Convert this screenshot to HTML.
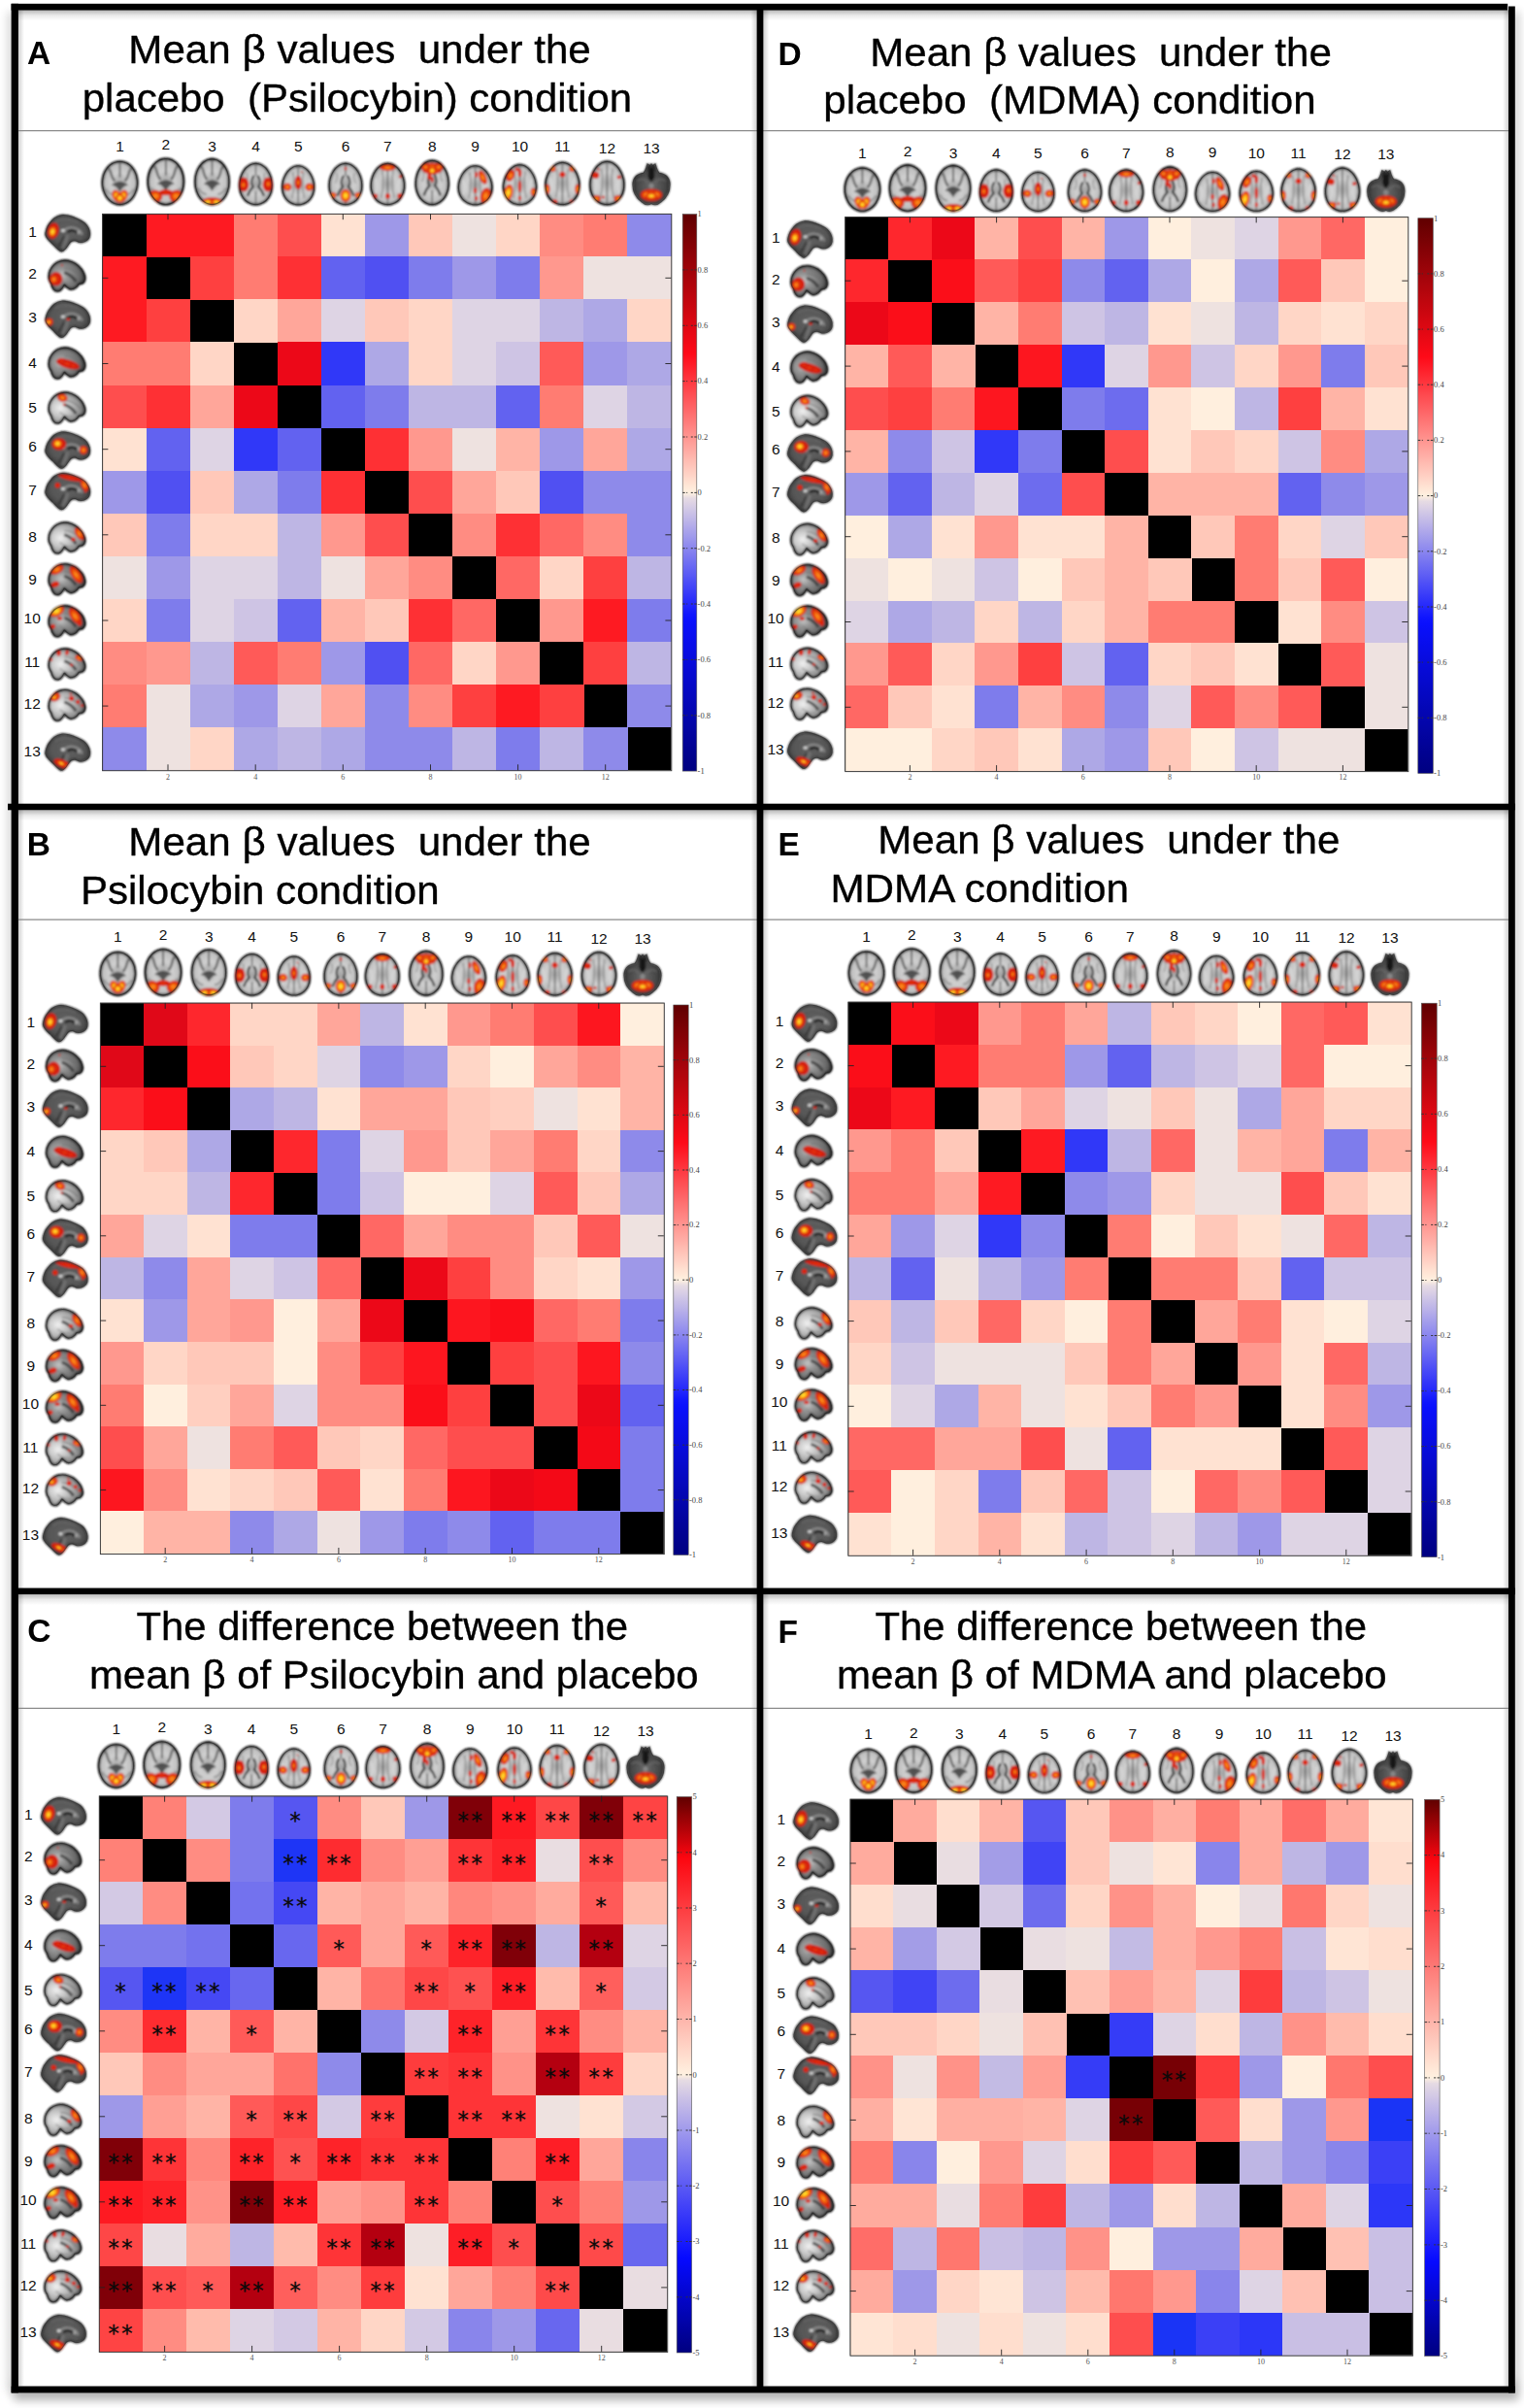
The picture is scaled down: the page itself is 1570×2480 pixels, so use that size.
<!DOCTYPE html>
<html lang="en"><head><meta charset="utf-8"><title>Mean β values</title>
<style>html,body{margin:0;padding:0;background:#fff}svg{display:block}text{white-space:pre}
.p0{d:path("M0,-22.1C1.3,-22.1 2.7,-21.9 4,-21.5C5.3,-21.2 6.6,-20.6 7.8,-19.9C9,-19.2 10.1,-18.3 11.1,-17.3C12.2,-16.3 13.1,-15.1 13.9,-13.8C14.7,-12.5 15.4,-11.1 16,-9.6C16.5,-8.1 17,-6.5 17.2,-4.9C17.5,-3.3 17.6,-1.6 17.6,-0C17.6,1.6 17.4,3.3 17.1,4.9C16.8,6.5 16.3,8.1 15.7,9.6C15.1,11.1 14.4,12.5 13.6,13.8C12.8,15.1 11.8,16.3 10.8,17.3C9.8,18.3 8.7,19.2 7.5,19.9C6.3,20.6 5.1,21.2 3.8,21.5C2.6,21.9 1.3,22.1 0,22.1C-1.3,22.1 -2.6,21.9 -3.8,21.5C-5.1,21.2 -6.3,20.6 -7.5,19.9C-8.7,19.2 -9.8,18.3 -10.8,17.3C-11.8,16.3 -12.8,15.1 -13.6,13.8C-14.4,12.5 -15.1,11.1 -15.7,9.6C-16.3,8.1 -16.8,6.5 -17.1,4.9C-17.4,3.3 -17.6,1.6 -17.6,0C-17.6,-1.6 -17.5,-3.3 -17.2,-4.9C-17,-6.5 -16.5,-8.1 -16,-9.6C-15.4,-11.1 -14.7,-12.5 -13.9,-13.8C-13.1,-15.1 -12.2,-16.3 -11.1,-17.3C-10.1,-18.3 -9,-19.2 -7.8,-19.9C-6.6,-20.6 -5.3,-21.2 -4,-21.5C-2.7,-21.9 -1.3,-22.1 0,-22.1Z");fill:url(#ga);stroke:#080808;stroke-width:2.5}
.p1{d:path("M0,-21 L0,-6");opacity:.8;stroke:#3c3c3c;stroke-width:1.6}
.p2{d:path("M-11,-15 C-8,-10 -9,-5 -5,-2 M11,-15 C8,-10 9,-5 5,-2");fill:none;opacity:.75;stroke:#4a4a4a;stroke-width:2.4}
.p3{d:path("M-9,3 C-5,-3 5,-3 9,3 C5,1 2,6 0,9 C-2,6 -5,1 -9,3 Z");fill:#3a3a3a;opacity:.8}
.p4{d:path("M-14,6 C-12,10 -9,12 -6,12 M14,6 C12,10 9,12 6,12");fill:none;opacity:.6;stroke:#666;stroke-width:1.6}
.p5{d:path("M0,-22.1C1.3,-22.1 2.7,-21.9 4,-21.5C5.3,-21.2 6.6,-20.6 7.8,-19.9C9,-19.2 10.1,-18.3 11.1,-17.3C12.2,-16.3 13.1,-15.1 13.9,-13.8C14.7,-12.5 15.4,-11.1 16,-9.6C16.5,-8.1 17,-6.5 17.2,-4.9C17.5,-3.3 17.6,-1.6 17.6,-0C17.6,1.6 17.4,3.3 17.1,4.9C16.8,6.5 16.3,8.1 15.7,9.6C15.1,11.1 14.4,12.5 13.6,13.8C12.8,15.1 11.8,16.3 10.8,17.3C9.8,18.3 8.7,19.2 7.5,19.9C6.3,20.6 5.1,21.2 3.8,21.5C2.6,21.9 1.3,22.1 0,22.1C-1.3,22.1 -2.6,21.9 -3.8,21.5C-5.1,21.2 -6.3,20.6 -7.5,19.9C-8.7,19.2 -9.8,18.3 -10.8,17.3C-11.8,16.3 -12.8,15.1 -13.6,13.8C-14.4,12.5 -15.1,11.1 -15.7,9.6C-16.3,8.1 -16.8,6.5 -17.1,4.9C-17.4,3.3 -17.6,1.6 -17.6,0C-17.6,-1.6 -17.5,-3.3 -17.2,-4.9C-17,-6.5 -16.5,-8.1 -16,-9.6C-15.4,-11.1 -14.7,-12.5 -13.9,-13.8C-13.1,-15.1 -12.2,-16.3 -11.1,-17.3C-10.1,-18.3 -9,-19.2 -7.8,-19.9C-6.6,-20.6 -5.3,-21.2 -4,-21.5C-2.7,-21.9 -1.3,-22.1 0,-22.1Z");fill:none;opacity:.55;stroke:#1a1a1a;stroke-width:1.1}
.p6{d:path("M0,21.8C-0.3,19.9 0.6,17.4 1.2,15.5C1.8,13.6 2.2,12.4 3.6,10.5C5,8.6 7,5.6 9.3,3.9C11.6,2.2 14.5,0.9 17.2,0.5C19.8,0 22.2,0.5 25.2,1.2C28.2,1.9 32.1,3.5 35,4.8C37.9,6.1 40.5,7.5 42.4,9.1C44.3,10.7 45.4,12.6 46.3,14.4C47.2,16.2 47.7,18 47.8,19.8C47.9,21.6 47.8,23.7 47,25.2C46.2,26.7 44.5,28.2 42.8,29C41.1,29.8 38.8,30.1 37,29.9C35.2,29.7 33.4,28.1 31.8,28C30.2,27.9 28.5,28.4 27.3,29.2C26.1,30 25.5,31.4 24.5,32.8C23.5,34.1 22.4,36.1 21.2,37.3C20,38.5 18.5,39.8 17.2,39.8C15.9,39.8 14.8,38.6 13.2,37.3C11.6,36 9.6,33.6 7.9,31.9C6.2,30.1 4.1,28.5 2.8,26.8C1.5,25.1 0.3,23.7 0,21.8Z");fill:url(#gm);stroke:#141414;stroke-width:1.8}
.p7{d:path("M19,18.5 C22,13 31,12.5 36.5,17 C38.5,18.8 39.3,20.5 39.5,22");fill:none;opacity:.85;stroke:#8e8e8e;stroke-width:2.6}
.p8{d:path("M24,19 C27,16 32,16.5 35,20.5");fill:none;opacity:.9;stroke:#141414;stroke-width:2.6}
.p9{d:path("M24,22 C23,27 21,32 18.5,37");fill:none;opacity:.75;stroke:#767676;stroke-width:3.6}
.p10{d:path("M20,23 C18,27 16,31 14,34");fill:none;opacity:.8;stroke:#222;stroke-width:1.5}
.p11{d:path("M10,8 C16,4 26,4 36,8");fill:none;opacity:.45;stroke:#6c6c6c;stroke-width:2.5}
.p12{d:path("M0,21.8C-0.3,19.9 0.6,17.4 1.2,15.5C1.8,13.6 2.2,12.4 3.6,10.5C5,8.6 7,5.6 9.3,3.9C11.6,2.2 14.5,0.9 17.2,0.5C19.8,0 22.2,0.5 25.2,1.2C28.2,1.9 32.1,3.5 35,4.8C37.9,6.1 40.5,7.5 42.4,9.1C44.3,10.7 45.4,12.6 46.3,14.4C47.2,16.2 47.7,18 47.8,19.8C47.9,21.6 47.8,23.7 47,25.2C46.2,26.7 44.5,28.2 42.8,29C41.1,29.8 38.8,30.1 37,29.9C35.2,29.7 33.4,28.1 31.8,28C30.2,27.9 28.5,28.4 27.3,29.2C26.1,30 25.5,31.4 24.5,32.8C23.5,34.1 22.4,36.1 21.2,37.3C20,38.5 18.5,39.8 17.2,39.8C15.9,39.8 14.8,38.6 13.2,37.3C11.6,36 9.6,33.6 7.9,31.9C6.2,30.1 4.1,28.5 2.8,26.8C1.5,25.1 0.3,23.7 0,21.8Z");fill:none;opacity:.5;stroke:#1a1a1a;stroke-width:1.1}
.p13{d:path("M0,-22.1C1.3,-22.1 2.6,-21.9 3.9,-21.5C5.2,-21.2 6.5,-20.6 7.6,-19.9C8.8,-19.2 10,-18.3 11,-17.3C12,-16.3 12.9,-15.1 13.8,-13.8C14.6,-12.5 15.3,-11.1 15.9,-9.6C16.4,-8.1 16.9,-6.5 17.2,-4.9C17.4,-3.3 17.6,-1.6 17.6,-0C17.6,1.6 17.4,3.3 17.2,4.9C16.9,6.5 16.4,8.1 15.9,9.6C15.3,11.1 14.6,12.5 13.8,13.8C12.9,15.1 12,16.3 11,17.3C10,18.3 8.8,19.2 7.6,19.9C6.5,20.6 5.2,21.2 3.9,21.5C2.6,21.9 1.3,22.1 0,22.1C-1.3,22.1 -2.6,21.9 -3.9,21.5C-5.2,21.2 -6.5,20.6 -7.6,19.9C-8.8,19.2 -10,18.3 -11,17.3C-12,16.3 -12.9,15.1 -13.8,13.8C-14.6,12.5 -15.3,11.1 -15.9,9.6C-16.4,8.1 -16.9,6.5 -17.2,4.9C-17.4,3.3 -17.6,1.6 -17.6,0C-17.6,-1.6 -17.4,-3.3 -17.2,-4.9C-16.9,-6.5 -16.4,-8.1 -15.9,-9.6C-15.3,-11.1 -14.6,-12.5 -13.8,-13.8C-12.9,-15.1 -12,-16.3 -11,-17.3C-10,-18.3 -8.8,-19.2 -7.6,-19.9C-6.5,-20.6 -5.2,-21.2 -3.9,-21.5C-2.6,-21.9 -1.3,-22.1 0,-22.1Z");fill:url(#ga);stroke:#080808;stroke-width:2.5}
.p14{d:path("M0,-22.1C1.3,-22.1 2.6,-21.9 3.9,-21.5C5.2,-21.2 6.5,-20.6 7.6,-19.9C8.8,-19.2 10,-18.3 11,-17.3C12,-16.3 12.9,-15.1 13.8,-13.8C14.6,-12.5 15.3,-11.1 15.9,-9.6C16.4,-8.1 16.9,-6.5 17.2,-4.9C17.4,-3.3 17.6,-1.6 17.6,-0C17.6,1.6 17.4,3.3 17.2,4.9C16.9,6.5 16.4,8.1 15.9,9.6C15.3,11.1 14.6,12.5 13.8,13.8C12.9,15.1 12,16.3 11,17.3C10,18.3 8.8,19.2 7.6,19.9C6.5,20.6 5.2,21.2 3.9,21.5C2.6,21.9 1.3,22.1 0,22.1C-1.3,22.1 -2.6,21.9 -3.9,21.5C-5.2,21.2 -6.5,20.6 -7.6,19.9C-8.8,19.2 -10,18.3 -11,17.3C-12,16.3 -12.9,15.1 -13.8,13.8C-14.6,12.5 -15.3,11.1 -15.9,9.6C-16.4,8.1 -16.9,6.5 -17.2,4.9C-17.4,3.3 -17.6,1.6 -17.6,0C-17.6,-1.6 -17.4,-3.3 -17.2,-4.9C-16.9,-6.5 -16.4,-8.1 -15.9,-9.6C-15.3,-11.1 -14.6,-12.5 -13.8,-13.8C-12.9,-15.1 -12,-16.3 -11,-17.3C-10,-18.3 -8.8,-19.2 -7.6,-19.9C-6.5,-20.6 -5.2,-21.2 -3.9,-21.5C-2.6,-21.9 -1.3,-22.1 0,-22.1Z");fill:none;opacity:.55;stroke:#1a1a1a;stroke-width:1.1}
.p15{d:path("M0,17.7C0.1,15.8 0.4,13.2 1.4,11C2.4,8.8 4.2,6.2 6.1,4.5C8,2.8 10.4,1.6 12.9,0.9C15.4,0.2 18.3,0 21,0.5C23.7,1 26.7,2.2 29.2,3.7C31.7,5.2 34.2,7.7 35.9,9.7C37.5,11.7 38.5,13.8 39.1,15.7C39.8,17.6 40.1,19.4 39.8,21C39.5,22.6 38.4,24.2 37.3,25C36.2,25.8 34.2,25.4 33.2,26C32.2,26.6 32.1,27.7 31.2,28.5C30.3,29.3 29.1,30.5 27.8,31C26.6,31.5 25.1,32 23.7,31.7C22.3,31.4 20.8,30 19.7,29.2C18.6,28.4 17.8,26.8 17,27C16.2,27.2 15.8,29.2 14.9,30.3C14,31.4 12.8,33 11.5,33.5C10.2,34 8,33.8 6.8,33.2C5.6,32.6 4.8,30.9 4.1,29.7C3.4,28.4 3.2,26.9 2.7,25.7C2.2,24.5 1.2,23.6 0.8,22.3C0.4,21 -0.1,19.6 0,17.7Z");fill:url(#gl);stroke:#080808;stroke-width:2.6}
.p16{d:path("M17,13.5 C22,15 27,19 30,23.5");fill:none;opacity:.75;stroke:#2e2e2e;stroke-width:3.2}
.p17{d:path("M17,9 C23,9 30,12 35,18");fill:none;opacity:.55;stroke:#6e6e6e;stroke-width:1.8}
.p18{d:path("M12,22 C16,25 22,27 27,27");fill:none;opacity:.5;stroke:#777;stroke-width:1.6}
.p19{d:path("M0,17.7C0.1,15.8 0.4,13.2 1.4,11C2.4,8.8 4.2,6.2 6.1,4.5C8,2.8 10.4,1.6 12.9,0.9C15.4,0.2 18.3,0 21,0.5C23.7,1 26.7,2.2 29.2,3.7C31.7,5.2 34.2,7.7 35.9,9.7C37.5,11.7 38.5,13.8 39.1,15.7C39.8,17.6 40.1,19.4 39.8,21C39.5,22.6 38.4,24.2 37.3,25C36.2,25.8 34.2,25.4 33.2,26C32.2,26.6 32.1,27.7 31.2,28.5C30.3,29.3 29.1,30.5 27.8,31C26.6,31.5 25.1,32 23.7,31.7C22.3,31.4 20.8,30 19.7,29.2C18.6,28.4 17.8,26.8 17,27C16.2,27.2 15.8,29.2 14.9,30.3C14,31.4 12.8,33 11.5,33.5C10.2,34 8,33.8 6.8,33.2C5.6,32.6 4.8,30.9 4.1,29.7C3.4,28.4 3.2,26.9 2.7,25.7C2.2,24.5 1.2,23.6 0.8,22.3C0.4,21 -0.1,19.6 0,17.7Z");fill:none;opacity:.5;stroke:#1a1a1a;stroke-width:1.1}
.p20{d:path("M0,-22.1C1.2,-22.1 2.5,-21.9 3.7,-21.5C4.9,-21.2 6.1,-20.6 7.2,-19.9C8.4,-19.2 9.5,-18.3 10.5,-17.3C11.5,-16.3 12.4,-15.1 13.2,-13.8C14.1,-12.5 14.8,-11.1 15.4,-9.6C16.1,-8.1 16.6,-6.5 16.9,-4.9C17.3,-3.3 17.5,-1.6 17.6,-0C17.7,1.6 17.6,3.3 17.4,4.9C17.2,6.5 16.8,8.1 16.3,9.6C15.8,11.1 15.1,12.5 14.3,13.8C13.5,15.1 12.5,16.3 11.5,17.3C10.5,18.3 9.3,19.2 8,19.9C6.8,20.6 5.5,21.2 4.1,21.5C2.8,21.9 1.4,22.1 0,22.1C-1.4,22.1 -2.8,21.9 -4.1,21.5C-5.5,21.2 -6.8,20.6 -8,19.9C-9.3,19.2 -10.5,18.3 -11.5,17.3C-12.5,16.3 -13.5,15.1 -14.3,13.8C-15.1,12.5 -15.8,11.1 -16.3,9.6C-16.8,8.1 -17.2,6.5 -17.4,4.9C-17.6,3.3 -17.7,1.6 -17.6,0C-17.5,-1.6 -17.3,-3.3 -16.9,-4.9C-16.6,-6.5 -16.1,-8.1 -15.4,-9.6C-14.8,-11.1 -14.1,-12.5 -13.2,-13.8C-12.4,-15.1 -11.5,-16.3 -10.5,-17.3C-9.5,-18.3 -8.4,-19.2 -7.2,-19.9C-6.1,-20.6 -4.9,-21.2 -3.7,-21.5C-2.5,-21.9 -1.2,-22.1 0,-22.1Z");fill:url(#ga);stroke:#080808;stroke-width:2.5}
.p21{d:path("M0,-22 L0,-9 M0,8 L0,22");opacity:.8;stroke:#444;stroke-width:1.4}
.p22{d:path("M-2,-9 C-5,-5 -5,0 -3,3 C-6,6 -8,10 -9,13 M2,-9 C5,-5 5,0 3,3 C6,6 8,10 9,13");fill:none;opacity:.85;stroke:#262626;stroke-width:2.4}
.p23{d:path("M-10,-12 C-8,-8 -9,-4 -11,-1 M10,-12 C8,-8 9,-4 11,-1");fill:none;opacity:.5;stroke:#777;stroke-width:1.6}
.p24{d:path("M0,-22.1C1.2,-22.1 2.5,-21.9 3.7,-21.5C4.9,-21.2 6.1,-20.6 7.2,-19.9C8.4,-19.2 9.5,-18.3 10.5,-17.3C11.5,-16.3 12.4,-15.1 13.2,-13.8C14.1,-12.5 14.8,-11.1 15.4,-9.6C16.1,-8.1 16.6,-6.5 16.9,-4.9C17.3,-3.3 17.5,-1.6 17.6,-0C17.7,1.6 17.6,3.3 17.4,4.9C17.2,6.5 16.8,8.1 16.3,9.6C15.8,11.1 15.1,12.5 14.3,13.8C13.5,15.1 12.5,16.3 11.5,17.3C10.5,18.3 9.3,19.2 8,19.9C6.8,20.6 5.5,21.2 4.1,21.5C2.8,21.9 1.4,22.1 0,22.1C-1.4,22.1 -2.8,21.9 -4.1,21.5C-5.5,21.2 -6.8,20.6 -8,19.9C-9.3,19.2 -10.5,18.3 -11.5,17.3C-12.5,16.3 -13.5,15.1 -14.3,13.8C-15.1,12.5 -15.8,11.1 -16.3,9.6C-16.8,8.1 -17.2,6.5 -17.4,4.9C-17.6,3.3 -17.7,1.6 -17.6,0C-17.5,-1.6 -17.3,-3.3 -16.9,-4.9C-16.6,-6.5 -16.1,-8.1 -15.4,-9.6C-14.8,-11.1 -14.1,-12.5 -13.2,-13.8C-12.4,-15.1 -11.5,-16.3 -10.5,-17.3C-9.5,-18.3 -8.4,-19.2 -7.2,-19.9C-6.1,-20.6 -4.9,-21.2 -3.7,-21.5C-2.5,-21.9 -1.2,-22.1 0,-22.1Z");fill:none;opacity:.55;stroke:#1a1a1a;stroke-width:1.1}
.p25{d:path("M0,-22.1C1.2,-22.1 2.4,-21.9 3.5,-21.5C4.7,-21.2 5.9,-20.6 6.9,-19.9C8,-19.2 9.1,-18.3 10.1,-17.3C11.1,-16.3 12.1,-15.1 12.9,-13.8C13.7,-12.5 14.5,-11.1 15.2,-9.6C15.8,-8.1 16.4,-6.5 16.8,-4.9C17.2,-3.3 17.5,-1.6 17.6,-0C17.7,1.6 17.7,3.3 17.5,4.9C17.4,6.5 17,8.1 16.5,9.6C16.1,11.1 15.4,12.5 14.6,13.8C13.8,15.1 12.9,16.3 11.8,17.3C10.8,18.3 9.6,19.2 8.3,19.9C7.1,20.6 5.7,21.2 4.3,21.5C2.9,21.9 1.4,22.1 0,22.1C-1.4,22.1 -2.9,21.9 -4.3,21.5C-5.7,21.2 -7.1,20.6 -8.3,19.9C-9.6,19.2 -10.8,18.3 -11.8,17.3C-12.9,16.3 -13.8,15.1 -14.6,13.8C-15.4,12.5 -16.1,11.1 -16.5,9.6C-17,8.1 -17.4,6.5 -17.5,4.9C-17.7,3.3 -17.7,1.6 -17.6,0C-17.5,-1.6 -17.2,-3.3 -16.8,-4.9C-16.4,-6.5 -15.8,-8.1 -15.2,-9.6C-14.5,-11.1 -13.7,-12.5 -12.9,-13.8C-12.1,-15.1 -11.1,-16.3 -10.1,-17.3C-9.1,-18.3 -8,-19.2 -6.9,-19.9C-5.9,-20.6 -4.7,-21.2 -3.5,-21.5C-2.4,-21.9 -1.2,-22.1 0,-22.1Z");fill:url(#ga);stroke:#080808;stroke-width:2.5}
.p26{d:path("M0,-22 L0,22");opacity:.75;stroke:#505050;stroke-width:1.5}
.p27{d:path("M-6,-15 C-4,-5 -5,6 -7,15 M6,-15 C4,-5 5,6 7,15");fill:none;opacity:.5;stroke:#7a7a7a;stroke-width:2.2}
.p28{d:path("M-13,-6 C-11,0 -11,6 -13,11 M13,-6 C11,0 11,6 13,11");fill:none;opacity:.5;stroke:#e4e4e4;stroke-width:2.5}
.p29{d:path("M0,-22.1C1.2,-22.1 2.4,-21.9 3.5,-21.5C4.7,-21.2 5.9,-20.6 6.9,-19.9C8,-19.2 9.1,-18.3 10.1,-17.3C11.1,-16.3 12.1,-15.1 12.9,-13.8C13.7,-12.5 14.5,-11.1 15.2,-9.6C15.8,-8.1 16.4,-6.5 16.8,-4.9C17.2,-3.3 17.5,-1.6 17.6,-0C17.7,1.6 17.7,3.3 17.5,4.9C17.4,6.5 17,8.1 16.5,9.6C16.1,11.1 15.4,12.5 14.6,13.8C13.8,15.1 12.9,16.3 11.8,17.3C10.8,18.3 9.6,19.2 8.3,19.9C7.1,20.6 5.7,21.2 4.3,21.5C2.9,21.9 1.4,22.1 0,22.1C-1.4,22.1 -2.9,21.9 -4.3,21.5C-5.7,21.2 -7.1,20.6 -8.3,19.9C-9.6,19.2 -10.8,18.3 -11.8,17.3C-12.9,16.3 -13.8,15.1 -14.6,13.8C-15.4,12.5 -16.1,11.1 -16.5,9.6C-17,8.1 -17.4,6.5 -17.5,4.9C-17.7,3.3 -17.7,1.6 -17.6,0C-17.5,-1.6 -17.2,-3.3 -16.8,-4.9C-16.4,-6.5 -15.8,-8.1 -15.2,-9.6C-14.5,-11.1 -13.7,-12.5 -12.9,-13.8C-12.1,-15.1 -11.1,-16.3 -10.1,-17.3C-9.1,-18.3 -8,-19.2 -6.9,-19.9C-5.9,-20.6 -4.7,-21.2 -3.5,-21.5C-2.4,-21.9 -1.2,-22.1 0,-22.1Z");fill:none;opacity:.55;stroke:#1a1a1a;stroke-width:1.1}
.p30{d:path("M0,17.7C0.1,15.8 0.4,13.2 1.4,11C2.4,8.8 4.2,6.2 6.1,4.5C8,2.8 10.4,1.6 12.9,0.9C15.4,0.2 18.3,0 21,0.5C23.7,1 26.7,2.2 29.2,3.7C31.7,5.2 34.2,7.7 35.9,9.7C37.5,11.7 38.5,13.8 39.1,15.7C39.8,17.6 40.1,19.4 39.8,21C39.5,22.6 38.4,24.2 37.3,25C36.2,25.8 34.2,25.4 33.2,26C32.2,26.6 32.1,27.7 31.2,28.5C30.3,29.3 29.1,30.5 27.8,31C26.6,31.5 25.1,32 23.7,31.7C22.3,31.4 20.8,30 19.7,29.2C18.6,28.4 17.8,26.8 17,27C16.2,27.2 15.8,29.2 14.9,30.3C14,31.4 12.8,33 11.5,33.5C10.2,34 8,33.8 6.8,33.2C5.6,32.6 4.8,30.9 4.1,29.7C3.4,28.4 3.2,26.9 2.7,25.7C2.2,24.5 1.2,23.6 0.8,22.3C0.4,21 -0.1,19.6 0,17.7Z");fill:url(#gl2);stroke:#080808;stroke-width:2.6}
.p31{d:path("M0,-22.1C1.2,-22.1 2.4,-21.9 3.6,-21.5C4.8,-21.2 6,-20.6 7.1,-19.9C8.2,-19.2 9.3,-18.3 10.3,-17.3C11.3,-16.3 12.2,-15.1 13.1,-13.8C13.9,-12.5 14.7,-11.1 15.3,-9.6C15.9,-8.1 16.5,-6.5 16.9,-4.9C17.2,-3.3 17.5,-1.6 17.6,-0C17.7,1.6 17.7,3.3 17.5,4.9C17.3,6.5 16.9,8.1 16.4,9.6C15.9,11.1 15.2,12.5 14.4,13.8C13.7,15.1 12.7,16.3 11.7,17.3C10.6,18.3 9.4,19.2 8.2,19.9C6.9,20.6 5.6,21.2 4.2,21.5C2.9,21.9 1.4,22.1 0,22.1C-1.4,22.1 -2.9,21.9 -4.2,21.5C-5.6,21.2 -6.9,20.6 -8.2,19.9C-9.4,19.2 -10.6,18.3 -11.7,17.3C-12.7,16.3 -13.7,15.1 -14.4,13.8C-15.2,12.5 -15.9,11.1 -16.4,9.6C-16.9,8.1 -17.3,6.5 -17.5,4.9C-17.7,3.3 -17.7,1.6 -17.6,0C-17.5,-1.6 -17.2,-3.3 -16.9,-4.9C-16.5,-6.5 -15.9,-8.1 -15.3,-9.6C-14.7,-11.1 -13.9,-12.5 -13.1,-13.8C-12.2,-15.1 -11.3,-16.3 -10.3,-17.3C-9.3,-18.3 -8.2,-19.2 -7.1,-19.9C-6,-20.6 -4.8,-21.2 -3.6,-21.5C-2.4,-21.9 -1.2,-22.1 0,-22.1Z");fill:url(#ga);stroke:#080808;stroke-width:2.5}
.p32{d:path("M0,-22.1C1.2,-22.1 2.4,-21.9 3.6,-21.5C4.8,-21.2 6,-20.6 7.1,-19.9C8.2,-19.2 9.3,-18.3 10.3,-17.3C11.3,-16.3 12.2,-15.1 13.1,-13.8C13.9,-12.5 14.7,-11.1 15.3,-9.6C15.9,-8.1 16.5,-6.5 16.9,-4.9C17.2,-3.3 17.5,-1.6 17.6,-0C17.7,1.6 17.7,3.3 17.5,4.9C17.3,6.5 16.9,8.1 16.4,9.6C15.9,11.1 15.2,12.5 14.4,13.8C13.7,15.1 12.7,16.3 11.7,17.3C10.6,18.3 9.4,19.2 8.2,19.9C6.9,20.6 5.6,21.2 4.2,21.5C2.9,21.9 1.4,22.1 0,22.1C-1.4,22.1 -2.9,21.9 -4.2,21.5C-5.6,21.2 -6.9,20.6 -8.2,19.9C-9.4,19.2 -10.6,18.3 -11.7,17.3C-12.7,16.3 -13.7,15.1 -14.4,13.8C-15.2,12.5 -15.9,11.1 -16.4,9.6C-16.9,8.1 -17.3,6.5 -17.5,4.9C-17.7,3.3 -17.7,1.6 -17.6,0C-17.5,-1.6 -17.2,-3.3 -16.9,-4.9C-16.5,-6.5 -15.9,-8.1 -15.3,-9.6C-14.7,-11.1 -13.9,-12.5 -13.1,-13.8C-12.2,-15.1 -11.3,-16.3 -10.3,-17.3C-9.3,-18.3 -8.2,-19.2 -7.1,-19.9C-6,-20.6 -4.8,-21.2 -3.6,-21.5C-2.4,-21.9 -1.2,-22.1 0,-22.1Z");fill:none;opacity:.55;stroke:#1a1a1a;stroke-width:1.1}
.p33{d:path("M0,-22.1C1.3,-22.1 2.5,-21.9 3.8,-21.5C5,-21.2 6.2,-20.6 7.4,-19.9C8.5,-19.2 9.6,-18.3 10.6,-17.3C11.6,-16.3 12.6,-15.1 13.4,-13.8C14.2,-12.5 15,-11.1 15.6,-9.6C16.2,-8.1 16.7,-6.5 17,-4.9C17.3,-3.3 17.5,-1.6 17.6,-0C17.7,1.6 17.6,3.3 17.3,4.9C17.1,6.5 16.7,8.1 16.1,9.6C15.6,11.1 14.9,12.5 14.1,13.8C13.3,15.1 12.3,16.3 11.3,17.3C10.3,18.3 9.1,19.2 7.9,19.9C6.7,20.6 5.4,21.2 4.1,21.5C2.8,21.9 1.4,22.1 0,22.1C-1.4,22.1 -2.8,21.9 -4.1,21.5C-5.4,21.2 -6.7,20.6 -7.9,19.9C-9.1,19.2 -10.3,18.3 -11.3,17.3C-12.3,16.3 -13.3,15.1 -14.1,13.8C-14.9,12.5 -15.6,11.1 -16.1,9.6C-16.7,8.1 -17.1,6.5 -17.3,4.9C-17.6,3.3 -17.7,1.6 -17.6,0C-17.5,-1.6 -17.3,-3.3 -17,-4.9C-16.7,-6.5 -16.2,-8.1 -15.6,-9.6C-15,-11.1 -14.2,-12.5 -13.4,-13.8C-12.6,-15.1 -11.6,-16.3 -10.6,-17.3C-9.6,-18.3 -8.5,-19.2 -7.4,-19.9C-6.2,-20.6 -5,-21.2 -3.8,-21.5C-2.5,-21.9 -1.3,-22.1 0,-22.1Z");fill:url(#ga);stroke:#080808;stroke-width:2.5}
.p34{d:path("M0,-22.1C1.3,-22.1 2.5,-21.9 3.8,-21.5C5,-21.2 6.2,-20.6 7.4,-19.9C8.5,-19.2 9.6,-18.3 10.6,-17.3C11.6,-16.3 12.6,-15.1 13.4,-13.8C14.2,-12.5 15,-11.1 15.6,-9.6C16.2,-8.1 16.7,-6.5 17,-4.9C17.3,-3.3 17.5,-1.6 17.6,-0C17.7,1.6 17.6,3.3 17.3,4.9C17.1,6.5 16.7,8.1 16.1,9.6C15.6,11.1 14.9,12.5 14.1,13.8C13.3,15.1 12.3,16.3 11.3,17.3C10.3,18.3 9.1,19.2 7.9,19.9C6.7,20.6 5.4,21.2 4.1,21.5C2.8,21.9 1.4,22.1 0,22.1C-1.4,22.1 -2.8,21.9 -4.1,21.5C-5.4,21.2 -6.7,20.6 -7.9,19.9C-9.1,19.2 -10.3,18.3 -11.3,17.3C-12.3,16.3 -13.3,15.1 -14.1,13.8C-14.9,12.5 -15.6,11.1 -16.1,9.6C-16.7,8.1 -17.1,6.5 -17.3,4.9C-17.6,3.3 -17.7,1.6 -17.6,0C-17.5,-1.6 -17.3,-3.3 -17,-4.9C-16.7,-6.5 -16.2,-8.1 -15.6,-9.6C-15,-11.1 -14.2,-12.5 -13.4,-13.8C-12.6,-15.1 -11.6,-16.3 -10.6,-17.3C-9.6,-18.3 -8.5,-19.2 -7.4,-19.9C-6.2,-20.6 -5,-21.2 -3.8,-21.5C-2.5,-21.9 -1.3,-22.1 0,-22.1Z");fill:none;opacity:.55;stroke:#1a1a1a;stroke-width:1.1}
.p35{d:path("M0,-22.1C1.2,-22.1 2.3,-21.9 3.5,-21.5C4.6,-21.2 5.7,-20.6 6.8,-19.9C7.9,-19.2 9,-18.3 9.9,-17.3C10.9,-16.3 11.9,-15.1 12.7,-13.8C13.6,-12.5 14.4,-11.1 15,-9.6C15.7,-8.1 16.3,-6.5 16.7,-4.9C17.1,-3.3 17.4,-1.6 17.6,-0C17.8,1.6 17.8,3.3 17.6,4.9C17.5,6.5 17.2,8.1 16.7,9.6C16.2,11.1 15.6,12.5 14.8,13.8C14,15.1 13.1,16.3 12,17.3C10.9,18.3 9.7,19.2 8.5,19.9C7.2,20.6 5.8,21.2 4.4,21.5C3,21.9 1.5,22.1 0,22.1C-1.5,22.1 -3,21.9 -4.4,21.5C-5.8,21.2 -7.2,20.6 -8.5,19.9C-9.7,19.2 -10.9,18.3 -12,17.3C-13.1,16.3 -14,15.1 -14.8,13.8C-15.6,12.5 -16.2,11.1 -16.7,9.6C-17.2,8.1 -17.5,6.5 -17.6,4.9C-17.8,3.3 -17.8,1.6 -17.6,0C-17.4,-1.6 -17.1,-3.3 -16.7,-4.9C-16.3,-6.5 -15.7,-8.1 -15,-9.6C-14.4,-11.1 -13.6,-12.5 -12.7,-13.8C-11.9,-15.1 -10.9,-16.3 -9.9,-17.3C-9,-18.3 -7.9,-19.2 -6.8,-19.9C-5.7,-20.6 -4.6,-21.2 -3.5,-21.5C-2.3,-21.9 -1.2,-22.1 0,-22.1Z");fill:url(#ga);stroke:#080808;stroke-width:2.5}
.p36{d:path("M0,-22.1C1.2,-22.1 2.3,-21.9 3.5,-21.5C4.6,-21.2 5.7,-20.6 6.8,-19.9C7.9,-19.2 9,-18.3 9.9,-17.3C10.9,-16.3 11.9,-15.1 12.7,-13.8C13.6,-12.5 14.4,-11.1 15,-9.6C15.7,-8.1 16.3,-6.5 16.7,-4.9C17.1,-3.3 17.4,-1.6 17.6,-0C17.8,1.6 17.8,3.3 17.6,4.9C17.5,6.5 17.2,8.1 16.7,9.6C16.2,11.1 15.6,12.5 14.8,13.8C14,15.1 13.1,16.3 12,17.3C10.9,18.3 9.7,19.2 8.5,19.9C7.2,20.6 5.8,21.2 4.4,21.5C3,21.9 1.5,22.1 0,22.1C-1.5,22.1 -3,21.9 -4.4,21.5C-5.8,21.2 -7.2,20.6 -8.5,19.9C-9.7,19.2 -10.9,18.3 -12,17.3C-13.1,16.3 -14,15.1 -14.8,13.8C-15.6,12.5 -16.2,11.1 -16.7,9.6C-17.2,8.1 -17.5,6.5 -17.6,4.9C-17.8,3.3 -17.8,1.6 -17.6,0C-17.4,-1.6 -17.1,-3.3 -16.7,-4.9C-16.3,-6.5 -15.7,-8.1 -15,-9.6C-14.4,-11.1 -13.6,-12.5 -12.7,-13.8C-11.9,-15.1 -10.9,-16.3 -9.9,-17.3C-9,-18.3 -7.9,-19.2 -6.8,-19.9C-5.7,-20.6 -4.6,-21.2 -3.5,-21.5C-2.3,-21.9 -1.2,-22.1 0,-22.1Z");fill:none;opacity:.55;stroke:#1a1a1a;stroke-width:1.1}
.p37{d:path("M-4,-23 C-5,-19 -6,-15 -8,-13 C-14,-12 -19,-8 -19,0 C-19,9 -15,15 -10,19 C-6,23 -3,23 0,21 C3,23 6,23 10,19 C15,15 19,9 19,0 C19,-8 14,-12 8,-13 C6,-15 5,-19 4,-23 L1.5,-21 L0,-23 L-1.5,-21 Z");fill:url(#gd);stroke:#1c1c1c;stroke-width:1.2}
.p38{d:path("M-3.5,-19 C-2,-12 -6,-8 0,-3 C6,-8 2,-12 3.5,-19 Z");fill:#0c0c0c;opacity:.85}
.p39{d:path("M-15,-4 C-10,-8 -6,-6 -4,-2 M15,-4 C10,-8 6,-6 4,-2");fill:none;opacity:.45;stroke:#777;stroke-width:2.2}
.p40{d:path("M-4,-23 C-5,-19 -6,-15 -8,-13 C-14,-12 -19,-8 -19,0 C-19,9 -15,15 -10,19 C-6,23 -3,23 0,21 C3,23 6,23 10,19 C15,15 19,9 19,0 C19,-8 14,-12 8,-13 C6,-15 5,-19 4,-23 L1.5,-21 L0,-23 L-1.5,-21 Z");fill:none;opacity:.55;stroke:#1a1a1a;stroke-width:1.1}</style></head><body>
<svg width="1570" height="2480" viewBox="0 0 1570 2480">
<defs>
<linearGradient id="cbar" x1="0" y1="0" x2="0" y2="1"><stop offset="0.00" stop-color="#600000"/><stop offset="0.01" stop-color="#660001"/><stop offset="0.02" stop-color="#6d0102"/><stop offset="0.03" stop-color="#730103"/><stop offset="0.04" stop-color="#790204"/><stop offset="0.05" stop-color="#800205"/><stop offset="0.06" stop-color="#860206"/><stop offset="0.07" stop-color="#8c0307"/><stop offset="0.08" stop-color="#930308"/><stop offset="0.09" stop-color="#990409"/><stop offset="0.10" stop-color="#9f040a"/><stop offset="0.11" stop-color="#a6040b"/><stop offset="0.12" stop-color="#ac050c"/><stop offset="0.13" stop-color="#b2050c"/><stop offset="0.14" stop-color="#b8060d"/><stop offset="0.15" stop-color="#bf060e"/><stop offset="0.16" stop-color="#c5060f"/><stop offset="0.17" stop-color="#cb0710"/><stop offset="0.18" stop-color="#d20711"/><stop offset="0.19" stop-color="#d80812"/><stop offset="0.20" stop-color="#de0813"/><stop offset="0.21" stop-color="#e50814"/><stop offset="0.22" stop-color="#eb0915"/><stop offset="0.23" stop-color="#f10916"/><stop offset="0.24" stop-color="#f80a17"/><stop offset="0.25" stop-color="#fe0a18"/><stop offset="0.26" stop-color="#fe1320"/><stop offset="0.27" stop-color="#fe1c28"/><stop offset="0.28" stop-color="#fe2630"/><stop offset="0.29" stop-color="#fe2f38"/><stop offset="0.30" stop-color="#fe3840"/><stop offset="0.31" stop-color="#fe4148"/><stop offset="0.32" stop-color="#fe4b50"/><stop offset="0.33" stop-color="#fe5458"/><stop offset="0.34" stop-color="#fe5d60"/><stop offset="0.35" stop-color="#fe6668"/><stop offset="0.36" stop-color="#fe7070"/><stop offset="0.37" stop-color="#fe7978"/><stop offset="0.38" stop-color="#ff8280"/><stop offset="0.39" stop-color="#ff8b88"/><stop offset="0.40" stop-color="#ff9590"/><stop offset="0.41" stop-color="#ff9e98"/><stop offset="0.42" stop-color="#ffa7a0"/><stop offset="0.43" stop-color="#ffb0a8"/><stop offset="0.44" stop-color="#ffbab0"/><stop offset="0.45" stop-color="#ffc3b8"/><stop offset="0.46" stop-color="#ffccc0"/><stop offset="0.47" stop-color="#ffd5c8"/><stop offset="0.48" stop-color="#ffdfd0"/><stop offset="0.49" stop-color="#ffe8d8"/><stop offset="0.50" stop-color="#fff1e0"/><stop offset="0.51" stop-color="#e6dbe3"/><stop offset="0.52" stop-color="#dcd1e5"/><stop offset="0.53" stop-color="#d1c8e6"/><stop offset="0.54" stop-color="#c7bee7"/><stop offset="0.55" stop-color="#bdb5e8"/><stop offset="0.56" stop-color="#b3abea"/><stop offset="0.57" stop-color="#a8a2eb"/><stop offset="0.58" stop-color="#9e99ec"/><stop offset="0.59" stop-color="#948fee"/><stop offset="0.60" stop-color="#8a86ef"/><stop offset="0.61" stop-color="#807cf0"/><stop offset="0.62" stop-color="#7573f1"/><stop offset="0.63" stop-color="#6b6af3"/><stop offset="0.64" stop-color="#6160f4"/><stop offset="0.65" stop-color="#5757f5"/><stop offset="0.66" stop-color="#4c4df7"/><stop offset="0.67" stop-color="#4244f8"/><stop offset="0.68" stop-color="#383af9"/><stop offset="0.69" stop-color="#2e31fa"/><stop offset="0.70" stop-color="#2428fc"/><stop offset="0.71" stop-color="#191efd"/><stop offset="0.72" stop-color="#0f15fe"/><stop offset="0.73" stop-color="#0a10fd"/><stop offset="0.74" stop-color="#090ff8"/><stop offset="0.75" stop-color="#090ff3"/><stop offset="0.76" stop-color="#090eef"/><stop offset="0.77" stop-color="#080dea"/><stop offset="0.78" stop-color="#080de6"/><stop offset="0.79" stop-color="#080ce1"/><stop offset="0.80" stop-color="#070cdc"/><stop offset="0.81" stop-color="#070bd8"/><stop offset="0.82" stop-color="#070ad3"/><stop offset="0.83" stop-color="#060acf"/><stop offset="0.84" stop-color="#0609ca"/><stop offset="0.85" stop-color="#0509c5"/><stop offset="0.86" stop-color="#0508c1"/><stop offset="0.87" stop-color="#0508bc"/><stop offset="0.88" stop-color="#0407b7"/><stop offset="0.89" stop-color="#0406b3"/><stop offset="0.90" stop-color="#0406ae"/><stop offset="0.91" stop-color="#0305aa"/><stop offset="0.92" stop-color="#0305a5"/><stop offset="0.93" stop-color="#0304a0"/><stop offset="0.94" stop-color="#02039c"/><stop offset="0.95" stop-color="#020397"/><stop offset="0.96" stop-color="#010292"/><stop offset="0.97" stop-color="#01028e"/><stop offset="0.98" stop-color="#010189"/><stop offset="0.99" stop-color="#000185"/><stop offset="1.00" stop-color="#000080"/></linearGradient>
<linearGradient id="cbar5" x1="0" y1="0" x2="0" y2="1"><stop offset="0.00" stop-color="#600000"/><stop offset="0.01" stop-color="#6e0101"/><stop offset="0.02" stop-color="#7c0103"/><stop offset="0.03" stop-color="#8b0204"/><stop offset="0.04" stop-color="#990206"/><stop offset="0.05" stop-color="#a70307"/><stop offset="0.06" stop-color="#b50309"/><stop offset="0.07" stop-color="#c3040a"/><stop offset="0.08" stop-color="#d1040c"/><stop offset="0.09" stop-color="#e0050d"/><stop offset="0.10" stop-color="#ee050f"/><stop offset="0.11" stop-color="#fc0610"/><stop offset="0.12" stop-color="#fc0c15"/><stop offset="0.13" stop-color="#fc121b"/><stop offset="0.14" stop-color="#fc1820"/><stop offset="0.15" stop-color="#fc1e25"/><stop offset="0.16" stop-color="#fc242b"/><stop offset="0.17" stop-color="#fc2a30"/><stop offset="0.18" stop-color="#fd3035"/><stop offset="0.19" stop-color="#fd363b"/><stop offset="0.20" stop-color="#fd3c40"/><stop offset="0.21" stop-color="#fd4245"/><stop offset="0.22" stop-color="#fd484b"/><stop offset="0.23" stop-color="#fd4e50"/><stop offset="0.24" stop-color="#fd5455"/><stop offset="0.25" stop-color="#fd5a5b"/><stop offset="0.26" stop-color="#fd6060"/><stop offset="0.27" stop-color="#fd6665"/><stop offset="0.28" stop-color="#fd6c6b"/><stop offset="0.29" stop-color="#fd7270"/><stop offset="0.30" stop-color="#fd7875"/><stop offset="0.31" stop-color="#fe7f7b"/><stop offset="0.32" stop-color="#fe8580"/><stop offset="0.33" stop-color="#fe8b85"/><stop offset="0.34" stop-color="#fe918b"/><stop offset="0.35" stop-color="#fe9790"/><stop offset="0.36" stop-color="#fe9d95"/><stop offset="0.37" stop-color="#fea39b"/><stop offset="0.38" stop-color="#fea9a0"/><stop offset="0.39" stop-color="#feafa5"/><stop offset="0.40" stop-color="#feb5ab"/><stop offset="0.41" stop-color="#febbb0"/><stop offset="0.42" stop-color="#fec1b5"/><stop offset="0.43" stop-color="#fec7bb"/><stop offset="0.44" stop-color="#ffcdc0"/><stop offset="0.45" stop-color="#ffd3c5"/><stop offset="0.46" stop-color="#ffd9cb"/><stop offset="0.47" stop-color="#ffdfd0"/><stop offset="0.48" stop-color="#ffe5d5"/><stop offset="0.49" stop-color="#ffebdb"/><stop offset="0.50" stop-color="#fff1e0"/><stop offset="0.51" stop-color="#e6dbe3"/><stop offset="0.52" stop-color="#ddd3e4"/><stop offset="0.53" stop-color="#d5cbe5"/><stop offset="0.54" stop-color="#cdc3e6"/><stop offset="0.55" stop-color="#c5bce7"/><stop offset="0.56" stop-color="#beb5e8"/><stop offset="0.57" stop-color="#b6aee9"/><stop offset="0.58" stop-color="#afa7ea"/><stop offset="0.59" stop-color="#a7a0eb"/><stop offset="0.60" stop-color="#a09aec"/><stop offset="0.61" stop-color="#9993ed"/><stop offset="0.62" stop-color="#928cee"/><stop offset="0.63" stop-color="#8b86ef"/><stop offset="0.64" stop-color="#847fef"/><stop offset="0.65" stop-color="#7d79f0"/><stop offset="0.66" stop-color="#7672f1"/><stop offset="0.67" stop-color="#6f6cf2"/><stop offset="0.68" stop-color="#6866f3"/><stop offset="0.69" stop-color="#625ff4"/><stop offset="0.70" stop-color="#5b59f4"/><stop offset="0.71" stop-color="#5453f5"/><stop offset="0.72" stop-color="#4e4df6"/><stop offset="0.73" stop-color="#4746f7"/><stop offset="0.74" stop-color="#4040f8"/><stop offset="0.75" stop-color="#3a3af9"/><stop offset="0.76" stop-color="#3334f9"/><stop offset="0.77" stop-color="#2d2efa"/><stop offset="0.78" stop-color="#2628fb"/><stop offset="0.79" stop-color="#2022fc"/><stop offset="0.80" stop-color="#191cfd"/><stop offset="0.81" stop-color="#1316fd"/><stop offset="0.82" stop-color="#0c10fe"/><stop offset="0.83" stop-color="#060aff"/><stop offset="0.84" stop-color="#0609f8"/><stop offset="0.85" stop-color="#0509f0"/><stop offset="0.86" stop-color="#0508e9"/><stop offset="0.87" stop-color="#0508e1"/><stop offset="0.88" stop-color="#0407da"/><stop offset="0.89" stop-color="#0406d2"/><stop offset="0.90" stop-color="#0406cb"/><stop offset="0.91" stop-color="#0305c3"/><stop offset="0.92" stop-color="#0305bc"/><stop offset="0.93" stop-color="#0204b4"/><stop offset="0.94" stop-color="#0204ad"/><stop offset="0.95" stop-color="#0203a5"/><stop offset="0.96" stop-color="#01029e"/><stop offset="0.97" stop-color="#010296"/><stop offset="0.98" stop-color="#01018f"/><stop offset="0.99" stop-color="#000187"/><stop offset="1.00" stop-color="#000080"/></linearGradient>
<radialGradient id="gy"><stop offset="0" stop-color="#fff23a"/><stop offset=".3" stop-color="#ffc820"/><stop offset=".6" stop-color="#f87410"/><stop offset=".88" stop-color="#da2a10"/><stop offset="1" stop-color="#c81c10" stop-opacity=".7"/></radialGradient>
<radialGradient id="go"><stop offset="0" stop-color="#ffa01a"/><stop offset=".4" stop-color="#f26410"/><stop offset=".8" stop-color="#da2810"/><stop offset="1" stop-color="#c81c10" stop-opacity=".7"/></radialGradient>
<radialGradient id="gr"><stop offset="0" stop-color="#e63412"/><stop offset=".8" stop-color="#d41c10"/><stop offset="1" stop-color="#c41810" stop-opacity=".7"/></radialGradient>
<radialGradient id="ga" cx=".5" cy=".5" r=".56"><stop offset="0" stop-color="#a2a2a2"/><stop offset=".45" stop-color="#d0d0d0"/><stop offset=".8" stop-color="#bebebe"/><stop offset=".93" stop-color="#7c7c7c"/><stop offset="1" stop-color="#3c3c3c"/></radialGradient>
<radialGradient id="gd" cx=".5" cy=".55" r=".6"><stop offset="0" stop-color="#686868"/><stop offset=".6" stop-color="#484848"/><stop offset="1" stop-color="#242424"/></radialGradient>
<radialGradient id="gm" cx=".5" cy=".42" r=".62"><stop offset="0" stop-color="#5e5e5e"/><stop offset=".55" stop-color="#585858"/><stop offset=".85" stop-color="#444"/><stop offset="1" stop-color="#2a2a2a"/></radialGradient>
<radialGradient id="gl" cx=".34" cy=".48" r=".68"><stop offset="0" stop-color="#c4c4c4"/><stop offset=".3" stop-color="#969696"/><stop offset=".75" stop-color="#6a6a6a"/><stop offset="1" stop-color="#3a3a3a"/></radialGradient>
<radialGradient id="gl2" cx=".32" cy=".5" r=".7"><stop offset="0" stop-color="#f0f0f0"/><stop offset=".4" stop-color="#c4c4c4"/><stop offset=".8" stop-color="#8c8c8c"/><stop offset="1" stop-color="#505050"/></radialGradient>
<filter id="bl" x="-10%" y="-10%" width="120%" height="120%"><feGaussianBlur stdDeviation=".95"/></filter>
<filter id="sh" x="-5%" y="-5%" width="110%" height="110%"><feGaussianBlur stdDeviation="5"/></filter>
<linearGradient id="ish" x1="0" y1="0" x2="0" y2="1"><stop offset="0" stop-color="#000" stop-opacity=".28"/><stop offset=".5" stop-color="#000" stop-opacity=".08"/><stop offset="1" stop-color="#000" stop-opacity="0"/></linearGradient>
<linearGradient id="isv" x1="0" y1="0" x2="1" y2="0"><stop offset="0" stop-color="#000" stop-opacity=".18"/><stop offset="1" stop-color="#000" stop-opacity="0"/></linearGradient>
<linearGradient id="isw" x1="1" y1="0" x2="0" y2="0"><stop offset="0" stop-color="#000" stop-opacity=".18"/><stop offset="1" stop-color="#000" stop-opacity="0"/></linearGradient>
<clipPath id="ka1"><path d="M0,-22.1C1.3,-22.1 2.7,-21.9 4,-21.5C5.3,-21.2 6.6,-20.6 7.8,-19.9C9,-19.2 10.1,-18.3 11.1,-17.3C12.2,-16.3 13.1,-15.1 13.9,-13.8C14.7,-12.5 15.4,-11.1 16,-9.6C16.5,-8.1 17,-6.5 17.2,-4.9C17.5,-3.3 17.6,-1.6 17.6,-0C17.6,1.6 17.4,3.3 17.1,4.9C16.8,6.5 16.3,8.1 15.7,9.6C15.1,11.1 14.4,12.5 13.6,13.8C12.8,15.1 11.8,16.3 10.8,17.3C9.8,18.3 8.7,19.2 7.5,19.9C6.3,20.6 5.1,21.2 3.8,21.5C2.6,21.9 1.3,22.1 0,22.1C-1.3,22.1 -2.6,21.9 -3.8,21.5C-5.1,21.2 -6.3,20.6 -7.5,19.9C-8.7,19.2 -9.8,18.3 -10.8,17.3C-11.8,16.3 -12.8,15.1 -13.6,13.8C-14.4,12.5 -15.1,11.1 -15.7,9.6C-16.3,8.1 -16.8,6.5 -17.1,4.9C-17.4,3.3 -17.6,1.6 -17.6,0C-17.6,-1.6 -17.5,-3.3 -17.2,-4.9C-17,-6.5 -16.5,-8.1 -16,-9.6C-15.4,-11.1 -14.7,-12.5 -13.9,-13.8C-13.1,-15.1 -12.2,-16.3 -11.1,-17.3C-10.1,-18.3 -9,-19.2 -7.8,-19.9C-6.6,-20.6 -5.3,-21.2 -4,-21.5C-2.7,-21.9 -1.3,-22.1 0,-22.1Z"/></clipPath><clipPath id="km"><path d="M0,21.8C-0.3,19.9 0.6,17.4 1.2,15.5C1.8,13.6 2.2,12.4 3.6,10.5C5,8.6 7,5.6 9.3,3.9C11.6,2.2 14.5,0.9 17.2,0.5C19.8,0 22.2,0.5 25.2,1.2C28.2,1.9 32.1,3.5 35,4.8C37.9,6.1 40.5,7.5 42.4,9.1C44.3,10.7 45.4,12.6 46.3,14.4C47.2,16.2 47.7,18 47.8,19.8C47.9,21.6 47.8,23.7 47,25.2C46.2,26.7 44.5,28.2 42.8,29C41.1,29.8 38.8,30.1 37,29.9C35.2,29.7 33.4,28.1 31.8,28C30.2,27.9 28.5,28.4 27.3,29.2C26.1,30 25.5,31.4 24.5,32.8C23.5,34.1 22.4,36.1 21.2,37.3C20,38.5 18.5,39.8 17.2,39.8C15.9,39.8 14.8,38.6 13.2,37.3C11.6,36 9.6,33.6 7.9,31.9C6.2,30.1 4.1,28.5 2.8,26.8C1.5,25.1 0.3,23.7 0,21.8Z"/></clipPath><clipPath id="ka2"><path d="M0,-22.1C1.3,-22.1 2.6,-21.9 3.9,-21.5C5.2,-21.2 6.5,-20.6 7.6,-19.9C8.8,-19.2 10,-18.3 11,-17.3C12,-16.3 12.9,-15.1 13.8,-13.8C14.6,-12.5 15.3,-11.1 15.9,-9.6C16.4,-8.1 16.9,-6.5 17.2,-4.9C17.4,-3.3 17.6,-1.6 17.6,-0C17.6,1.6 17.4,3.3 17.2,4.9C16.9,6.5 16.4,8.1 15.9,9.6C15.3,11.1 14.6,12.5 13.8,13.8C12.9,15.1 12,16.3 11,17.3C10,18.3 8.8,19.2 7.6,19.9C6.5,20.6 5.2,21.2 3.9,21.5C2.6,21.9 1.3,22.1 0,22.1C-1.3,22.1 -2.6,21.9 -3.9,21.5C-5.2,21.2 -6.5,20.6 -7.6,19.9C-8.8,19.2 -10,18.3 -11,17.3C-12,16.3 -12.9,15.1 -13.8,13.8C-14.6,12.5 -15.3,11.1 -15.9,9.6C-16.4,8.1 -16.9,6.5 -17.2,4.9C-17.4,3.3 -17.6,1.6 -17.6,0C-17.6,-1.6 -17.4,-3.3 -17.2,-4.9C-16.9,-6.5 -16.4,-8.1 -15.9,-9.6C-15.3,-11.1 -14.6,-12.5 -13.8,-13.8C-12.9,-15.1 -12,-16.3 -11,-17.3C-10,-18.3 -8.8,-19.2 -7.6,-19.9C-6.5,-20.6 -5.2,-21.2 -3.9,-21.5C-2.6,-21.9 -1.3,-22.1 0,-22.1Z"/></clipPath><clipPath id="kl"><path d="M0,17.7C0.1,15.8 0.4,13.2 1.4,11C2.4,8.8 4.2,6.2 6.1,4.5C8,2.8 10.4,1.6 12.9,0.9C15.4,0.2 18.3,0 21,0.5C23.7,1 26.7,2.2 29.2,3.7C31.7,5.2 34.2,7.7 35.9,9.7C37.5,11.7 38.5,13.8 39.1,15.7C39.8,17.6 40.1,19.4 39.8,21C39.5,22.6 38.4,24.2 37.3,25C36.2,25.8 34.2,25.4 33.2,26C32.2,26.6 32.1,27.7 31.2,28.5C30.3,29.3 29.1,30.5 27.8,31C26.6,31.5 25.1,32 23.7,31.7C22.3,31.4 20.8,30 19.7,29.2C18.6,28.4 17.8,26.8 17,27C16.2,27.2 15.8,29.2 14.9,30.3C14,31.4 12.8,33 11.5,33.5C10.2,34 8,33.8 6.8,33.2C5.6,32.6 4.8,30.9 4.1,29.7C3.4,28.4 3.2,26.9 2.7,25.7C2.2,24.5 1.2,23.6 0.8,22.3C0.4,21 -0.1,19.6 0,17.7Z"/></clipPath><clipPath id="ka3"><path d="M0,-22.1C1.3,-22.1 2.6,-21.9 3.9,-21.5C5.2,-21.2 6.5,-20.6 7.6,-19.9C8.8,-19.2 10,-18.3 11,-17.3C12,-16.3 12.9,-15.1 13.8,-13.8C14.6,-12.5 15.3,-11.1 15.9,-9.6C16.4,-8.1 16.9,-6.5 17.2,-4.9C17.4,-3.3 17.6,-1.6 17.6,-0C17.6,1.6 17.4,3.3 17.2,4.9C16.9,6.5 16.4,8.1 15.9,9.6C15.3,11.1 14.6,12.5 13.8,13.8C12.9,15.1 12,16.3 11,17.3C10,18.3 8.8,19.2 7.6,19.9C6.5,20.6 5.2,21.2 3.9,21.5C2.6,21.9 1.3,22.1 0,22.1C-1.3,22.1 -2.6,21.9 -3.9,21.5C-5.2,21.2 -6.5,20.6 -7.6,19.9C-8.8,19.2 -10,18.3 -11,17.3C-12,16.3 -12.9,15.1 -13.8,13.8C-14.6,12.5 -15.3,11.1 -15.9,9.6C-16.4,8.1 -16.9,6.5 -17.2,4.9C-17.4,3.3 -17.6,1.6 -17.6,0C-17.6,-1.6 -17.4,-3.3 -17.2,-4.9C-16.9,-6.5 -16.4,-8.1 -15.9,-9.6C-15.3,-11.1 -14.6,-12.5 -13.8,-13.8C-12.9,-15.1 -12,-16.3 -11,-17.3C-10,-18.3 -8.8,-19.2 -7.6,-19.9C-6.5,-20.6 -5.2,-21.2 -3.9,-21.5C-2.6,-21.9 -1.3,-22.1 0,-22.1Z"/></clipPath><clipPath id="ka4"><path d="M0,-22.1C1.2,-22.1 2.5,-21.9 3.7,-21.5C4.9,-21.2 6.1,-20.6 7.2,-19.9C8.4,-19.2 9.5,-18.3 10.5,-17.3C11.5,-16.3 12.4,-15.1 13.2,-13.8C14.1,-12.5 14.8,-11.1 15.4,-9.6C16.1,-8.1 16.6,-6.5 16.9,-4.9C17.3,-3.3 17.5,-1.6 17.6,-0C17.7,1.6 17.6,3.3 17.4,4.9C17.2,6.5 16.8,8.1 16.3,9.6C15.8,11.1 15.1,12.5 14.3,13.8C13.5,15.1 12.5,16.3 11.5,17.3C10.5,18.3 9.3,19.2 8,19.9C6.8,20.6 5.5,21.2 4.1,21.5C2.8,21.9 1.4,22.1 0,22.1C-1.4,22.1 -2.8,21.9 -4.1,21.5C-5.5,21.2 -6.8,20.6 -8,19.9C-9.3,19.2 -10.5,18.3 -11.5,17.3C-12.5,16.3 -13.5,15.1 -14.3,13.8C-15.1,12.5 -15.8,11.1 -16.3,9.6C-16.8,8.1 -17.2,6.5 -17.4,4.9C-17.6,3.3 -17.7,1.6 -17.6,0C-17.5,-1.6 -17.3,-3.3 -16.9,-4.9C-16.6,-6.5 -16.1,-8.1 -15.4,-9.6C-14.8,-11.1 -14.1,-12.5 -13.2,-13.8C-12.4,-15.1 -11.5,-16.3 -10.5,-17.3C-9.5,-18.3 -8.4,-19.2 -7.2,-19.9C-6.1,-20.6 -4.9,-21.2 -3.7,-21.5C-2.5,-21.9 -1.2,-22.1 0,-22.1Z"/></clipPath><clipPath id="ka5"><path d="M0,-22.1C1.2,-22.1 2.4,-21.9 3.5,-21.5C4.7,-21.2 5.9,-20.6 6.9,-19.9C8,-19.2 9.1,-18.3 10.1,-17.3C11.1,-16.3 12.1,-15.1 12.9,-13.8C13.7,-12.5 14.5,-11.1 15.2,-9.6C15.8,-8.1 16.4,-6.5 16.8,-4.9C17.2,-3.3 17.5,-1.6 17.6,-0C17.7,1.6 17.7,3.3 17.5,4.9C17.4,6.5 17,8.1 16.5,9.6C16.1,11.1 15.4,12.5 14.6,13.8C13.8,15.1 12.9,16.3 11.8,17.3C10.8,18.3 9.6,19.2 8.3,19.9C7.1,20.6 5.7,21.2 4.3,21.5C2.9,21.9 1.4,22.1 0,22.1C-1.4,22.1 -2.9,21.9 -4.3,21.5C-5.7,21.2 -7.1,20.6 -8.3,19.9C-9.6,19.2 -10.8,18.3 -11.8,17.3C-12.9,16.3 -13.8,15.1 -14.6,13.8C-15.4,12.5 -16.1,11.1 -16.5,9.6C-17,8.1 -17.4,6.5 -17.5,4.9C-17.7,3.3 -17.7,1.6 -17.6,0C-17.5,-1.6 -17.2,-3.3 -16.8,-4.9C-16.4,-6.5 -15.8,-8.1 -15.2,-9.6C-14.5,-11.1 -13.7,-12.5 -12.9,-13.8C-12.1,-15.1 -11.1,-16.3 -10.1,-17.3C-9.1,-18.3 -8,-19.2 -6.9,-19.9C-5.9,-20.6 -4.7,-21.2 -3.5,-21.5C-2.4,-21.9 -1.2,-22.1 0,-22.1Z"/></clipPath><clipPath id="ka6"><path d="M0,-22.1C1.2,-22.1 2.4,-21.9 3.6,-21.5C4.8,-21.2 6,-20.6 7.1,-19.9C8.2,-19.2 9.3,-18.3 10.3,-17.3C11.3,-16.3 12.2,-15.1 13.1,-13.8C13.9,-12.5 14.7,-11.1 15.3,-9.6C15.9,-8.1 16.5,-6.5 16.9,-4.9C17.2,-3.3 17.5,-1.6 17.6,-0C17.7,1.6 17.7,3.3 17.5,4.9C17.3,6.5 16.9,8.1 16.4,9.6C15.9,11.1 15.2,12.5 14.4,13.8C13.7,15.1 12.7,16.3 11.7,17.3C10.6,18.3 9.4,19.2 8.2,19.9C6.9,20.6 5.6,21.2 4.2,21.5C2.9,21.9 1.4,22.1 0,22.1C-1.4,22.1 -2.9,21.9 -4.2,21.5C-5.6,21.2 -6.9,20.6 -8.2,19.9C-9.4,19.2 -10.6,18.3 -11.7,17.3C-12.7,16.3 -13.7,15.1 -14.4,13.8C-15.2,12.5 -15.9,11.1 -16.4,9.6C-16.9,8.1 -17.3,6.5 -17.5,4.9C-17.7,3.3 -17.7,1.6 -17.6,0C-17.5,-1.6 -17.2,-3.3 -16.9,-4.9C-16.5,-6.5 -15.9,-8.1 -15.3,-9.6C-14.7,-11.1 -13.9,-12.5 -13.1,-13.8C-12.2,-15.1 -11.3,-16.3 -10.3,-17.3C-9.3,-18.3 -8.2,-19.2 -7.1,-19.9C-6,-20.6 -4.8,-21.2 -3.6,-21.5C-2.4,-21.9 -1.2,-22.1 0,-22.1Z"/></clipPath><clipPath id="ka7"><path d="M0,-22.1C1.2,-22.1 2.4,-21.9 3.6,-21.5C4.8,-21.2 6,-20.6 7.1,-19.9C8.2,-19.2 9.3,-18.3 10.3,-17.3C11.3,-16.3 12.2,-15.1 13.1,-13.8C13.9,-12.5 14.7,-11.1 15.3,-9.6C15.9,-8.1 16.5,-6.5 16.9,-4.9C17.2,-3.3 17.5,-1.6 17.6,-0C17.7,1.6 17.7,3.3 17.5,4.9C17.3,6.5 16.9,8.1 16.4,9.6C15.9,11.1 15.2,12.5 14.4,13.8C13.7,15.1 12.7,16.3 11.7,17.3C10.6,18.3 9.4,19.2 8.2,19.9C6.9,20.6 5.6,21.2 4.2,21.5C2.9,21.9 1.4,22.1 0,22.1C-1.4,22.1 -2.9,21.9 -4.2,21.5C-5.6,21.2 -6.9,20.6 -8.2,19.9C-9.4,19.2 -10.6,18.3 -11.7,17.3C-12.7,16.3 -13.7,15.1 -14.4,13.8C-15.2,12.5 -15.9,11.1 -16.4,9.6C-16.9,8.1 -17.3,6.5 -17.5,4.9C-17.7,3.3 -17.7,1.6 -17.6,0C-17.5,-1.6 -17.2,-3.3 -16.9,-4.9C-16.5,-6.5 -15.9,-8.1 -15.3,-9.6C-14.7,-11.1 -13.9,-12.5 -13.1,-13.8C-12.2,-15.1 -11.3,-16.3 -10.3,-17.3C-9.3,-18.3 -8.2,-19.2 -7.1,-19.9C-6,-20.6 -4.8,-21.2 -3.6,-21.5C-2.4,-21.9 -1.2,-22.1 0,-22.1Z"/></clipPath><clipPath id="ka8"><path d="M0,-22.1C1.3,-22.1 2.5,-21.9 3.8,-21.5C5,-21.2 6.2,-20.6 7.4,-19.9C8.5,-19.2 9.6,-18.3 10.6,-17.3C11.6,-16.3 12.6,-15.1 13.4,-13.8C14.2,-12.5 15,-11.1 15.6,-9.6C16.2,-8.1 16.7,-6.5 17,-4.9C17.3,-3.3 17.5,-1.6 17.6,-0C17.7,1.6 17.6,3.3 17.3,4.9C17.1,6.5 16.7,8.1 16.1,9.6C15.6,11.1 14.9,12.5 14.1,13.8C13.3,15.1 12.3,16.3 11.3,17.3C10.3,18.3 9.1,19.2 7.9,19.9C6.7,20.6 5.4,21.2 4.1,21.5C2.8,21.9 1.4,22.1 0,22.1C-1.4,22.1 -2.8,21.9 -4.1,21.5C-5.4,21.2 -6.7,20.6 -7.9,19.9C-9.1,19.2 -10.3,18.3 -11.3,17.3C-12.3,16.3 -13.3,15.1 -14.1,13.8C-14.9,12.5 -15.6,11.1 -16.1,9.6C-16.7,8.1 -17.1,6.5 -17.3,4.9C-17.6,3.3 -17.7,1.6 -17.6,0C-17.5,-1.6 -17.3,-3.3 -17,-4.9C-16.7,-6.5 -16.2,-8.1 -15.6,-9.6C-15,-11.1 -14.2,-12.5 -13.4,-13.8C-12.6,-15.1 -11.6,-16.3 -10.6,-17.3C-9.6,-18.3 -8.5,-19.2 -7.4,-19.9C-6.2,-20.6 -5,-21.2 -3.8,-21.5C-2.5,-21.9 -1.3,-22.1 0,-22.1Z"/></clipPath><clipPath id="ka9"><path d="M0,-22.1C1.2,-22.1 2.3,-21.9 3.5,-21.5C4.6,-21.2 5.7,-20.6 6.8,-19.9C7.9,-19.2 9,-18.3 9.9,-17.3C10.9,-16.3 11.9,-15.1 12.7,-13.8C13.6,-12.5 14.4,-11.1 15,-9.6C15.7,-8.1 16.3,-6.5 16.7,-4.9C17.1,-3.3 17.4,-1.6 17.6,-0C17.8,1.6 17.8,3.3 17.6,4.9C17.5,6.5 17.2,8.1 16.7,9.6C16.2,11.1 15.6,12.5 14.8,13.8C14,15.1 13.1,16.3 12,17.3C10.9,18.3 9.7,19.2 8.5,19.9C7.2,20.6 5.8,21.2 4.4,21.5C3,21.9 1.5,22.1 0,22.1C-1.5,22.1 -3,21.9 -4.4,21.5C-5.8,21.2 -7.2,20.6 -8.5,19.9C-9.7,19.2 -10.9,18.3 -12,17.3C-13.1,16.3 -14,15.1 -14.8,13.8C-15.6,12.5 -16.2,11.1 -16.7,9.6C-17.2,8.1 -17.5,6.5 -17.6,4.9C-17.8,3.3 -17.8,1.6 -17.6,0C-17.4,-1.6 -17.1,-3.3 -16.7,-4.9C-16.3,-6.5 -15.7,-8.1 -15,-9.6C-14.4,-11.1 -13.6,-12.5 -12.7,-13.8C-11.9,-15.1 -10.9,-16.3 -9.9,-17.3C-9,-18.3 -7.9,-19.2 -6.8,-19.9C-5.7,-20.6 -4.6,-21.2 -3.5,-21.5C-2.3,-21.9 -1.2,-22.1 0,-22.1Z"/></clipPath><clipPath id="ka10"><path d="M0,-22.1C1.2,-22.1 2.3,-21.9 3.5,-21.5C4.6,-21.2 5.7,-20.6 6.8,-19.9C7.9,-19.2 9,-18.3 9.9,-17.3C10.9,-16.3 11.9,-15.1 12.7,-13.8C13.6,-12.5 14.4,-11.1 15,-9.6C15.7,-8.1 16.3,-6.5 16.7,-4.9C17.1,-3.3 17.4,-1.6 17.6,-0C17.8,1.6 17.8,3.3 17.6,4.9C17.5,6.5 17.2,8.1 16.7,9.6C16.2,11.1 15.6,12.5 14.8,13.8C14,15.1 13.1,16.3 12,17.3C10.9,18.3 9.7,19.2 8.5,19.9C7.2,20.6 5.8,21.2 4.4,21.5C3,21.9 1.5,22.1 0,22.1C-1.5,22.1 -3,21.9 -4.4,21.5C-5.8,21.2 -7.2,20.6 -8.5,19.9C-9.7,19.2 -10.9,18.3 -12,17.3C-13.1,16.3 -14,15.1 -14.8,13.8C-15.6,12.5 -16.2,11.1 -16.7,9.6C-17.2,8.1 -17.5,6.5 -17.6,4.9C-17.8,3.3 -17.8,1.6 -17.6,0C-17.4,-1.6 -17.1,-3.3 -16.7,-4.9C-16.3,-6.5 -15.7,-8.1 -15,-9.6C-14.4,-11.1 -13.6,-12.5 -12.7,-13.8C-11.9,-15.1 -10.9,-16.3 -9.9,-17.3C-9,-18.3 -7.9,-19.2 -6.8,-19.9C-5.7,-20.6 -4.6,-21.2 -3.5,-21.5C-2.3,-21.9 -1.2,-22.1 0,-22.1Z"/></clipPath><clipPath id="ka11"><path d="M0,-22.1C1.2,-22.1 2.4,-21.9 3.5,-21.5C4.7,-21.2 5.9,-20.6 6.9,-19.9C8,-19.2 9.1,-18.3 10.1,-17.3C11.1,-16.3 12.1,-15.1 12.9,-13.8C13.7,-12.5 14.5,-11.1 15.2,-9.6C15.8,-8.1 16.4,-6.5 16.8,-4.9C17.2,-3.3 17.5,-1.6 17.6,-0C17.7,1.6 17.7,3.3 17.5,4.9C17.4,6.5 17,8.1 16.5,9.6C16.1,11.1 15.4,12.5 14.6,13.8C13.8,15.1 12.9,16.3 11.8,17.3C10.8,18.3 9.6,19.2 8.3,19.9C7.1,20.6 5.7,21.2 4.3,21.5C2.9,21.9 1.4,22.1 0,22.1C-1.4,22.1 -2.9,21.9 -4.3,21.5C-5.7,21.2 -7.1,20.6 -8.3,19.9C-9.6,19.2 -10.8,18.3 -11.8,17.3C-12.9,16.3 -13.8,15.1 -14.6,13.8C-15.4,12.5 -16.1,11.1 -16.5,9.6C-17,8.1 -17.4,6.5 -17.5,4.9C-17.7,3.3 -17.7,1.6 -17.6,0C-17.5,-1.6 -17.2,-3.3 -16.8,-4.9C-16.4,-6.5 -15.8,-8.1 -15.2,-9.6C-14.5,-11.1 -13.7,-12.5 -12.9,-13.8C-12.1,-15.1 -11.1,-16.3 -10.1,-17.3C-9.1,-18.3 -8,-19.2 -6.9,-19.9C-5.9,-20.6 -4.7,-21.2 -3.5,-21.5C-2.4,-21.9 -1.2,-22.1 0,-22.1Z"/></clipPath><clipPath id="ka12"><path d="M0,-22.1C1.2,-22.1 2.4,-21.9 3.5,-21.5C4.7,-21.2 5.9,-20.6 6.9,-19.9C8,-19.2 9.1,-18.3 10.1,-17.3C11.1,-16.3 12.1,-15.1 12.9,-13.8C13.7,-12.5 14.5,-11.1 15.2,-9.6C15.8,-8.1 16.4,-6.5 16.8,-4.9C17.2,-3.3 17.5,-1.6 17.6,-0C17.7,1.6 17.7,3.3 17.5,4.9C17.4,6.5 17,8.1 16.5,9.6C16.1,11.1 15.4,12.5 14.6,13.8C13.8,15.1 12.9,16.3 11.8,17.3C10.8,18.3 9.6,19.2 8.3,19.9C7.1,20.6 5.7,21.2 4.3,21.5C2.9,21.9 1.4,22.1 0,22.1C-1.4,22.1 -2.9,21.9 -4.3,21.5C-5.7,21.2 -7.1,20.6 -8.3,19.9C-9.6,19.2 -10.8,18.3 -11.8,17.3C-12.9,16.3 -13.8,15.1 -14.6,13.8C-15.4,12.5 -16.1,11.1 -16.5,9.6C-17,8.1 -17.4,6.5 -17.5,4.9C-17.7,3.3 -17.7,1.6 -17.6,0C-17.5,-1.6 -17.2,-3.3 -16.8,-4.9C-16.4,-6.5 -15.8,-8.1 -15.2,-9.6C-14.5,-11.1 -13.7,-12.5 -12.9,-13.8C-12.1,-15.1 -11.1,-16.3 -10.1,-17.3C-9.1,-18.3 -8,-19.2 -6.9,-19.9C-5.9,-20.6 -4.7,-21.2 -3.5,-21.5C-2.4,-21.9 -1.2,-22.1 0,-22.1Z"/></clipPath><clipPath id="ka13"><path d="M-4,-23 C-5,-19 -6,-15 -8,-13 C-14,-12 -19,-8 -19,0 C-19,9 -15,15 -10,19 C-6,23 -3,23 0,21 C3,23 6,23 10,19 C15,15 19,9 19,0 C19,-8 14,-12 8,-13 C6,-15 5,-19 4,-23 L1.5,-21 L0,-23 L-1.5,-21 Z"/></clipPath></defs>
<rect width="1570" height="2480" fill="#fff"/>
<g filter="url(#sh)" opacity=".3"><rect x="14" y="2452" width="1550" height="20" fill="#000"/><rect x="8" y="12" width="8" height="2452" fill="#000" opacity=".6"/><rect x="1557" y="12" width="8" height="2456" fill="#000" opacity=".7"/></g>
<rect x="19" y="10.5" width="1535" height="2447" fill="#fff"/>
<rect x="19" y="10.5" width="1535" height="11" fill="url(#ish)"/>
<rect x="19" y="834.3" width="1535" height="11" fill="url(#ish)"/>
<rect x="19" y="1642.0" width="1535" height="11" fill="url(#ish)"/>
<rect x="18.9" y="10.5" width="6" height="2447" fill="url(#isv)"/>
<rect x="786.4" y="10.5" width="6" height="2447" fill="url(#isv)"/>
<rect x="773.6" y="10.5" width="6" height="2447" fill="url(#isw)"/>
<rect x="1548.0" y="10.5" width="6" height="2447" fill="url(#isw)"/>
<path d="M19,134.6H1554M19,947.1H1554M19,1759.3H1554" stroke="#8a8a8a" stroke-width="1.2" fill="none"/>
<g id="panelA">
<rect x="105.4" y="220.2" width="585.9" height="573.0" fill="#000"/>
<g shape-rendering="crispEdges">
<rect x="150.50" y="220.22" width="90.44" height="44.38" fill="#fe1a22"/>
<rect x="240.64" y="220.22" width="45.37" height="44.38" fill="#ff7c72"/>
<rect x="285.71" y="220.22" width="45.37" height="44.38" fill="#fe4e4e"/>
<rect x="330.78" y="220.22" width="45.37" height="44.38" fill="#ffe2d2"/>
<rect x="375.85" y="220.22" width="45.37" height="44.38" fill="#9e98e8"/>
<rect x="420.93" y="220.22" width="45.37" height="44.38" fill="#ffc8b9"/>
<rect x="466.00" y="220.22" width="45.37" height="44.38" fill="#eee2e0"/>
<rect x="511.07" y="220.22" width="45.37" height="44.38" fill="#ffd6c6"/>
<rect x="556.14" y="220.22" width="45.37" height="44.38" fill="#ff8c82"/>
<rect x="601.21" y="220.22" width="45.37" height="44.38" fill="#ff7c72"/>
<rect x="646.28" y="220.22" width="45.37" height="44.38" fill="#8e8aea"/>
<rect x="105.43" y="264.30" width="45.37" height="44.38" fill="#fe1a22"/>
<rect x="195.57" y="264.30" width="45.37" height="44.38" fill="#fe4040"/>
<rect x="240.64" y="264.30" width="45.37" height="44.38" fill="#ff7c72"/>
<rect x="285.71" y="264.30" width="45.37" height="44.38" fill="#fe3034"/>
<rect x="330.78" y="264.30" width="45.37" height="44.38" fill="#6262f0"/>
<rect x="375.85" y="264.30" width="45.37" height="44.38" fill="#5050f2"/>
<rect x="420.93" y="264.30" width="45.37" height="44.38" fill="#7e7cec"/>
<rect x="466.00" y="264.30" width="45.37" height="44.38" fill="#9e98e8"/>
<rect x="511.07" y="264.30" width="45.37" height="44.38" fill="#7e7cec"/>
<rect x="556.14" y="264.30" width="45.37" height="44.38" fill="#ff988e"/>
<rect x="601.21" y="264.30" width="90.44" height="44.38" fill="#eee2e0"/>
<rect x="105.43" y="308.38" width="45.37" height="44.38" fill="#fe1a22"/>
<rect x="150.50" y="308.38" width="45.37" height="44.38" fill="#fe4040"/>
<rect x="240.64" y="308.38" width="45.37" height="44.38" fill="#ffd6c6"/>
<rect x="285.71" y="308.38" width="45.37" height="44.38" fill="#ffa69a"/>
<rect x="330.78" y="308.38" width="45.37" height="44.38" fill="#ded4e4"/>
<rect x="375.85" y="308.38" width="45.37" height="44.38" fill="#ffc8b9"/>
<rect x="420.93" y="308.38" width="45.37" height="44.38" fill="#ffd6c6"/>
<rect x="466.00" y="308.38" width="90.44" height="44.38" fill="#ded4e4"/>
<rect x="556.14" y="308.38" width="45.37" height="44.38" fill="#beb6e4"/>
<rect x="601.21" y="308.38" width="45.37" height="44.38" fill="#aea8e6"/>
<rect x="646.28" y="308.38" width="45.37" height="44.38" fill="#ffd6c6"/>
<rect x="105.43" y="352.46" width="90.44" height="44.38" fill="#ff7c72"/>
<rect x="195.57" y="352.46" width="45.37" height="44.38" fill="#ffd6c6"/>
<rect x="285.71" y="352.46" width="45.37" height="44.38" fill="#ec0818"/>
<rect x="330.78" y="352.46" width="45.37" height="44.38" fill="#3038f8"/>
<rect x="375.85" y="352.46" width="45.37" height="44.38" fill="#aea8e6"/>
<rect x="420.93" y="352.46" width="45.37" height="44.38" fill="#ffd6c6"/>
<rect x="466.00" y="352.46" width="45.37" height="44.38" fill="#ded4e4"/>
<rect x="511.07" y="352.46" width="45.37" height="44.38" fill="#cec4e4"/>
<rect x="556.14" y="352.46" width="45.37" height="44.38" fill="#ff5a58"/>
<rect x="601.21" y="352.46" width="45.37" height="44.38" fill="#9e98e8"/>
<rect x="646.28" y="352.46" width="45.37" height="44.38" fill="#aea8e6"/>
<rect x="105.43" y="396.54" width="45.37" height="44.38" fill="#fe4e4e"/>
<rect x="150.50" y="396.54" width="45.37" height="44.38" fill="#fe3034"/>
<rect x="195.57" y="396.54" width="45.37" height="44.38" fill="#ffa69a"/>
<rect x="240.64" y="396.54" width="45.37" height="44.38" fill="#ec0818"/>
<rect x="330.78" y="396.54" width="45.37" height="44.38" fill="#6262f0"/>
<rect x="375.85" y="396.54" width="45.37" height="44.38" fill="#7e7cec"/>
<rect x="420.93" y="396.54" width="90.44" height="44.38" fill="#beb6e4"/>
<rect x="511.07" y="396.54" width="45.37" height="44.38" fill="#6262f0"/>
<rect x="556.14" y="396.54" width="45.37" height="44.38" fill="#ff7c72"/>
<rect x="601.21" y="396.54" width="45.37" height="44.38" fill="#ded4e4"/>
<rect x="646.28" y="396.54" width="45.37" height="44.38" fill="#beb6e4"/>
<rect x="105.43" y="440.62" width="45.37" height="44.38" fill="#ffe2d2"/>
<rect x="150.50" y="440.62" width="45.37" height="44.38" fill="#6262f0"/>
<rect x="195.57" y="440.62" width="45.37" height="44.38" fill="#ded4e4"/>
<rect x="240.64" y="440.62" width="45.37" height="44.38" fill="#3038f8"/>
<rect x="285.71" y="440.62" width="45.37" height="44.38" fill="#6262f0"/>
<rect x="375.85" y="440.62" width="45.37" height="44.38" fill="#fe3034"/>
<rect x="420.93" y="440.62" width="45.37" height="44.38" fill="#ff988e"/>
<rect x="466.00" y="440.62" width="45.37" height="44.38" fill="#eee2e0"/>
<rect x="511.07" y="440.62" width="45.37" height="44.38" fill="#ffb4a6"/>
<rect x="556.14" y="440.62" width="45.37" height="44.38" fill="#9e98e8"/>
<rect x="601.21" y="440.62" width="45.37" height="44.38" fill="#ffa69a"/>
<rect x="646.28" y="440.62" width="45.37" height="44.38" fill="#aea8e6"/>
<rect x="105.43" y="484.70" width="45.37" height="44.38" fill="#9e98e8"/>
<rect x="150.50" y="484.70" width="45.37" height="44.38" fill="#5050f2"/>
<rect x="195.57" y="484.70" width="45.37" height="44.38" fill="#ffc8b9"/>
<rect x="240.64" y="484.70" width="45.37" height="44.38" fill="#aea8e6"/>
<rect x="285.71" y="484.70" width="45.37" height="44.38" fill="#7e7cec"/>
<rect x="330.78" y="484.70" width="45.37" height="44.38" fill="#fe3034"/>
<rect x="420.93" y="484.70" width="45.37" height="44.38" fill="#fe4e4e"/>
<rect x="466.00" y="484.70" width="45.37" height="44.38" fill="#ffa69a"/>
<rect x="511.07" y="484.70" width="45.37" height="44.38" fill="#ffc8b9"/>
<rect x="556.14" y="484.70" width="45.37" height="44.38" fill="#5050f2"/>
<rect x="601.21" y="484.70" width="90.44" height="44.38" fill="#8e8aea"/>
<rect x="105.43" y="528.79" width="45.37" height="44.38" fill="#ffc8b9"/>
<rect x="150.50" y="528.79" width="45.37" height="44.38" fill="#7e7cec"/>
<rect x="195.57" y="528.79" width="90.44" height="44.38" fill="#ffd6c6"/>
<rect x="285.71" y="528.79" width="45.37" height="44.38" fill="#beb6e4"/>
<rect x="330.78" y="528.79" width="45.37" height="44.38" fill="#ff988e"/>
<rect x="375.85" y="528.79" width="45.37" height="44.38" fill="#fe4e4e"/>
<rect x="466.00" y="528.79" width="45.37" height="44.38" fill="#ff8c82"/>
<rect x="511.07" y="528.79" width="45.37" height="44.38" fill="#fe3034"/>
<rect x="556.14" y="528.79" width="45.37" height="44.38" fill="#ff6864"/>
<rect x="601.21" y="528.79" width="45.37" height="44.38" fill="#ff8c82"/>
<rect x="646.28" y="528.79" width="45.37" height="44.38" fill="#8e8aea"/>
<rect x="105.43" y="572.87" width="45.37" height="44.38" fill="#eee2e0"/>
<rect x="150.50" y="572.87" width="45.37" height="44.38" fill="#9e98e8"/>
<rect x="195.57" y="572.87" width="90.44" height="44.38" fill="#ded4e4"/>
<rect x="285.71" y="572.87" width="45.37" height="44.38" fill="#beb6e4"/>
<rect x="330.78" y="572.87" width="45.37" height="44.38" fill="#eee2e0"/>
<rect x="375.85" y="572.87" width="45.37" height="44.38" fill="#ffa69a"/>
<rect x="420.93" y="572.87" width="45.37" height="44.38" fill="#ff8c82"/>
<rect x="511.07" y="572.87" width="45.37" height="44.38" fill="#ff6864"/>
<rect x="556.14" y="572.87" width="45.37" height="44.38" fill="#ffd6c6"/>
<rect x="601.21" y="572.87" width="45.37" height="44.38" fill="#fe4040"/>
<rect x="646.28" y="572.87" width="45.37" height="44.38" fill="#beb6e4"/>
<rect x="105.43" y="616.95" width="45.37" height="44.38" fill="#ffd6c6"/>
<rect x="150.50" y="616.95" width="45.37" height="44.38" fill="#7e7cec"/>
<rect x="195.57" y="616.95" width="45.37" height="44.38" fill="#ded4e4"/>
<rect x="240.64" y="616.95" width="45.37" height="44.38" fill="#cec4e4"/>
<rect x="285.71" y="616.95" width="45.37" height="44.38" fill="#6262f0"/>
<rect x="330.78" y="616.95" width="45.37" height="44.38" fill="#ffb4a6"/>
<rect x="375.85" y="616.95" width="45.37" height="44.38" fill="#ffc8b9"/>
<rect x="420.93" y="616.95" width="45.37" height="44.38" fill="#fe3034"/>
<rect x="466.00" y="616.95" width="45.37" height="44.38" fill="#ff6864"/>
<rect x="556.14" y="616.95" width="45.37" height="44.38" fill="#ff988e"/>
<rect x="601.21" y="616.95" width="45.37" height="44.38" fill="#fe1a22"/>
<rect x="646.28" y="616.95" width="45.37" height="44.38" fill="#7e7cec"/>
<rect x="105.43" y="661.03" width="45.37" height="44.38" fill="#ff8c82"/>
<rect x="150.50" y="661.03" width="45.37" height="44.38" fill="#ff988e"/>
<rect x="195.57" y="661.03" width="45.37" height="44.38" fill="#beb6e4"/>
<rect x="240.64" y="661.03" width="45.37" height="44.38" fill="#ff5a58"/>
<rect x="285.71" y="661.03" width="45.37" height="44.38" fill="#ff7c72"/>
<rect x="330.78" y="661.03" width="45.37" height="44.38" fill="#9e98e8"/>
<rect x="375.85" y="661.03" width="45.37" height="44.38" fill="#5050f2"/>
<rect x="420.93" y="661.03" width="45.37" height="44.38" fill="#ff6864"/>
<rect x="466.00" y="661.03" width="45.37" height="44.38" fill="#ffd6c6"/>
<rect x="511.07" y="661.03" width="45.37" height="44.38" fill="#ff988e"/>
<rect x="601.21" y="661.03" width="45.37" height="44.38" fill="#fe4040"/>
<rect x="646.28" y="661.03" width="45.37" height="44.38" fill="#beb6e4"/>
<rect x="105.43" y="705.11" width="45.37" height="44.38" fill="#ff7c72"/>
<rect x="150.50" y="705.11" width="45.37" height="44.38" fill="#eee2e0"/>
<rect x="195.57" y="705.11" width="45.37" height="44.38" fill="#aea8e6"/>
<rect x="240.64" y="705.11" width="45.37" height="44.38" fill="#9e98e8"/>
<rect x="285.71" y="705.11" width="45.37" height="44.38" fill="#ded4e4"/>
<rect x="330.78" y="705.11" width="45.37" height="44.38" fill="#ffa69a"/>
<rect x="375.85" y="705.11" width="45.37" height="44.38" fill="#8e8aea"/>
<rect x="420.93" y="705.11" width="45.37" height="44.38" fill="#ff8c82"/>
<rect x="466.00" y="705.11" width="45.37" height="44.38" fill="#fe4040"/>
<rect x="511.07" y="705.11" width="45.37" height="44.38" fill="#fe1a22"/>
<rect x="556.14" y="705.11" width="45.37" height="44.38" fill="#fe4040"/>
<rect x="646.28" y="705.11" width="45.37" height="44.38" fill="#8e8aea"/>
<rect x="105.43" y="749.19" width="45.37" height="44.38" fill="#8e8aea"/>
<rect x="150.50" y="749.19" width="45.37" height="44.38" fill="#eee2e0"/>
<rect x="195.57" y="749.19" width="45.37" height="44.38" fill="#ffd6c6"/>
<rect x="240.64" y="749.19" width="45.37" height="44.38" fill="#aea8e6"/>
<rect x="285.71" y="749.19" width="45.37" height="44.38" fill="#beb6e4"/>
<rect x="330.78" y="749.19" width="45.37" height="44.38" fill="#aea8e6"/>
<rect x="375.85" y="749.19" width="90.44" height="44.38" fill="#8e8aea"/>
<rect x="466.00" y="749.19" width="45.37" height="44.38" fill="#beb6e4"/>
<rect x="511.07" y="749.19" width="45.37" height="44.38" fill="#7e7cec"/>
<rect x="556.14" y="749.19" width="45.37" height="44.38" fill="#beb6e4"/>
<rect x="601.21" y="749.19" width="45.37" height="44.38" fill="#8e8aea"/>
</g>
<rect x="105.6" y="220.4" width="586.2" height="573.3" fill="none" stroke="#3a3a3a" stroke-width="1"/>
<path d="M173.0,220.2v6M173.0,793.3v-6M105.4,286.3h6M691.4,286.3h-6M263.2,220.2v6M263.2,793.3v-6M105.4,374.5h6M691.4,374.5h-6M353.3,220.2v6M353.3,793.3v-6M105.4,462.7h6M691.4,462.7h-6M443.5,220.2v6M443.5,793.3v-6M105.4,550.8h6M691.4,550.8h-6M533.6,220.2v6M533.6,793.3v-6M105.4,639.0h6M691.4,639.0h-6M623.7,220.2v6M623.7,793.3v-6M105.4,727.1h6M691.4,727.1h-6" stroke="#222" stroke-width=".9" fill="none"/>
<g font-family="'Liberation Serif',serif" font-size="8" fill="#555" text-anchor="middle">
<text x="173.0" y="802.6">2</text>
<text x="263.2" y="802.6">4</text>
<text x="353.3" y="802.6">6</text>
<text x="443.5" y="802.6">8</text>
<text x="533.6" y="802.6">10</text>
<text x="623.7" y="802.6">12</text>
</g>
<rect x="703.2" y="220.6" width="14.6" height="573.5" fill="url(#cbar)" stroke="#555" stroke-width=".6"/>
<g font-family="'Liberation Serif',serif" font-size="8.5" fill="#444">
<text x="718.6" y="223.4">1</text>
<text x="718.6" y="280.8">0.8</text>
<text x="718.6" y="338.1">0.6</text>
<text x="718.6" y="395.4">0.4</text>
<text x="718.6" y="452.8">0.2</text>
<text x="718.6" y="510.2">0</text>
<text x="718.6" y="567.5">-0.2</text>
<text x="718.6" y="624.8">-0.4</text>
<text x="718.6" y="682.2">-0.6</text>
<text x="718.6" y="739.5">-0.8</text>
<text x="718.6" y="796.9">-1</text>
</g>
<path d="M703.2,277.9h5M717.8,277.9h-6M703.2,335.3h5M717.8,335.3h-6M703.2,392.6h5M717.8,392.6h-6M703.2,450.0h5M717.8,450.0h-6M703.2,507.4h5M717.8,507.4h-6M703.2,564.7h5M717.8,564.7h-6M703.2,622.0h5M717.8,622.0h-6M703.2,679.4h5M717.8,679.4h-6M703.2,736.8h5M717.8,736.8h-6" stroke="#333" stroke-width="1" stroke-dasharray="2.5 1.5" fill="none"/>
<g font-family="'Liberation Sans',sans-serif" font-size="15.5" fill="#111" text-anchor="middle">
<text x="123.5" y="156.0">1</text>
<text x="33.5" y="243.9">1</text>
<text x="170.8" y="154.1">2</text>
<text x="33.5" y="287.3">2</text>
<text x="218.5" y="156.0">3</text>
<text x="33.5" y="332.0">3</text>
<text x="263.5" y="156.0">4</text>
<text x="33.5" y="378.6">4</text>
<text x="307.2" y="156.0">5</text>
<text x="33.5" y="425.2">5</text>
<text x="356.0" y="156.0">6</text>
<text x="33.5" y="465.0">6</text>
<text x="399.4" y="156.0">7</text>
<text x="33.5" y="509.5">7</text>
<text x="445.2" y="155.5">8</text>
<text x="33.5" y="557.7">8</text>
<text x="489.6" y="155.7">9</text>
<text x="33.5" y="601.8">9</text>
<text x="535.5" y="156.0">10</text>
<text x="33.2" y="641.6">10</text>
<text x="579.4" y="156.0">11</text>
<text x="33.2" y="687.0">11</text>
<text x="625.4" y="157.6">12</text>
<text x="33.2" y="730.1">12</text>
<text x="671.0" y="157.6">13</text>
<text x="33.2" y="778.6">13</text>
</g>
<g transform="translate(123.5 188.5) scale(1.016 1.000)" filter="url(#bl)"><path class="p0"/><path class="p1"/><path class="p2"/><path class="p3"/><path class="p4"/><g clip-path="url(#ka1)"><ellipse cx="-3" cy="13.5" rx="4.6" ry="6.8" fill="url(#gy)" transform="rotate(-28 -3 13.5)"/><ellipse cx="3" cy="13.5" rx="4.6" ry="6.8" fill="url(#gy)" transform="rotate(28 3 13.5)"/><ellipse cx="0" cy="15.5" rx="4.5" ry="4.5" fill="url(#gy)"/></g></g><g transform="translate(123.5 188.5) scale(1.016 1.000)"><path class="p5"/></g>
<g transform="translate(47.0 221.2) scale(0.950 0.945)" filter="url(#bl)"><path class="p6"/><path class="p7"/><path class="p8"/><ellipse cx="18.8" cy="17.3" rx="2.2" ry="1.8" fill="#d8d8d8" opacity=".9"/><ellipse cx="35.6" cy="19.4" rx="1.6" ry="2.2" fill="#c4c4c4" opacity=".7"/><path class="p9"/><path class="p10"/><path class="p11"/><g clip-path="url(#km)"><ellipse cx="8.3" cy="17.5" rx="6.2" ry="9.2" fill="url(#gr)" transform="rotate(12 8.3 17.5)"/><ellipse cx="7.5" cy="18.5" rx="4.6" ry="6.5" fill="url(#gy)" transform="rotate(12 7.5 18.5)"/></g></g><g transform="translate(47.0 221.2) scale(0.950 0.945)"><path class="p12"/></g>
<g transform="translate(170.8 187.0) scale(1.039 1.064)" filter="url(#bl)"><path class="p13"/><path class="p1"/><path class="p2"/><path class="p3"/><path class="p4"/><g clip-path="url(#ka2)"><ellipse cx="0" cy="10.5" rx="7" ry="3" fill="url(#gr)"/><ellipse cx="-10" cy="14" rx="6.8" ry="5.8" fill="url(#go)" transform="rotate(20 -10 14)"/><ellipse cx="10" cy="14" rx="6.8" ry="5.8" fill="url(#go)" transform="rotate(-20 10 14)"/></g></g><g transform="translate(170.8 187.0) scale(1.039 1.064)"><path class="p14"/></g>
<g transform="translate(50.4 268.1) scale(0.930 0.935)" filter="url(#bl)"><path class="p15"/><path class="p16"/><path class="p17"/><path class="p18"/><g clip-path="url(#kl)"><ellipse cx="8" cy="20.5" rx="7.2" ry="7.8" fill="url(#gr)"/><ellipse cx="5.5" cy="21" rx="4.8" ry="5.5" fill="url(#go)"/><ellipse cx="14.5" cy="5.5" rx="1.1" ry="1.1" fill="url(#gr)"/></g></g><g transform="translate(50.4 268.1) scale(0.930 0.935)"><path class="p19"/></g>
<g transform="translate(218.5 187.2) scale(0.987 1.053)" filter="url(#bl)"><path class="p13"/><path class="p1"/><path class="p2"/><path class="p3"/><path class="p4"/><g clip-path="url(#ka3)"><ellipse cx="0" cy="19.3" rx="11" ry="4" fill="url(#gr)"/><ellipse cx="-4.5" cy="19.8" rx="5.5" ry="3" fill="url(#gy)"/><ellipse cx="4.5" cy="19.8" rx="5.5" ry="3" fill="url(#gy)"/></g></g><g transform="translate(218.5 187.2) scale(0.987 1.053)"><path class="p14"/></g>
<g transform="translate(47.0 309.8) scale(0.950 0.945)" filter="url(#bl)"><path class="p6"/><path class="p7"/><path class="p8"/><ellipse cx="18.8" cy="17.3" rx="2.2" ry="1.8" fill="#d8d8d8" opacity=".9"/><ellipse cx="35.6" cy="19.4" rx="1.6" ry="2.2" fill="#c4c4c4" opacity=".7"/><path class="p9"/><path class="p10"/><path class="p11"/><g clip-path="url(#km)"><ellipse cx="4" cy="23" rx="4.2" ry="4.2" fill="url(#go)"/><ellipse cx="3.5" cy="23.3" rx="2.4" ry="2.4" fill="url(#gy)"/><ellipse cx="24.5" cy="20" rx="2.2" ry="1.3" fill="url(#gr)"/></g></g><g transform="translate(47.0 309.8) scale(0.950 0.945)"><path class="p12"/></g>
<g transform="translate(263.5 189.5) scale(0.947 0.957)" filter="url(#bl)"><path class="p20"/><path class="p21"/><path class="p22"/><path class="p23"/><g clip-path="url(#ka4)"><ellipse cx="-13" cy="0.5" rx="5.6" ry="7.8" fill="url(#gr)"/><ellipse cx="13" cy="0.5" rx="5.6" ry="7.8" fill="url(#gr)"/><ellipse cx="-13.5" cy="1" rx="3" ry="4" fill="url(#go)"/><ellipse cx="13.5" cy="0" rx="3" ry="4" fill="url(#go)"/></g></g><g transform="translate(263.5 189.5) scale(0.947 0.957)"><path class="p24"/></g>
<g transform="translate(50.4 358.1) scale(0.930 0.935)" filter="url(#bl)"><path class="p15"/><path class="p16"/><path class="p17"/><path class="p18"/><g clip-path="url(#kl)"><ellipse cx="21" cy="18" rx="13.5" ry="4.8" fill="url(#gr)" transform="rotate(16 21 18)"/><ellipse cx="14" cy="14.5" rx="4.5" ry="3.2" fill="url(#gr)"/><ellipse cx="27" cy="20" rx="5" ry="3.5" fill="url(#gr)"/></g></g><g transform="translate(50.4 358.1) scale(0.930 0.935)"><path class="p19"/></g>
<g transform="translate(307.2 190.8) scale(0.921 0.904)" filter="url(#bl)"><path class="p25"/><path class="p26"/><path class="p27"/><path class="p28"/><g clip-path="url(#ka5)"><ellipse cx="-12" cy="2" rx="4.8" ry="4.4" fill="url(#go)" transform="rotate(20 -12 2)"/><ellipse cx="0" cy="-3" rx="4" ry="8" fill="url(#gr)"/><ellipse cx="0" cy="-3" rx="2.2" ry="4.5" fill="url(#go)"/><ellipse cx="12.5" cy="2" rx="4.8" ry="4.4" fill="url(#go)" transform="rotate(-20 12.5 2)"/><ellipse cx="4" cy="-15" rx="1" ry="1" fill="url(#gr)"/></g></g><g transform="translate(307.2 190.8) scale(0.921 0.904)"><path class="p29"/></g>
<g transform="translate(50.4 404.1) scale(0.930 0.935)" filter="url(#bl)"><path class="p30"/><path class="p16"/><path class="p17"/><path class="p18"/><g clip-path="url(#kl)"><ellipse cx="15" cy="6" rx="5.8" ry="4.4" fill="url(#go)" transform="rotate(12 15 6)"/><ellipse cx="17" cy="13.5" rx="1.8" ry="1.2" fill="url(#gr)"/></g></g><g transform="translate(50.4 404.1) scale(0.930 0.935)"><path class="p19"/></g>
<g transform="translate(356.0 189.5) scale(0.947 0.957)" filter="url(#bl)"><path class="p31"/><path class="p21"/><path class="p22"/><path class="p23"/><g clip-path="url(#ka6)"><ellipse cx="0" cy="12.5" rx="5.8" ry="7" fill="url(#gy)"/><ellipse cx="-13.5" cy="12" rx="3.4" ry="3.2" fill="url(#go)"/><ellipse cx="13.5" cy="12" rx="3.4" ry="3.2" fill="url(#go)"/><ellipse cx="0" cy="-16.5" rx="1.5" ry="2" fill="url(#gr)"/></g></g><g transform="translate(356.0 189.5) scale(0.947 0.957)"><path class="p32"/></g>
<g transform="translate(47.0 444.6) scale(0.950 0.945)" filter="url(#bl)"><path class="p6"/><path class="p7"/><path class="p8"/><ellipse cx="18.8" cy="17.3" rx="2.2" ry="1.8" fill="#d8d8d8" opacity=".9"/><ellipse cx="35.6" cy="19.4" rx="1.6" ry="2.2" fill="#c4c4c4" opacity=".7"/><path class="p9"/><path class="p10"/><path class="p11"/><g clip-path="url(#km)"><ellipse cx="14.5" cy="13.5" rx="8" ry="6.8" fill="url(#gr)"/><ellipse cx="13" cy="13" rx="5.5" ry="4.8" fill="url(#gy)"/><ellipse cx="41" cy="20" rx="4.5" ry="4.8" fill="url(#go)"/></g></g><g transform="translate(47.0 444.6) scale(0.950 0.945)"><path class="p12"/></g>
<g transform="translate(399.4 189.5) scale(0.966 0.957)" filter="url(#bl)"><path class="p31"/><path class="p26"/><path class="p27"/><path class="p28"/><g clip-path="url(#ka7)"><ellipse cx="0" cy="-17.5" rx="8.5" ry="3.4" fill="url(#go)"/><ellipse cx="-13.5" cy="13" rx="2.8" ry="2.6" fill="url(#gr)"/><ellipse cx="0" cy="13" rx="2.5" ry="3" fill="url(#gr)"/><ellipse cx="13.5" cy="13" rx="3.2" ry="3" fill="url(#gr)"/><ellipse cx="13.5" cy="-8" rx="1.4" ry="2" fill="url(#gr)"/></g></g><g transform="translate(399.4 189.5) scale(0.966 0.957)"><path class="p32"/></g>
<g transform="translate(47.0 487.1) scale(0.950 0.945)" filter="url(#bl)"><path class="p6"/><path class="p7"/><path class="p8"/><ellipse cx="18.8" cy="17.3" rx="2.2" ry="1.8" fill="#d8d8d8" opacity=".9"/><ellipse cx="35.6" cy="19.4" rx="1.6" ry="2.2" fill="#c4c4c4" opacity=".7"/><path class="p9"/><path class="p10"/><path class="p11"/><g clip-path="url(#km)"><ellipse cx="27" cy="5.5" rx="14" ry="2.8" fill="url(#gr)" transform="rotate(12 27 5.5)"/><ellipse cx="42" cy="13.5" rx="3.6" ry="7" fill="url(#go)" transform="rotate(-28 42 13.5)"/><ellipse cx="13" cy="13.5" rx="3" ry="3" fill="url(#gr)"/><ellipse cx="43" cy="20" rx="1.5" ry="1.5" fill="url(#gr)"/></g></g><g transform="translate(47.0 487.1) scale(0.950 0.945)"><path class="p12"/></g>
<g transform="translate(445.2 188.0) scale(0.953 1.021)" filter="url(#bl)"><path class="p33"/><path class="p21"/><path class="p22"/><path class="p23"/><g clip-path="url(#ka8)"><ellipse cx="0" cy="-14" rx="11.5" ry="6" fill="url(#go)"/><ellipse cx="-7" cy="-15.5" rx="4.5" ry="3.5" fill="url(#go)"/><ellipse cx="7" cy="-15.5" rx="4.5" ry="3.5" fill="url(#go)"/><ellipse cx="0" cy="-12" rx="4" ry="4" fill="url(#gy)"/><ellipse cx="-3" cy="-6" rx="2.2" ry="3.5" fill="url(#gr)"/><ellipse cx="0" cy="-3" rx="1.6" ry="3" fill="url(#gr)"/></g></g><g transform="translate(445.2 188.0) scale(0.953 1.021)"><path class="p34"/></g>
<g transform="translate(50.4 538.1) scale(0.930 0.935)" filter="url(#bl)"><path class="p30"/><path class="p16"/><path class="p17"/><path class="p18"/><g clip-path="url(#kl)"><ellipse cx="33.5" cy="12.5" rx="3.8" ry="8" fill="url(#go)" transform="rotate(-32 33.5 12.5)"/><ellipse cx="27" cy="18.5" rx="2.6" ry="2" fill="url(#gr)"/></g></g><g transform="translate(50.4 538.1) scale(0.930 0.935)"><path class="p19"/></g>
<g transform="translate(489.6 190.8) scale(0.968 0.904)" filter="url(#bl)"><path class="p35"/><path class="p26"/><path class="p27"/><path class="p28"/><g clip-path="url(#ka9)"><ellipse cx="8" cy="-9" rx="3.8" ry="8.5" fill="url(#go)" transform="rotate(-22 8 -9)"/><ellipse cx="11" cy="12" rx="5.6" ry="9.5" fill="url(#go)" transform="rotate(12 11 12)"/><ellipse cx="1" cy="-12" rx="1.6" ry="3.5" fill="url(#gr)"/><ellipse cx="0" cy="6" rx="1.7" ry="3.5" fill="url(#gr)"/><ellipse cx="1" cy="15" rx="1.6" ry="3" fill="url(#gr)"/></g></g><g transform="translate(489.6 190.8) scale(0.968 0.904)"><path class="p36"/></g>
<g transform="translate(50.4 580.7) scale(0.930 0.935)" filter="url(#bl)"><path class="p15"/><path class="p16"/><path class="p17"/><path class="p18"/><g clip-path="url(#kl)"><ellipse cx="9" cy="6.5" rx="8" ry="4.6" fill="url(#go)" transform="rotate(-28 9 6.5)"/><ellipse cx="30" cy="12" rx="5" ry="11" fill="url(#go)" transform="rotate(-34 30 12)"/><ellipse cx="7" cy="22.5" rx="4.6" ry="3.2" fill="url(#gr)" transform="rotate(-20 7 22.5)"/></g></g><g transform="translate(50.4 580.7) scale(0.930 0.935)"><path class="p19"/></g>
<g transform="translate(535.5 190.2) scale(0.947 0.926)" filter="url(#bl)"><path class="p35"/><path class="p26"/><path class="p27"/><path class="p28"/><g clip-path="url(#ka10)"><ellipse cx="-12.5" cy="9" rx="5" ry="9.5" fill="url(#gy)" transform="rotate(12 -12.5 9)"/><ellipse cx="-10" cy="-10" rx="4.2" ry="7" fill="url(#go)" transform="rotate(25 -10 -10)"/><ellipse cx="0" cy="-13" rx="2" ry="4.5" fill="url(#gr)"/><ellipse cx="0" cy="2" rx="1.8" ry="7" fill="url(#gr)"/><ellipse cx="0" cy="15" rx="1.6" ry="3" fill="url(#gr)"/><ellipse cx="14.5" cy="8" rx="2.8" ry="4.5" fill="url(#go)"/><ellipse cx="-3" cy="-17" rx="2.5" ry="2" fill="url(#gr)"/></g></g><g transform="translate(535.5 190.2) scale(0.947 0.926)"><path class="p36"/></g>
<g transform="translate(50.4 623.8) scale(0.930 0.935)" filter="url(#bl)"><path class="p15"/><path class="p16"/><path class="p17"/><path class="p18"/><g clip-path="url(#kl)"><ellipse cx="8.5" cy="6" rx="9" ry="5.8" fill="url(#gy)" transform="rotate(-28 8.5 6)"/><ellipse cx="29" cy="11.5" rx="5.2" ry="10.5" fill="url(#go)" transform="rotate(-34 29 11.5)"/><ellipse cx="4.5" cy="23" rx="2.6" ry="2.6" fill="url(#gr)"/><ellipse cx="12" cy="14" rx="3" ry="2" fill="url(#gr)"/><ellipse cx="34" cy="19" rx="2.5" ry="3.5" fill="url(#gr)"/></g></g><g transform="translate(50.4 623.8) scale(0.930 0.935)"><path class="p19"/></g>
<g transform="translate(579.4 189.0) scale(0.979 0.979)" filter="url(#bl)"><path class="p25"/><path class="p26"/><path class="p27"/><path class="p28"/><g clip-path="url(#ka11)"><ellipse cx="-10" cy="-15.5" rx="3" ry="3.2" fill="url(#go)"/><ellipse cx="10" cy="-15.5" rx="3" ry="3.2" fill="url(#go)"/><ellipse cx="0" cy="-9.5" rx="3.2" ry="3" fill="url(#gr)"/><ellipse cx="-16" cy="6" rx="3" ry="5.5" fill="url(#go)"/><ellipse cx="16" cy="6" rx="3" ry="5.5" fill="url(#go)"/><ellipse cx="-8" cy="19" rx="2.8" ry="2.4" fill="url(#gr)"/><ellipse cx="10" cy="19" rx="2.8" ry="2.4" fill="url(#gr)"/></g></g><g transform="translate(579.4 189.0) scale(0.979 0.979)"><path class="p29"/></g>
<g transform="translate(50.4 668.1) scale(0.930 0.935)" filter="url(#bl)"><path class="p30"/><path class="p16"/><path class="p17"/><path class="p18"/><g clip-path="url(#kl)"><ellipse cx="11" cy="5" rx="2.4" ry="3.2" fill="url(#gr)" transform="rotate(10 11 5)"/><ellipse cx="20" cy="4.5" rx="2" ry="2.8" fill="url(#gr)" transform="rotate(15 20 4.5)"/><ellipse cx="2.5" cy="12" rx="1.5" ry="2" fill="url(#gr)"/><ellipse cx="33" cy="10.5" rx="4.6" ry="2.6" fill="url(#go)" transform="rotate(32 33 10.5)"/><ellipse cx="25" cy="18" rx="1.8" ry="1.4" fill="url(#gr)"/></g></g><g transform="translate(50.4 668.1) scale(0.930 0.935)"><path class="p19"/></g>
<g transform="translate(625.4 188.5) scale(0.982 1.000)" filter="url(#bl)"><path class="p25"/><path class="p26"/><path class="p27"/><path class="p28"/><g clip-path="url(#ka12)"><ellipse cx="-12" cy="-8" rx="3.8" ry="3.4" fill="url(#gr)"/><ellipse cx="12.5" cy="-6" rx="2" ry="2" fill="url(#gr)"/><ellipse cx="-11" cy="16" rx="4.6" ry="3.4" fill="url(#go)"/><ellipse cx="11.5" cy="16" rx="4.4" ry="3.4" fill="url(#go)"/><ellipse cx="-4" cy="14.5" rx="1.5" ry="1.5" fill="url(#gr)"/><ellipse cx="-9" cy="-14" rx="1" ry="1.4" fill="url(#gr)"/></g></g><g transform="translate(625.4 188.5) scale(0.982 1.000)"><path class="p29"/></g>
<g transform="translate(50.4 710.4) scale(0.930 0.935)" filter="url(#bl)"><path class="p30"/><path class="p16"/><path class="p17"/><path class="p18"/><g clip-path="url(#kl)"><ellipse cx="7" cy="8" rx="6" ry="4.6" fill="url(#go)" transform="rotate(-28 7 8)"/><ellipse cx="6" cy="8.5" rx="3.2" ry="2.2" fill="url(#gy)" transform="rotate(-28 6 8.5)"/><ellipse cx="25" cy="9.5" rx="2.8" ry="2.8" fill="url(#gr)"/><ellipse cx="32" cy="13.5" rx="2.3" ry="2.3" fill="url(#gr)"/><ellipse cx="36.5" cy="17.5" rx="1.6" ry="1.6" fill="url(#gr)"/><ellipse cx="24" cy="5" rx="1.4" ry="1.2" fill="url(#gr)"/></g></g><g transform="translate(50.4 710.4) scale(0.930 0.935)"><path class="p19"/></g>
<g transform="translate(671.0 190.2) scale(1.000 0.926)" filter="url(#bl)"><path class="p37"/><path class="p38"/><path class="p39"/><ellipse cx="0" cy="1.5" rx="2.6" ry="3" fill="#8c8c8c" opacity=".85"/><g clip-path="url(#ka13)"><ellipse cx="0" cy="11.5" rx="11.5" ry="7" fill="url(#go)"/><ellipse cx="-5.5" cy="11" rx="5.5" ry="5" fill="url(#go)" transform="rotate(-20 -5.5 11)"/><ellipse cx="5.5" cy="11" rx="5.5" ry="5" fill="url(#go)" transform="rotate(20 5.5 11)"/><ellipse cx="0" cy="12.5" rx="6" ry="3.6" fill="url(#gy)"/></g></g><g transform="translate(671.0 190.2) scale(1.000 0.926)"><path class="p40"/></g>
<g transform="translate(47.0 755.7) scale(0.950 0.945)" filter="url(#bl)"><path class="p6"/><path class="p7"/><path class="p8"/><ellipse cx="18.8" cy="17.3" rx="2.2" ry="1.8" fill="#d8d8d8" opacity=".9"/><ellipse cx="35.6" cy="19.4" rx="1.6" ry="2.2" fill="#c4c4c4" opacity=".7"/><path class="p9"/><path class="p10"/><path class="p11"/><g clip-path="url(#km)"><ellipse cx="18" cy="32.5" rx="10" ry="4.4" fill="url(#gr)" transform="rotate(24 18 32.5)"/><ellipse cx="17.5" cy="32.5" rx="8" ry="3.2" fill="url(#go)" transform="rotate(24 17.5 32.5)"/><ellipse cx="17" cy="32.3" rx="5" ry="2" fill="url(#gy)" transform="rotate(24 17 32.3)"/></g></g><g transform="translate(47.0 755.7) scale(0.950 0.945)"><path class="p12"/></g>
</g>
<g id="panelB">
<rect x="103.2" y="1032.9" width="580.6" height="567.2" fill="#000"/>
<g shape-rendering="crispEdges">
<rect x="147.90" y="1032.87" width="44.96" height="43.93" fill="#e00818"/>
<rect x="192.56" y="1032.87" width="44.96" height="43.93" fill="#fe272d"/>
<rect x="237.22" y="1032.87" width="89.62" height="43.93" fill="#ffd6c6"/>
<rect x="326.55" y="1032.87" width="44.96" height="43.93" fill="#ffa69a"/>
<rect x="371.21" y="1032.87" width="44.96" height="43.93" fill="#beb6e4"/>
<rect x="415.87" y="1032.87" width="44.96" height="43.93" fill="#ffe2d2"/>
<rect x="460.53" y="1032.87" width="44.96" height="43.93" fill="#ff988e"/>
<rect x="505.19" y="1032.87" width="44.96" height="43.93" fill="#ff7c72"/>
<rect x="549.86" y="1032.87" width="44.96" height="43.93" fill="#fe4e4e"/>
<rect x="594.52" y="1032.87" width="44.96" height="43.93" fill="#fd161f"/>
<rect x="639.18" y="1032.87" width="44.96" height="43.93" fill="#ffefde"/>
<rect x="103.24" y="1076.50" width="44.96" height="43.93" fill="#e00818"/>
<rect x="192.56" y="1076.50" width="44.96" height="43.93" fill="#fb0e19"/>
<rect x="237.22" y="1076.50" width="44.96" height="43.93" fill="#ffc8b9"/>
<rect x="281.89" y="1076.50" width="44.96" height="43.93" fill="#ffd6c6"/>
<rect x="326.55" y="1076.50" width="44.96" height="43.93" fill="#ded4e4"/>
<rect x="371.21" y="1076.50" width="44.96" height="43.93" fill="#8e8aea"/>
<rect x="415.87" y="1076.50" width="44.96" height="43.93" fill="#9e98e8"/>
<rect x="460.53" y="1076.50" width="44.96" height="43.93" fill="#ffd6c6"/>
<rect x="505.19" y="1076.50" width="44.96" height="43.93" fill="#ffefde"/>
<rect x="549.86" y="1076.50" width="44.96" height="43.93" fill="#ffa69a"/>
<rect x="594.52" y="1076.50" width="44.96" height="43.93" fill="#ff8c82"/>
<rect x="639.18" y="1076.50" width="44.96" height="43.93" fill="#ffb4a6"/>
<rect x="103.24" y="1120.13" width="44.96" height="43.93" fill="#fe272d"/>
<rect x="147.90" y="1120.13" width="44.96" height="43.93" fill="#fb0e19"/>
<rect x="237.22" y="1120.13" width="44.96" height="43.93" fill="#aea8e6"/>
<rect x="281.89" y="1120.13" width="44.96" height="43.93" fill="#beb6e4"/>
<rect x="326.55" y="1120.13" width="44.96" height="43.93" fill="#ffe2d2"/>
<rect x="371.21" y="1120.13" width="89.62" height="43.93" fill="#ffa69a"/>
<rect x="460.53" y="1120.13" width="44.96" height="43.93" fill="#ffc8b9"/>
<rect x="505.19" y="1120.13" width="44.96" height="43.93" fill="#ffcfc0"/>
<rect x="549.86" y="1120.13" width="44.96" height="43.93" fill="#eee2e0"/>
<rect x="594.52" y="1120.13" width="44.96" height="43.93" fill="#ffe2d2"/>
<rect x="639.18" y="1120.13" width="44.96" height="43.93" fill="#ffb4a6"/>
<rect x="103.24" y="1163.76" width="44.96" height="43.93" fill="#ffd6c6"/>
<rect x="147.90" y="1163.76" width="44.96" height="43.93" fill="#ffc8b9"/>
<rect x="192.56" y="1163.76" width="44.96" height="43.93" fill="#aea8e6"/>
<rect x="281.89" y="1163.76" width="44.96" height="43.93" fill="#fe272d"/>
<rect x="326.55" y="1163.76" width="44.96" height="43.93" fill="#7e7cec"/>
<rect x="371.21" y="1163.76" width="44.96" height="43.93" fill="#ded4e4"/>
<rect x="415.87" y="1163.76" width="44.96" height="43.93" fill="#ff988e"/>
<rect x="460.53" y="1163.76" width="44.96" height="43.93" fill="#ffc8b9"/>
<rect x="505.19" y="1163.76" width="44.96" height="43.93" fill="#ffa69a"/>
<rect x="549.86" y="1163.76" width="44.96" height="43.93" fill="#ff7c72"/>
<rect x="594.52" y="1163.76" width="44.96" height="43.93" fill="#ffd6c6"/>
<rect x="639.18" y="1163.76" width="44.96" height="43.93" fill="#8e8aea"/>
<rect x="103.24" y="1207.39" width="89.62" height="43.93" fill="#ffd6c6"/>
<rect x="192.56" y="1207.39" width="44.96" height="43.93" fill="#beb6e4"/>
<rect x="237.22" y="1207.39" width="44.96" height="43.93" fill="#fe272d"/>
<rect x="326.55" y="1207.39" width="44.96" height="43.93" fill="#7e7cec"/>
<rect x="371.21" y="1207.39" width="44.96" height="43.93" fill="#cec4e4"/>
<rect x="415.87" y="1207.39" width="89.62" height="43.93" fill="#ffefde"/>
<rect x="505.19" y="1207.39" width="44.96" height="43.93" fill="#ded4e4"/>
<rect x="549.86" y="1207.39" width="44.96" height="43.93" fill="#ff5a58"/>
<rect x="594.52" y="1207.39" width="44.96" height="43.93" fill="#ffc8b9"/>
<rect x="639.18" y="1207.39" width="44.96" height="43.93" fill="#aea8e6"/>
<rect x="103.24" y="1251.02" width="44.96" height="43.93" fill="#ffa69a"/>
<rect x="147.90" y="1251.02" width="44.96" height="43.93" fill="#ded4e4"/>
<rect x="192.56" y="1251.02" width="44.96" height="43.93" fill="#ffe2d2"/>
<rect x="237.22" y="1251.02" width="89.62" height="43.93" fill="#7e7cec"/>
<rect x="371.21" y="1251.02" width="44.96" height="43.93" fill="#ff6864"/>
<rect x="415.87" y="1251.02" width="44.96" height="43.93" fill="#ffa69a"/>
<rect x="460.53" y="1251.02" width="89.62" height="43.93" fill="#ff8c82"/>
<rect x="549.86" y="1251.02" width="44.96" height="43.93" fill="#ffc8b9"/>
<rect x="594.52" y="1251.02" width="44.96" height="43.93" fill="#ff5a58"/>
<rect x="639.18" y="1251.02" width="44.96" height="43.93" fill="#eee2e0"/>
<rect x="103.24" y="1294.65" width="44.96" height="43.93" fill="#beb6e4"/>
<rect x="147.90" y="1294.65" width="44.96" height="43.93" fill="#8e8aea"/>
<rect x="192.56" y="1294.65" width="44.96" height="43.93" fill="#ffa69a"/>
<rect x="237.22" y="1294.65" width="44.96" height="43.93" fill="#ded4e4"/>
<rect x="281.89" y="1294.65" width="44.96" height="43.93" fill="#cec4e4"/>
<rect x="326.55" y="1294.65" width="44.96" height="43.93" fill="#ff6864"/>
<rect x="415.87" y="1294.65" width="44.96" height="43.93" fill="#ec0818"/>
<rect x="460.53" y="1294.65" width="44.96" height="43.93" fill="#fe4040"/>
<rect x="505.19" y="1294.65" width="44.96" height="43.93" fill="#ff8c82"/>
<rect x="549.86" y="1294.65" width="44.96" height="43.93" fill="#ffd6c6"/>
<rect x="594.52" y="1294.65" width="44.96" height="43.93" fill="#ffe2d2"/>
<rect x="639.18" y="1294.65" width="44.96" height="43.93" fill="#9e98e8"/>
<rect x="103.24" y="1338.27" width="44.96" height="43.93" fill="#ffe2d2"/>
<rect x="147.90" y="1338.27" width="44.96" height="43.93" fill="#9e98e8"/>
<rect x="192.56" y="1338.27" width="44.96" height="43.93" fill="#ffa69a"/>
<rect x="237.22" y="1338.27" width="44.96" height="43.93" fill="#ff988e"/>
<rect x="281.89" y="1338.27" width="44.96" height="43.93" fill="#ffefde"/>
<rect x="326.55" y="1338.27" width="44.96" height="43.93" fill="#ffa69a"/>
<rect x="371.21" y="1338.27" width="44.96" height="43.93" fill="#ec0818"/>
<rect x="460.53" y="1338.27" width="44.96" height="43.93" fill="#fd161f"/>
<rect x="505.19" y="1338.27" width="44.96" height="43.93" fill="#fb0e19"/>
<rect x="549.86" y="1338.27" width="44.96" height="43.93" fill="#ff6864"/>
<rect x="594.52" y="1338.27" width="44.96" height="43.93" fill="#ff7c72"/>
<rect x="639.18" y="1338.27" width="44.96" height="43.93" fill="#7e7cec"/>
<rect x="103.24" y="1381.90" width="44.96" height="43.93" fill="#ff988e"/>
<rect x="147.90" y="1381.90" width="44.96" height="43.93" fill="#ffd6c6"/>
<rect x="192.56" y="1381.90" width="89.62" height="43.93" fill="#ffc8b9"/>
<rect x="281.89" y="1381.90" width="44.96" height="43.93" fill="#ffefde"/>
<rect x="326.55" y="1381.90" width="44.96" height="43.93" fill="#ff8c82"/>
<rect x="371.21" y="1381.90" width="44.96" height="43.93" fill="#fe4040"/>
<rect x="415.87" y="1381.90" width="44.96" height="43.93" fill="#fd161f"/>
<rect x="505.19" y="1381.90" width="44.96" height="43.93" fill="#fe4040"/>
<rect x="549.86" y="1381.90" width="44.96" height="43.93" fill="#fe4e4e"/>
<rect x="594.52" y="1381.90" width="44.96" height="43.93" fill="#fd161f"/>
<rect x="639.18" y="1381.90" width="44.96" height="43.93" fill="#8e8aea"/>
<rect x="103.24" y="1425.53" width="44.96" height="43.93" fill="#ff7c72"/>
<rect x="147.90" y="1425.53" width="44.96" height="43.93" fill="#ffefde"/>
<rect x="192.56" y="1425.53" width="44.96" height="43.93" fill="#ffcfc0"/>
<rect x="237.22" y="1425.53" width="44.96" height="43.93" fill="#ffa69a"/>
<rect x="281.89" y="1425.53" width="44.96" height="43.93" fill="#ded4e4"/>
<rect x="326.55" y="1425.53" width="89.62" height="43.93" fill="#ff8c82"/>
<rect x="415.87" y="1425.53" width="44.96" height="43.93" fill="#fb0e19"/>
<rect x="460.53" y="1425.53" width="44.96" height="43.93" fill="#fe4040"/>
<rect x="549.86" y="1425.53" width="44.96" height="43.93" fill="#fe4e4e"/>
<rect x="594.52" y="1425.53" width="44.96" height="43.93" fill="#ec0818"/>
<rect x="639.18" y="1425.53" width="44.96" height="43.93" fill="#6262f0"/>
<rect x="103.24" y="1469.16" width="44.96" height="43.93" fill="#fe4e4e"/>
<rect x="147.90" y="1469.16" width="44.96" height="43.93" fill="#ffa69a"/>
<rect x="192.56" y="1469.16" width="44.96" height="43.93" fill="#eee2e0"/>
<rect x="237.22" y="1469.16" width="44.96" height="43.93" fill="#ff7c72"/>
<rect x="281.89" y="1469.16" width="44.96" height="43.93" fill="#ff5a58"/>
<rect x="326.55" y="1469.16" width="44.96" height="43.93" fill="#ffc8b9"/>
<rect x="371.21" y="1469.16" width="44.96" height="43.93" fill="#ffd6c6"/>
<rect x="415.87" y="1469.16" width="44.96" height="43.93" fill="#ff6864"/>
<rect x="460.53" y="1469.16" width="89.62" height="43.93" fill="#fe4e4e"/>
<rect x="594.52" y="1469.16" width="44.96" height="43.93" fill="#f40917"/>
<rect x="639.18" y="1469.16" width="44.96" height="43.93" fill="#7e7cec"/>
<rect x="103.24" y="1512.79" width="44.96" height="43.93" fill="#fd161f"/>
<rect x="147.90" y="1512.79" width="44.96" height="43.93" fill="#ff8c82"/>
<rect x="192.56" y="1512.79" width="44.96" height="43.93" fill="#ffe2d2"/>
<rect x="237.22" y="1512.79" width="44.96" height="43.93" fill="#ffd6c6"/>
<rect x="281.89" y="1512.79" width="44.96" height="43.93" fill="#ffc8b9"/>
<rect x="326.55" y="1512.79" width="44.96" height="43.93" fill="#ff5a58"/>
<rect x="371.21" y="1512.79" width="44.96" height="43.93" fill="#ffe2d2"/>
<rect x="415.87" y="1512.79" width="44.96" height="43.93" fill="#ff7c72"/>
<rect x="460.53" y="1512.79" width="44.96" height="43.93" fill="#fd161f"/>
<rect x="505.19" y="1512.79" width="44.96" height="43.93" fill="#ec0818"/>
<rect x="549.86" y="1512.79" width="44.96" height="43.93" fill="#f40917"/>
<rect x="639.18" y="1512.79" width="44.96" height="43.93" fill="#7e7cec"/>
<rect x="103.24" y="1556.42" width="44.96" height="43.93" fill="#ffefde"/>
<rect x="147.90" y="1556.42" width="89.62" height="43.93" fill="#ffb4a6"/>
<rect x="237.22" y="1556.42" width="44.96" height="43.93" fill="#8e8aea"/>
<rect x="281.89" y="1556.42" width="44.96" height="43.93" fill="#aea8e6"/>
<rect x="326.55" y="1556.42" width="44.96" height="43.93" fill="#eee2e0"/>
<rect x="371.21" y="1556.42" width="44.96" height="43.93" fill="#9e98e8"/>
<rect x="415.87" y="1556.42" width="44.96" height="43.93" fill="#7e7cec"/>
<rect x="460.53" y="1556.42" width="44.96" height="43.93" fill="#8e8aea"/>
<rect x="505.19" y="1556.42" width="44.96" height="43.93" fill="#6262f0"/>
<rect x="549.86" y="1556.42" width="89.62" height="43.93" fill="#7e7cec"/>
</g>
<rect x="103.4" y="1033.1" width="580.9" height="567.5" fill="none" stroke="#3a3a3a" stroke-width="1"/>
<path d="M170.2,1032.9v6M170.2,1600.0v-6M103.2,1098.3h6M683.8,1098.3h-6M259.6,1032.9v6M259.6,1600.0v-6M103.2,1185.6h6M683.8,1185.6h-6M348.9,1032.9v6M348.9,1600.0v-6M103.2,1272.8h6M683.8,1272.8h-6M438.2,1032.9v6M438.2,1600.0v-6M103.2,1360.1h6M683.8,1360.1h-6M527.5,1032.9v6M527.5,1600.0v-6M103.2,1447.3h6M683.8,1447.3h-6M616.8,1032.9v6M616.8,1600.0v-6M103.2,1534.6h6M683.8,1534.6h-6" stroke="#222" stroke-width=".9" fill="none"/>
<g font-family="'Liberation Serif',serif" font-size="8" fill="#555" text-anchor="middle">
<text x="170.2" y="1609.3">2</text>
<text x="259.6" y="1609.3">4</text>
<text x="348.9" y="1609.3">6</text>
<text x="438.2" y="1609.3">8</text>
<text x="527.5" y="1609.3">10</text>
<text x="616.8" y="1609.3">12</text>
</g>
<rect x="693.8" y="1035.0" width="15.4" height="566.5" fill="url(#cbar)" stroke="#555" stroke-width=".6"/>
<g font-family="'Liberation Serif',serif" font-size="8.5" fill="#444">
<text x="710.0" y="1037.8">1</text>
<text x="710.0" y="1094.5">0.8</text>
<text x="710.0" y="1151.1">0.6</text>
<text x="710.0" y="1207.8">0.4</text>
<text x="710.0" y="1264.4">0.2</text>
<text x="710.0" y="1321.0">0</text>
<text x="710.0" y="1377.7">-0.2</text>
<text x="710.0" y="1434.3">-0.4</text>
<text x="710.0" y="1491.0">-0.6</text>
<text x="710.0" y="1547.6">-0.8</text>
<text x="710.0" y="1604.3">-1</text>
</g>
<path d="M693.8,1091.7h5M709.2,1091.7h-6M693.8,1148.3h5M709.2,1148.3h-6M693.8,1205.0h5M709.2,1205.0h-6M693.8,1261.6h5M709.2,1261.6h-6M693.8,1318.2h5M709.2,1318.2h-6M693.8,1374.9h5M709.2,1374.9h-6M693.8,1431.5h5M709.2,1431.5h-6M693.8,1488.2h5M709.2,1488.2h-6M693.8,1544.8h5M709.2,1544.8h-6" stroke="#333" stroke-width="1" stroke-dasharray="2.5 1.5" fill="none"/>
<g font-family="'Liberation Sans',sans-serif" font-size="15.5" fill="#111" text-anchor="middle">
<text x="121.4" y="970.3">1</text>
<text x="31.7" y="1057.8">1</text>
<text x="168.1" y="968.4">2</text>
<text x="31.7" y="1100.7">2</text>
<text x="215.2" y="970.3">3</text>
<text x="31.7" y="1144.9">3</text>
<text x="259.6" y="970.3">4</text>
<text x="31.7" y="1190.9">4</text>
<text x="302.8" y="970.3">5</text>
<text x="31.7" y="1237.0">5</text>
<text x="351.0" y="970.3">6</text>
<text x="31.7" y="1276.3">6</text>
<text x="393.8" y="970.3">7</text>
<text x="31.7" y="1320.3">7</text>
<text x="439.0" y="969.8">8</text>
<text x="31.7" y="1368.0">8</text>
<text x="482.9" y="970.0">9</text>
<text x="31.7" y="1411.6">9</text>
<text x="528.2" y="970.3">10</text>
<text x="31.4" y="1450.9">10</text>
<text x="571.6" y="970.3">11</text>
<text x="31.4" y="1495.8">11</text>
<text x="617.0" y="971.9">12</text>
<text x="31.4" y="1538.4">12</text>
<text x="662.0" y="971.9">13</text>
<text x="31.4" y="1586.3">13</text>
</g>
<g transform="translate(121.4 1002.8) scale(1.016 1.000)" filter="url(#bl)"><path class="p0"/><path class="p1"/><path class="p2"/><path class="p3"/><path class="p4"/><g clip-path="url(#ka1)"><ellipse cx="-3" cy="13.5" rx="4.6" ry="6.8" fill="url(#gy)" transform="rotate(-28 -3 13.5)"/><ellipse cx="3" cy="13.5" rx="4.6" ry="6.8" fill="url(#gy)" transform="rotate(28 3 13.5)"/><ellipse cx="0" cy="15.5" rx="4.5" ry="4.5" fill="url(#gy)"/></g></g><g transform="translate(121.4 1002.8) scale(1.016 1.000)"><path class="p5"/></g>
<g transform="translate(44.5 1035.1) scale(0.950 0.945)" filter="url(#bl)"><path class="p6"/><path class="p7"/><path class="p8"/><ellipse cx="18.8" cy="17.3" rx="2.2" ry="1.8" fill="#d8d8d8" opacity=".9"/><ellipse cx="35.6" cy="19.4" rx="1.6" ry="2.2" fill="#c4c4c4" opacity=".7"/><path class="p9"/><path class="p10"/><path class="p11"/><g clip-path="url(#km)"><ellipse cx="8.3" cy="17.5" rx="6.2" ry="9.2" fill="url(#gr)" transform="rotate(12 8.3 17.5)"/><ellipse cx="7.5" cy="18.5" rx="4.6" ry="6.5" fill="url(#gy)" transform="rotate(12 7.5 18.5)"/></g></g><g transform="translate(44.5 1035.1) scale(0.950 0.945)"><path class="p12"/></g>
<g transform="translate(168.1 1001.3) scale(1.039 1.064)" filter="url(#bl)"><path class="p13"/><path class="p1"/><path class="p2"/><path class="p3"/><path class="p4"/><g clip-path="url(#ka2)"><ellipse cx="0" cy="10.5" rx="7" ry="3" fill="url(#gr)"/><ellipse cx="-10" cy="14" rx="6.8" ry="5.8" fill="url(#go)" transform="rotate(20 -10 14)"/><ellipse cx="10" cy="14" rx="6.8" ry="5.8" fill="url(#go)" transform="rotate(-20 10 14)"/></g></g><g transform="translate(168.1 1001.3) scale(1.039 1.064)"><path class="p14"/></g>
<g transform="translate(47.9 1081.5) scale(0.930 0.935)" filter="url(#bl)"><path class="p15"/><path class="p16"/><path class="p17"/><path class="p18"/><g clip-path="url(#kl)"><ellipse cx="8" cy="20.5" rx="7.2" ry="7.8" fill="url(#gr)"/><ellipse cx="5.5" cy="21" rx="4.8" ry="5.5" fill="url(#go)"/><ellipse cx="14.5" cy="5.5" rx="1.1" ry="1.1" fill="url(#gr)"/></g></g><g transform="translate(47.9 1081.5) scale(0.930 0.935)"><path class="p19"/></g>
<g transform="translate(215.2 1001.5) scale(0.987 1.053)" filter="url(#bl)"><path class="p13"/><path class="p1"/><path class="p2"/><path class="p3"/><path class="p4"/><g clip-path="url(#ka3)"><ellipse cx="0" cy="19.3" rx="11" ry="4" fill="url(#gr)"/><ellipse cx="-4.5" cy="19.8" rx="5.5" ry="3" fill="url(#gy)"/><ellipse cx="4.5" cy="19.8" rx="5.5" ry="3" fill="url(#gy)"/></g></g><g transform="translate(215.2 1001.5) scale(0.987 1.053)"><path class="p14"/></g>
<g transform="translate(44.5 1122.7) scale(0.950 0.945)" filter="url(#bl)"><path class="p6"/><path class="p7"/><path class="p8"/><ellipse cx="18.8" cy="17.3" rx="2.2" ry="1.8" fill="#d8d8d8" opacity=".9"/><ellipse cx="35.6" cy="19.4" rx="1.6" ry="2.2" fill="#c4c4c4" opacity=".7"/><path class="p9"/><path class="p10"/><path class="p11"/><g clip-path="url(#km)"><ellipse cx="4" cy="23" rx="4.2" ry="4.2" fill="url(#go)"/><ellipse cx="3.5" cy="23.3" rx="2.4" ry="2.4" fill="url(#gy)"/><ellipse cx="24.5" cy="20" rx="2.2" ry="1.3" fill="url(#gr)"/></g></g><g transform="translate(44.5 1122.7) scale(0.950 0.945)"><path class="p12"/></g>
<g transform="translate(259.6 1003.8) scale(0.947 0.957)" filter="url(#bl)"><path class="p20"/><path class="p21"/><path class="p22"/><path class="p23"/><g clip-path="url(#ka4)"><ellipse cx="-13" cy="0.5" rx="5.6" ry="7.8" fill="url(#gr)"/><ellipse cx="13" cy="0.5" rx="5.6" ry="7.8" fill="url(#gr)"/><ellipse cx="-13.5" cy="1" rx="3" ry="4" fill="url(#go)"/><ellipse cx="13.5" cy="0" rx="3" ry="4" fill="url(#go)"/></g></g><g transform="translate(259.6 1003.8) scale(0.947 0.957)"><path class="p24"/></g>
<g transform="translate(47.9 1170.4) scale(0.930 0.935)" filter="url(#bl)"><path class="p15"/><path class="p16"/><path class="p17"/><path class="p18"/><g clip-path="url(#kl)"><ellipse cx="21" cy="18" rx="13.5" ry="4.8" fill="url(#gr)" transform="rotate(16 21 18)"/><ellipse cx="14" cy="14.5" rx="4.5" ry="3.2" fill="url(#gr)"/><ellipse cx="27" cy="20" rx="5" ry="3.5" fill="url(#gr)"/></g></g><g transform="translate(47.9 1170.4) scale(0.930 0.935)"><path class="p19"/></g>
<g transform="translate(302.8 1005.0) scale(0.921 0.904)" filter="url(#bl)"><path class="p25"/><path class="p26"/><path class="p27"/><path class="p28"/><g clip-path="url(#ka5)"><ellipse cx="-12" cy="2" rx="4.8" ry="4.4" fill="url(#go)" transform="rotate(20 -12 2)"/><ellipse cx="0" cy="-3" rx="4" ry="8" fill="url(#gr)"/><ellipse cx="0" cy="-3" rx="2.2" ry="4.5" fill="url(#go)"/><ellipse cx="12.5" cy="2" rx="4.8" ry="4.4" fill="url(#go)" transform="rotate(-20 12.5 2)"/><ellipse cx="4" cy="-15" rx="1" ry="1" fill="url(#gr)"/></g></g><g transform="translate(302.8 1005.0) scale(0.921 0.904)"><path class="p29"/></g>
<g transform="translate(47.9 1215.9) scale(0.930 0.935)" filter="url(#bl)"><path class="p30"/><path class="p16"/><path class="p17"/><path class="p18"/><g clip-path="url(#kl)"><ellipse cx="15" cy="6" rx="5.8" ry="4.4" fill="url(#go)" transform="rotate(12 15 6)"/><ellipse cx="17" cy="13.5" rx="1.8" ry="1.2" fill="url(#gr)"/></g></g><g transform="translate(47.9 1215.9) scale(0.930 0.935)"><path class="p19"/></g>
<g transform="translate(351.0 1003.8) scale(0.947 0.957)" filter="url(#bl)"><path class="p31"/><path class="p21"/><path class="p22"/><path class="p23"/><g clip-path="url(#ka6)"><ellipse cx="0" cy="12.5" rx="5.8" ry="7" fill="url(#gy)"/><ellipse cx="-13.5" cy="12" rx="3.4" ry="3.2" fill="url(#go)"/><ellipse cx="13.5" cy="12" rx="3.4" ry="3.2" fill="url(#go)"/><ellipse cx="0" cy="-16.5" rx="1.5" ry="2" fill="url(#gr)"/></g></g><g transform="translate(351.0 1003.8) scale(0.947 0.957)"><path class="p32"/></g>
<g transform="translate(44.5 1255.9) scale(0.950 0.945)" filter="url(#bl)"><path class="p6"/><path class="p7"/><path class="p8"/><ellipse cx="18.8" cy="17.3" rx="2.2" ry="1.8" fill="#d8d8d8" opacity=".9"/><ellipse cx="35.6" cy="19.4" rx="1.6" ry="2.2" fill="#c4c4c4" opacity=".7"/><path class="p9"/><path class="p10"/><path class="p11"/><g clip-path="url(#km)"><ellipse cx="14.5" cy="13.5" rx="8" ry="6.8" fill="url(#gr)"/><ellipse cx="13" cy="13" rx="5.5" ry="4.8" fill="url(#gy)"/><ellipse cx="41" cy="20" rx="4.5" ry="4.8" fill="url(#go)"/></g></g><g transform="translate(44.5 1255.9) scale(0.950 0.945)"><path class="p12"/></g>
<g transform="translate(393.8 1003.8) scale(0.966 0.957)" filter="url(#bl)"><path class="p31"/><path class="p26"/><path class="p27"/><path class="p28"/><g clip-path="url(#ka7)"><ellipse cx="0" cy="-17.5" rx="8.5" ry="3.4" fill="url(#go)"/><ellipse cx="-13.5" cy="13" rx="2.8" ry="2.6" fill="url(#gr)"/><ellipse cx="0" cy="13" rx="2.5" ry="3" fill="url(#gr)"/><ellipse cx="13.5" cy="13" rx="3.2" ry="3" fill="url(#gr)"/><ellipse cx="13.5" cy="-8" rx="1.4" ry="2" fill="url(#gr)"/></g></g><g transform="translate(393.8 1003.8) scale(0.966 0.957)"><path class="p32"/></g>
<g transform="translate(44.5 1297.9) scale(0.950 0.945)" filter="url(#bl)"><path class="p6"/><path class="p7"/><path class="p8"/><ellipse cx="18.8" cy="17.3" rx="2.2" ry="1.8" fill="#d8d8d8" opacity=".9"/><ellipse cx="35.6" cy="19.4" rx="1.6" ry="2.2" fill="#c4c4c4" opacity=".7"/><path class="p9"/><path class="p10"/><path class="p11"/><g clip-path="url(#km)"><ellipse cx="27" cy="5.5" rx="14" ry="2.8" fill="url(#gr)" transform="rotate(12 27 5.5)"/><ellipse cx="42" cy="13.5" rx="3.6" ry="7" fill="url(#go)" transform="rotate(-28 42 13.5)"/><ellipse cx="13" cy="13.5" rx="3" ry="3" fill="url(#gr)"/><ellipse cx="43" cy="20" rx="1.5" ry="1.5" fill="url(#gr)"/></g></g><g transform="translate(44.5 1297.9) scale(0.950 0.945)"><path class="p12"/></g>
<g transform="translate(439.0 1002.3) scale(0.953 1.021)" filter="url(#bl)"><path class="p33"/><path class="p21"/><path class="p22"/><path class="p23"/><g clip-path="url(#ka8)"><ellipse cx="0" cy="-14" rx="11.5" ry="6" fill="url(#go)"/><ellipse cx="-7" cy="-15.5" rx="4.5" ry="3.5" fill="url(#go)"/><ellipse cx="7" cy="-15.5" rx="4.5" ry="3.5" fill="url(#go)"/><ellipse cx="0" cy="-12" rx="4" ry="4" fill="url(#gy)"/><ellipse cx="-3" cy="-6" rx="2.2" ry="3.5" fill="url(#gr)"/><ellipse cx="0" cy="-3" rx="1.6" ry="3" fill="url(#gr)"/></g></g><g transform="translate(439.0 1002.3) scale(0.953 1.021)"><path class="p34"/></g>
<g transform="translate(47.9 1348.4) scale(0.930 0.935)" filter="url(#bl)"><path class="p30"/><path class="p16"/><path class="p17"/><path class="p18"/><g clip-path="url(#kl)"><ellipse cx="33.5" cy="12.5" rx="3.8" ry="8" fill="url(#go)" transform="rotate(-32 33.5 12.5)"/><ellipse cx="27" cy="18.5" rx="2.6" ry="2" fill="url(#gr)"/></g></g><g transform="translate(47.9 1348.4) scale(0.930 0.935)"><path class="p19"/></g>
<g transform="translate(482.9 1005.0) scale(0.968 0.904)" filter="url(#bl)"><path class="p35"/><path class="p26"/><path class="p27"/><path class="p28"/><g clip-path="url(#ka9)"><ellipse cx="8" cy="-9" rx="3.8" ry="8.5" fill="url(#go)" transform="rotate(-22 8 -9)"/><ellipse cx="11" cy="12" rx="5.6" ry="9.5" fill="url(#go)" transform="rotate(12 11 12)"/><ellipse cx="1" cy="-12" rx="1.6" ry="3.5" fill="url(#gr)"/><ellipse cx="0" cy="6" rx="1.7" ry="3.5" fill="url(#gr)"/><ellipse cx="1" cy="15" rx="1.6" ry="3" fill="url(#gr)"/></g></g><g transform="translate(482.9 1005.0) scale(0.968 0.904)"><path class="p36"/></g>
<g transform="translate(47.9 1390.5) scale(0.930 0.935)" filter="url(#bl)"><path class="p15"/><path class="p16"/><path class="p17"/><path class="p18"/><g clip-path="url(#kl)"><ellipse cx="9" cy="6.5" rx="8" ry="4.6" fill="url(#go)" transform="rotate(-28 9 6.5)"/><ellipse cx="30" cy="12" rx="5" ry="11" fill="url(#go)" transform="rotate(-34 30 12)"/><ellipse cx="7" cy="22.5" rx="4.6" ry="3.2" fill="url(#gr)" transform="rotate(-20 7 22.5)"/></g></g><g transform="translate(47.9 1390.5) scale(0.930 0.935)"><path class="p19"/></g>
<g transform="translate(528.2 1004.5) scale(0.947 0.926)" filter="url(#bl)"><path class="p35"/><path class="p26"/><path class="p27"/><path class="p28"/><g clip-path="url(#ka10)"><ellipse cx="-12.5" cy="9" rx="5" ry="9.5" fill="url(#gy)" transform="rotate(12 -12.5 9)"/><ellipse cx="-10" cy="-10" rx="4.2" ry="7" fill="url(#go)" transform="rotate(25 -10 -10)"/><ellipse cx="0" cy="-13" rx="2" ry="4.5" fill="url(#gr)"/><ellipse cx="0" cy="2" rx="1.8" ry="7" fill="url(#gr)"/><ellipse cx="0" cy="15" rx="1.6" ry="3" fill="url(#gr)"/><ellipse cx="14.5" cy="8" rx="2.8" ry="4.5" fill="url(#go)"/><ellipse cx="-3" cy="-17" rx="2.5" ry="2" fill="url(#gr)"/></g></g><g transform="translate(528.2 1004.5) scale(0.947 0.926)"><path class="p36"/></g>
<g transform="translate(47.9 1433.1) scale(0.930 0.935)" filter="url(#bl)"><path class="p15"/><path class="p16"/><path class="p17"/><path class="p18"/><g clip-path="url(#kl)"><ellipse cx="8.5" cy="6" rx="9" ry="5.8" fill="url(#gy)" transform="rotate(-28 8.5 6)"/><ellipse cx="29" cy="11.5" rx="5.2" ry="10.5" fill="url(#go)" transform="rotate(-34 29 11.5)"/><ellipse cx="4.5" cy="23" rx="2.6" ry="2.6" fill="url(#gr)"/><ellipse cx="12" cy="14" rx="3" ry="2" fill="url(#gr)"/><ellipse cx="34" cy="19" rx="2.5" ry="3.5" fill="url(#gr)"/></g></g><g transform="translate(47.9 1433.1) scale(0.930 0.935)"><path class="p19"/></g>
<g transform="translate(571.6 1003.3) scale(0.979 0.979)" filter="url(#bl)"><path class="p25"/><path class="p26"/><path class="p27"/><path class="p28"/><g clip-path="url(#ka11)"><ellipse cx="-10" cy="-15.5" rx="3" ry="3.2" fill="url(#go)"/><ellipse cx="10" cy="-15.5" rx="3" ry="3.2" fill="url(#go)"/><ellipse cx="0" cy="-9.5" rx="3.2" ry="3" fill="url(#gr)"/><ellipse cx="-16" cy="6" rx="3" ry="5.5" fill="url(#go)"/><ellipse cx="16" cy="6" rx="3" ry="5.5" fill="url(#go)"/><ellipse cx="-8" cy="19" rx="2.8" ry="2.4" fill="url(#gr)"/><ellipse cx="10" cy="19" rx="2.8" ry="2.4" fill="url(#gr)"/></g></g><g transform="translate(571.6 1003.3) scale(0.979 0.979)"><path class="p29"/></g>
<g transform="translate(47.9 1476.9) scale(0.930 0.935)" filter="url(#bl)"><path class="p30"/><path class="p16"/><path class="p17"/><path class="p18"/><g clip-path="url(#kl)"><ellipse cx="11" cy="5" rx="2.4" ry="3.2" fill="url(#gr)" transform="rotate(10 11 5)"/><ellipse cx="20" cy="4.5" rx="2" ry="2.8" fill="url(#gr)" transform="rotate(15 20 4.5)"/><ellipse cx="2.5" cy="12" rx="1.5" ry="2" fill="url(#gr)"/><ellipse cx="33" cy="10.5" rx="4.6" ry="2.6" fill="url(#go)" transform="rotate(32 33 10.5)"/><ellipse cx="25" cy="18" rx="1.8" ry="1.4" fill="url(#gr)"/></g></g><g transform="translate(47.9 1476.9) scale(0.930 0.935)"><path class="p19"/></g>
<g transform="translate(617.0 1002.8) scale(0.982 1.000)" filter="url(#bl)"><path class="p25"/><path class="p26"/><path class="p27"/><path class="p28"/><g clip-path="url(#ka12)"><ellipse cx="-12" cy="-8" rx="3.8" ry="3.4" fill="url(#gr)"/><ellipse cx="12.5" cy="-6" rx="2" ry="2" fill="url(#gr)"/><ellipse cx="-11" cy="16" rx="4.6" ry="3.4" fill="url(#go)"/><ellipse cx="11.5" cy="16" rx="4.4" ry="3.4" fill="url(#go)"/><ellipse cx="-4" cy="14.5" rx="1.5" ry="1.5" fill="url(#gr)"/><ellipse cx="-9" cy="-14" rx="1" ry="1.4" fill="url(#gr)"/></g></g><g transform="translate(617.0 1002.8) scale(0.982 1.000)"><path class="p29"/></g>
<g transform="translate(47.9 1518.7) scale(0.930 0.935)" filter="url(#bl)"><path class="p30"/><path class="p16"/><path class="p17"/><path class="p18"/><g clip-path="url(#kl)"><ellipse cx="7" cy="8" rx="6" ry="4.6" fill="url(#go)" transform="rotate(-28 7 8)"/><ellipse cx="6" cy="8.5" rx="3.2" ry="2.2" fill="url(#gy)" transform="rotate(-28 6 8.5)"/><ellipse cx="25" cy="9.5" rx="2.8" ry="2.8" fill="url(#gr)"/><ellipse cx="32" cy="13.5" rx="2.3" ry="2.3" fill="url(#gr)"/><ellipse cx="36.5" cy="17.5" rx="1.6" ry="1.6" fill="url(#gr)"/><ellipse cx="24" cy="5" rx="1.4" ry="1.2" fill="url(#gr)"/></g></g><g transform="translate(47.9 1518.7) scale(0.930 0.935)"><path class="p19"/></g>
<g transform="translate(662.0 1004.5) scale(1.000 0.926)" filter="url(#bl)"><path class="p37"/><path class="p38"/><path class="p39"/><ellipse cx="0" cy="1.5" rx="2.6" ry="3" fill="#8c8c8c" opacity=".85"/><g clip-path="url(#ka13)"><ellipse cx="0" cy="11.5" rx="11.5" ry="7" fill="url(#go)"/><ellipse cx="-5.5" cy="11" rx="5.5" ry="5" fill="url(#go)" transform="rotate(-20 -5.5 11)"/><ellipse cx="5.5" cy="11" rx="5.5" ry="5" fill="url(#go)" transform="rotate(20 5.5 11)"/><ellipse cx="0" cy="12.5" rx="6" ry="3.6" fill="url(#gy)"/></g></g><g transform="translate(662.0 1004.5) scale(1.000 0.926)"><path class="p40"/></g>
<g transform="translate(44.5 1563.4) scale(0.950 0.945)" filter="url(#bl)"><path class="p6"/><path class="p7"/><path class="p8"/><ellipse cx="18.8" cy="17.3" rx="2.2" ry="1.8" fill="#d8d8d8" opacity=".9"/><ellipse cx="35.6" cy="19.4" rx="1.6" ry="2.2" fill="#c4c4c4" opacity=".7"/><path class="p9"/><path class="p10"/><path class="p11"/><g clip-path="url(#km)"><ellipse cx="18" cy="32.5" rx="10" ry="4.4" fill="url(#gr)" transform="rotate(24 18 32.5)"/><ellipse cx="17.5" cy="32.5" rx="8" ry="3.2" fill="url(#go)" transform="rotate(24 17.5 32.5)"/><ellipse cx="17" cy="32.3" rx="5" ry="2" fill="url(#gy)" transform="rotate(24 17 32.3)"/></g></g><g transform="translate(44.5 1563.4) scale(0.950 0.945)"><path class="p12"/></g>
</g>
<g id="panelC">
<rect x="102.1" y="1849.7" width="585.1" height="572.2" fill="#000"/>
<g shape-rendering="crispEdges">
<rect x="147.10" y="1849.68" width="45.31" height="44.32" fill="#ff8177"/>
<rect x="192.11" y="1849.68" width="45.31" height="44.32" fill="#d3c9e4"/>
<rect x="237.12" y="1849.68" width="45.31" height="44.32" fill="#7e7cec"/>
<rect x="282.12" y="1849.68" width="45.31" height="44.32" fill="#5656f1"/>
<rect x="327.13" y="1849.68" width="45.31" height="44.32" fill="#ff8c82"/>
<rect x="372.14" y="1849.68" width="45.31" height="44.32" fill="#ffc8b9"/>
<rect x="417.15" y="1849.68" width="45.31" height="44.32" fill="#9e98e8"/>
<rect x="462.16" y="1849.68" width="45.31" height="44.32" fill="#800008"/>
<rect x="507.17" y="1849.68" width="45.31" height="44.32" fill="#fe1a22"/>
<rect x="552.17" y="1849.68" width="45.31" height="44.32" fill="#fe4747"/>
<rect x="597.18" y="1849.68" width="45.31" height="44.32" fill="#800008"/>
<rect x="642.19" y="1849.68" width="45.31" height="44.32" fill="#fe4444"/>
<rect x="102.09" y="1893.70" width="45.31" height="44.32" fill="#ff8177"/>
<rect x="192.11" y="1893.70" width="45.31" height="44.32" fill="#ff8c82"/>
<rect x="237.12" y="1893.70" width="45.31" height="44.32" fill="#7e7cec"/>
<rect x="282.12" y="1893.70" width="45.31" height="44.32" fill="#1e35f6"/>
<rect x="327.13" y="1893.70" width="45.31" height="44.32" fill="#fe2c30"/>
<rect x="372.14" y="1893.70" width="45.31" height="44.32" fill="#ff8c82"/>
<rect x="417.15" y="1893.70" width="45.31" height="44.32" fill="#ff9f94"/>
<rect x="462.16" y="1893.70" width="45.31" height="44.32" fill="#fe3437"/>
<rect x="507.17" y="1893.70" width="45.31" height="44.32" fill="#fe2329"/>
<rect x="552.17" y="1893.70" width="45.31" height="44.32" fill="#e9dde1"/>
<rect x="597.18" y="1893.70" width="45.31" height="44.32" fill="#fe4e4e"/>
<rect x="642.19" y="1893.70" width="45.31" height="44.32" fill="#ff8c82"/>
<rect x="102.09" y="1937.71" width="45.31" height="44.32" fill="#d3c9e4"/>
<rect x="147.10" y="1937.71" width="45.31" height="44.32" fill="#ff8c82"/>
<rect x="237.12" y="1937.71" width="45.31" height="44.32" fill="#7372ee"/>
<rect x="282.12" y="1937.71" width="45.31" height="44.32" fill="#4548f4"/>
<rect x="327.13" y="1937.71" width="45.31" height="44.32" fill="#ffb4a6"/>
<rect x="372.14" y="1937.71" width="45.31" height="44.32" fill="#ffa69a"/>
<rect x="417.15" y="1937.71" width="45.31" height="44.32" fill="#ffb4a6"/>
<rect x="462.16" y="1937.71" width="45.31" height="44.32" fill="#ff877d"/>
<rect x="507.17" y="1937.71" width="45.31" height="44.32" fill="#ff9288"/>
<rect x="552.17" y="1937.71" width="45.31" height="44.32" fill="#ffab9e"/>
<rect x="597.18" y="1937.71" width="45.31" height="44.32" fill="#ff5a58"/>
<rect x="642.19" y="1937.71" width="45.31" height="44.32" fill="#ffbbac"/>
<rect x="102.09" y="1981.73" width="90.32" height="44.32" fill="#7e7cec"/>
<rect x="192.11" y="1981.73" width="45.31" height="44.32" fill="#7372ee"/>
<rect x="282.12" y="1981.73" width="45.31" height="44.32" fill="#6867ef"/>
<rect x="327.13" y="1981.73" width="45.31" height="44.32" fill="#ff5a58"/>
<rect x="372.14" y="1981.73" width="45.31" height="44.32" fill="#ffa69a"/>
<rect x="417.15" y="1981.73" width="45.31" height="44.32" fill="#ff5a58"/>
<rect x="462.16" y="1981.73" width="45.31" height="44.32" fill="#fe2329"/>
<rect x="507.17" y="1981.73" width="45.31" height="44.32" fill="#800008"/>
<rect x="552.17" y="1981.73" width="45.31" height="44.32" fill="#beb6e4"/>
<rect x="597.18" y="1981.73" width="45.31" height="44.32" fill="#b40010"/>
<rect x="642.19" y="1981.73" width="45.31" height="44.32" fill="#ded4e4"/>
<rect x="102.09" y="2025.75" width="45.31" height="44.32" fill="#5656f1"/>
<rect x="147.10" y="2025.75" width="45.31" height="44.32" fill="#1e35f6"/>
<rect x="192.11" y="2025.75" width="45.31" height="44.32" fill="#4548f4"/>
<rect x="237.12" y="2025.75" width="45.31" height="44.32" fill="#6867ef"/>
<rect x="327.13" y="2025.75" width="45.31" height="44.32" fill="#ffb4a6"/>
<rect x="372.14" y="2025.75" width="45.31" height="44.32" fill="#ff726b"/>
<rect x="417.15" y="2025.75" width="45.31" height="44.32" fill="#fe4747"/>
<rect x="462.16" y="2025.75" width="45.31" height="44.32" fill="#fe5251"/>
<rect x="507.17" y="2025.75" width="45.31" height="44.32" fill="#fe1e26"/>
<rect x="552.17" y="2025.75" width="45.31" height="44.32" fill="#ffbbac"/>
<rect x="597.18" y="2025.75" width="45.31" height="44.32" fill="#ff5f5c"/>
<rect x="642.19" y="2025.75" width="45.31" height="44.32" fill="#d3c9e4"/>
<rect x="102.09" y="2069.76" width="45.31" height="44.32" fill="#ff8c82"/>
<rect x="147.10" y="2069.76" width="45.31" height="44.32" fill="#fe2c30"/>
<rect x="192.11" y="2069.76" width="45.31" height="44.32" fill="#ffb4a6"/>
<rect x="237.12" y="2069.76" width="45.31" height="44.32" fill="#ff5a58"/>
<rect x="282.12" y="2069.76" width="45.31" height="44.32" fill="#ffb4a6"/>
<rect x="372.14" y="2069.76" width="45.31" height="44.32" fill="#8e8aea"/>
<rect x="417.15" y="2069.76" width="45.31" height="44.32" fill="#d3c9e4"/>
<rect x="462.16" y="2069.76" width="45.31" height="44.32" fill="#fe2329"/>
<rect x="507.17" y="2069.76" width="45.31" height="44.32" fill="#ff9f94"/>
<rect x="552.17" y="2069.76" width="45.31" height="44.32" fill="#fe3437"/>
<rect x="597.18" y="2069.76" width="45.31" height="44.32" fill="#ff8c82"/>
<rect x="642.19" y="2069.76" width="45.31" height="44.32" fill="#ffb4a6"/>
<rect x="102.09" y="2113.78" width="45.31" height="44.32" fill="#ffc8b9"/>
<rect x="147.10" y="2113.78" width="45.31" height="44.32" fill="#ff8c82"/>
<rect x="192.11" y="2113.78" width="90.32" height="44.32" fill="#ffa69a"/>
<rect x="282.12" y="2113.78" width="45.31" height="44.32" fill="#ff726b"/>
<rect x="327.13" y="2113.78" width="45.31" height="44.32" fill="#8e8aea"/>
<rect x="417.15" y="2113.78" width="45.31" height="44.32" fill="#fe3c3d"/>
<rect x="462.16" y="2113.78" width="45.31" height="44.32" fill="#fe3437"/>
<rect x="507.17" y="2113.78" width="45.31" height="44.32" fill="#ff9288"/>
<rect x="552.17" y="2113.78" width="45.31" height="44.32" fill="#b40010"/>
<rect x="597.18" y="2113.78" width="45.31" height="44.32" fill="#fe3c3d"/>
<rect x="642.19" y="2113.78" width="45.31" height="44.32" fill="#ffd6c6"/>
<rect x="102.09" y="2157.80" width="45.31" height="44.32" fill="#9e98e8"/>
<rect x="147.10" y="2157.80" width="45.31" height="44.32" fill="#ff9f94"/>
<rect x="192.11" y="2157.80" width="45.31" height="44.32" fill="#ffb4a6"/>
<rect x="237.12" y="2157.80" width="45.31" height="44.32" fill="#ff5a58"/>
<rect x="282.12" y="2157.80" width="45.31" height="44.32" fill="#fe4747"/>
<rect x="327.13" y="2157.80" width="45.31" height="44.32" fill="#d3c9e4"/>
<rect x="372.14" y="2157.80" width="45.31" height="44.32" fill="#fe3c3d"/>
<rect x="462.16" y="2157.80" width="90.32" height="44.32" fill="#fe3437"/>
<rect x="552.17" y="2157.80" width="45.31" height="44.32" fill="#eee2e0"/>
<rect x="597.18" y="2157.80" width="45.31" height="44.32" fill="#ffe2d2"/>
<rect x="642.19" y="2157.80" width="45.31" height="44.32" fill="#d3c9e4"/>
<rect x="102.09" y="2201.82" width="45.31" height="44.32" fill="#800008"/>
<rect x="147.10" y="2201.82" width="45.31" height="44.32" fill="#fe3437"/>
<rect x="192.11" y="2201.82" width="45.31" height="44.32" fill="#ff877d"/>
<rect x="237.12" y="2201.82" width="45.31" height="44.32" fill="#fe2329"/>
<rect x="282.12" y="2201.82" width="45.31" height="44.32" fill="#fe5251"/>
<rect x="327.13" y="2201.82" width="45.31" height="44.32" fill="#fe2329"/>
<rect x="372.14" y="2201.82" width="90.32" height="44.32" fill="#fe3437"/>
<rect x="507.17" y="2201.82" width="45.31" height="44.32" fill="#ff8177"/>
<rect x="552.17" y="2201.82" width="45.31" height="44.32" fill="#fe1e26"/>
<rect x="597.18" y="2201.82" width="45.31" height="44.32" fill="#ffa69a"/>
<rect x="642.19" y="2201.82" width="45.31" height="44.32" fill="#8985eb"/>
<rect x="102.09" y="2245.83" width="45.31" height="44.32" fill="#fe1a22"/>
<rect x="147.10" y="2245.83" width="45.31" height="44.32" fill="#fe2329"/>
<rect x="192.11" y="2245.83" width="45.31" height="44.32" fill="#ff9288"/>
<rect x="237.12" y="2245.83" width="45.31" height="44.32" fill="#800008"/>
<rect x="282.12" y="2245.83" width="45.31" height="44.32" fill="#fe1e26"/>
<rect x="327.13" y="2245.83" width="45.31" height="44.32" fill="#ff9f94"/>
<rect x="372.14" y="2245.83" width="45.31" height="44.32" fill="#ff9288"/>
<rect x="417.15" y="2245.83" width="45.31" height="44.32" fill="#fe3437"/>
<rect x="462.16" y="2245.83" width="45.31" height="44.32" fill="#ff8177"/>
<rect x="552.17" y="2245.83" width="45.31" height="44.32" fill="#fe4e4e"/>
<rect x="597.18" y="2245.83" width="45.31" height="44.32" fill="#ff8177"/>
<rect x="642.19" y="2245.83" width="45.31" height="44.32" fill="#9e98e8"/>
<rect x="102.09" y="2289.85" width="45.31" height="44.32" fill="#fe4747"/>
<rect x="147.10" y="2289.85" width="45.31" height="44.32" fill="#e9dde1"/>
<rect x="192.11" y="2289.85" width="45.31" height="44.32" fill="#ffab9e"/>
<rect x="237.12" y="2289.85" width="45.31" height="44.32" fill="#beb6e4"/>
<rect x="282.12" y="2289.85" width="45.31" height="44.32" fill="#ffbbac"/>
<rect x="327.13" y="2289.85" width="45.31" height="44.32" fill="#fe3437"/>
<rect x="372.14" y="2289.85" width="45.31" height="44.32" fill="#b40010"/>
<rect x="417.15" y="2289.85" width="45.31" height="44.32" fill="#eee2e0"/>
<rect x="462.16" y="2289.85" width="45.31" height="44.32" fill="#fe1e26"/>
<rect x="507.17" y="2289.85" width="45.31" height="44.32" fill="#fe4e4e"/>
<rect x="597.18" y="2289.85" width="45.31" height="44.32" fill="#fe4a4a"/>
<rect x="642.19" y="2289.85" width="45.31" height="44.32" fill="#6867ef"/>
<rect x="102.09" y="2333.87" width="45.31" height="44.32" fill="#800008"/>
<rect x="147.10" y="2333.87" width="45.31" height="44.32" fill="#fe4e4e"/>
<rect x="192.11" y="2333.87" width="45.31" height="44.32" fill="#ff5a58"/>
<rect x="237.12" y="2333.87" width="45.31" height="44.32" fill="#b40010"/>
<rect x="282.12" y="2333.87" width="45.31" height="44.32" fill="#ff5f5c"/>
<rect x="327.13" y="2333.87" width="45.31" height="44.32" fill="#ff8c82"/>
<rect x="372.14" y="2333.87" width="45.31" height="44.32" fill="#fe3c3d"/>
<rect x="417.15" y="2333.87" width="45.31" height="44.32" fill="#ffe2d2"/>
<rect x="462.16" y="2333.87" width="45.31" height="44.32" fill="#ffa69a"/>
<rect x="507.17" y="2333.87" width="45.31" height="44.32" fill="#ff8177"/>
<rect x="552.17" y="2333.87" width="45.31" height="44.32" fill="#fe4a4a"/>
<rect x="642.19" y="2333.87" width="45.31" height="44.32" fill="#e9dde1"/>
<rect x="102.09" y="2377.88" width="45.31" height="44.32" fill="#fe4444"/>
<rect x="147.10" y="2377.88" width="45.31" height="44.32" fill="#ff8c82"/>
<rect x="192.11" y="2377.88" width="45.31" height="44.32" fill="#ffbbac"/>
<rect x="237.12" y="2377.88" width="45.31" height="44.32" fill="#ded4e4"/>
<rect x="282.12" y="2377.88" width="45.31" height="44.32" fill="#d3c9e4"/>
<rect x="327.13" y="2377.88" width="45.31" height="44.32" fill="#ffb4a6"/>
<rect x="372.14" y="2377.88" width="45.31" height="44.32" fill="#ffd6c6"/>
<rect x="417.15" y="2377.88" width="45.31" height="44.32" fill="#d3c9e4"/>
<rect x="462.16" y="2377.88" width="45.31" height="44.32" fill="#8985eb"/>
<rect x="507.17" y="2377.88" width="45.31" height="44.32" fill="#9e98e8"/>
<rect x="552.17" y="2377.88" width="45.31" height="44.32" fill="#6867ef"/>
<rect x="597.18" y="2377.88" width="45.31" height="44.32" fill="#e9dde1"/>
</g>
<rect x="102.3" y="1849.9" width="585.4" height="572.5" fill="none" stroke="#3a3a3a" stroke-width="1"/>
<path d="M169.6,1849.7v6M169.6,2421.9v-6M102.1,1915.7h6M687.2,1915.7h-6M259.6,1849.7v6M259.6,2421.9v-6M102.1,2003.7h6M687.2,2003.7h-6M349.6,1849.7v6M349.6,2421.9v-6M102.1,2091.8h6M687.2,2091.8h-6M439.7,1849.7v6M439.7,2421.9v-6M102.1,2179.8h6M687.2,2179.8h-6M529.7,1849.7v6M529.7,2421.9v-6M102.1,2267.8h6M687.2,2267.8h-6M619.7,1849.7v6M619.7,2421.9v-6M102.1,2355.9h6M687.2,2355.9h-6" stroke="#222" stroke-width=".9" fill="none"/>
<g font-family="'Liberation Serif',serif" font-size="8" fill="#555" text-anchor="middle">
<text x="169.6" y="2431.2">2</text>
<text x="259.6" y="2431.2">4</text>
<text x="349.6" y="2431.2">6</text>
<text x="439.7" y="2431.2">8</text>
<text x="529.7" y="2431.2">10</text>
<text x="619.7" y="2431.2">12</text>
</g>
<g font-family="'DejaVu Sans',sans-serif" font-size="22.5" fill="#0a0a0a" stroke="#0a0a0a" stroke-width=".35" text-anchor="middle">
<text x="304.0" y="1882.8">*</text>
<text x="124.0" y="2058.9">*</text>
<text x="485.4" y="1882.8" letter-spacing="2.6">**</text>
<text x="125.3" y="2234.9" letter-spacing="2.6">**</text>
<text x="530.4" y="1882.8" letter-spacing="2.6">**</text>
<text x="125.3" y="2278.9" letter-spacing="2.6">**</text>
<text x="575.4" y="1882.8" letter-spacing="2.6">**</text>
<text x="125.3" y="2323.0" letter-spacing="2.6">**</text>
<text x="620.4" y="1882.8" letter-spacing="2.6">**</text>
<text x="125.3" y="2367.0" letter-spacing="2.6">**</text>
<text x="665.4" y="1882.8" letter-spacing="2.6">**</text>
<text x="125.3" y="2411.0" letter-spacing="2.6">**</text>
<text x="305.3" y="1926.8" letter-spacing="2.6">**</text>
<text x="170.3" y="2058.9" letter-spacing="2.6">**</text>
<text x="350.3" y="1926.8" letter-spacing="2.6">**</text>
<text x="170.3" y="2102.9" letter-spacing="2.6">**</text>
<text x="485.4" y="1926.8" letter-spacing="2.6">**</text>
<text x="170.3" y="2234.9" letter-spacing="2.6">**</text>
<text x="530.4" y="1926.8" letter-spacing="2.6">**</text>
<text x="170.3" y="2278.9" letter-spacing="2.6">**</text>
<text x="620.4" y="1926.8" letter-spacing="2.6">**</text>
<text x="170.3" y="2367.0" letter-spacing="2.6">**</text>
<text x="305.3" y="1970.8" letter-spacing="2.6">**</text>
<text x="215.3" y="2058.9" letter-spacing="2.6">**</text>
<text x="619.1" y="1970.8">*</text>
<text x="214.0" y="2367.0">*</text>
<text x="349.0" y="2014.8">*</text>
<text x="259.0" y="2102.9">*</text>
<text x="439.1" y="2014.8">*</text>
<text x="259.0" y="2190.9">*</text>
<text x="485.4" y="2014.8" letter-spacing="2.6">**</text>
<text x="260.3" y="2234.9" letter-spacing="2.6">**</text>
<text x="530.4" y="2014.8" letter-spacing="2.6">**</text>
<text x="260.3" y="2278.9" letter-spacing="2.6">**</text>
<text x="620.4" y="2014.8" letter-spacing="2.6">**</text>
<text x="260.3" y="2367.0" letter-spacing="2.6">**</text>
<text x="440.4" y="2058.9" letter-spacing="2.6">**</text>
<text x="305.3" y="2190.9" letter-spacing="2.6">**</text>
<text x="484.1" y="2058.9">*</text>
<text x="304.0" y="2234.9">*</text>
<text x="530.4" y="2058.9" letter-spacing="2.6">**</text>
<text x="305.3" y="2278.9" letter-spacing="2.6">**</text>
<text x="619.1" y="2058.9">*</text>
<text x="304.0" y="2367.0">*</text>
<text x="485.4" y="2102.9" letter-spacing="2.6">**</text>
<text x="350.3" y="2234.9" letter-spacing="2.6">**</text>
<text x="575.4" y="2102.9" letter-spacing="2.6">**</text>
<text x="350.3" y="2323.0" letter-spacing="2.6">**</text>
<text x="440.4" y="2146.9" letter-spacing="2.6">**</text>
<text x="395.3" y="2190.9" letter-spacing="2.6">**</text>
<text x="485.4" y="2146.9" letter-spacing="2.6">**</text>
<text x="395.3" y="2234.9" letter-spacing="2.6">**</text>
<text x="575.4" y="2146.9" letter-spacing="2.6">**</text>
<text x="395.3" y="2323.0" letter-spacing="2.6">**</text>
<text x="620.4" y="2146.9" letter-spacing="2.6">**</text>
<text x="395.3" y="2367.0" letter-spacing="2.6">**</text>
<text x="485.4" y="2190.9" letter-spacing="2.6">**</text>
<text x="440.4" y="2234.9" letter-spacing="2.6">**</text>
<text x="530.4" y="2190.9" letter-spacing="2.6">**</text>
<text x="440.4" y="2278.9" letter-spacing="2.6">**</text>
<text x="575.4" y="2234.9" letter-spacing="2.6">**</text>
<text x="485.4" y="2323.0" letter-spacing="2.6">**</text>
<text x="574.1" y="2278.9">*</text>
<text x="529.1" y="2323.0">*</text>
<text x="620.4" y="2323.0" letter-spacing="2.6">**</text>
<text x="575.4" y="2367.0" letter-spacing="2.6">**</text>
</g>
<rect x="697.2" y="1850.5" width="15.4" height="572.5" fill="url(#cbar5)" stroke="#555" stroke-width=".6"/>
<g font-family="'Liberation Serif',serif" font-size="8.5" fill="#444">
<text x="713.4" y="1853.3">5</text>
<text x="713.4" y="1910.5">4</text>
<text x="713.4" y="1967.8">3</text>
<text x="713.4" y="2025.0">2</text>
<text x="713.4" y="2082.3">1</text>
<text x="713.4" y="2139.6">0</text>
<text x="713.4" y="2196.8">-1</text>
<text x="713.4" y="2254.1">-2</text>
<text x="713.4" y="2311.3">-3</text>
<text x="713.4" y="2368.6">-4</text>
<text x="713.4" y="2425.8">-5</text>
</g>
<path d="M697.2,1907.8h5M712.6,1907.8h-6M697.2,1965.0h5M712.6,1965.0h-6M697.2,2022.2h5M712.6,2022.2h-6M697.2,2079.5h5M712.6,2079.5h-6M697.2,2136.8h5M712.6,2136.8h-6M697.2,2194.0h5M712.6,2194.0h-6M697.2,2251.2h5M712.6,2251.2h-6M697.2,2308.5h5M712.6,2308.5h-6M697.2,2365.8h5M712.6,2365.8h-6" stroke="#333" stroke-width="1" stroke-dasharray="2.5 1.5" fill="none"/>
<g font-family="'Liberation Sans',sans-serif" font-size="15.5" fill="#111" text-anchor="middle">
<text x="119.7" y="1786.3">1</text>
<text x="29.4" y="1874.1">1</text>
<text x="166.8" y="1784.4">2</text>
<text x="29.4" y="1917.4">2</text>
<text x="214.3" y="1786.3">3</text>
<text x="29.4" y="1962.0">3</text>
<text x="259.1" y="1786.3">4</text>
<text x="29.4" y="2008.4">4</text>
<text x="302.7" y="1786.3">5</text>
<text x="29.4" y="2054.8">5</text>
<text x="351.3" y="1786.3">6</text>
<text x="29.4" y="2094.5">6</text>
<text x="394.5" y="1786.3">7</text>
<text x="29.4" y="2138.9">7</text>
<text x="440.1" y="1785.8">8</text>
<text x="29.4" y="2186.9">8</text>
<text x="484.3" y="1786.0">9</text>
<text x="29.4" y="2230.8">9</text>
<text x="530.0" y="1786.3">10</text>
<text x="29.1" y="2270.5">10</text>
<text x="573.8" y="1786.3">11</text>
<text x="29.1" y="2315.8">11</text>
<text x="619.6" y="1787.9">12</text>
<text x="29.1" y="2358.7">12</text>
<text x="665.0" y="1787.9">13</text>
<text x="29.1" y="2407.1">13</text>
</g>
<g transform="translate(119.7 1818.8) scale(1.016 1.000)" filter="url(#bl)"><path class="p0"/><path class="p1"/><path class="p2"/><path class="p3"/><path class="p4"/><g clip-path="url(#ka1)"><ellipse cx="-3" cy="13.5" rx="4.6" ry="6.8" fill="url(#gy)" transform="rotate(-28 -3 13.5)"/><ellipse cx="3" cy="13.5" rx="4.6" ry="6.8" fill="url(#gy)" transform="rotate(28 3 13.5)"/><ellipse cx="0" cy="15.5" rx="4.5" ry="4.5" fill="url(#gy)"/></g></g><g transform="translate(119.7 1818.8) scale(1.016 1.000)"><path class="p5"/></g>
<g transform="translate(42.8 1851.4) scale(0.950 0.945)" filter="url(#bl)"><path class="p6"/><path class="p7"/><path class="p8"/><ellipse cx="18.8" cy="17.3" rx="2.2" ry="1.8" fill="#d8d8d8" opacity=".9"/><ellipse cx="35.6" cy="19.4" rx="1.6" ry="2.2" fill="#c4c4c4" opacity=".7"/><path class="p9"/><path class="p10"/><path class="p11"/><g clip-path="url(#km)"><ellipse cx="8.3" cy="17.5" rx="6.2" ry="9.2" fill="url(#gr)" transform="rotate(12 8.3 17.5)"/><ellipse cx="7.5" cy="18.5" rx="4.6" ry="6.5" fill="url(#gy)" transform="rotate(12 7.5 18.5)"/></g></g><g transform="translate(42.8 1851.4) scale(0.950 0.945)"><path class="p12"/></g>
<g transform="translate(166.8 1817.3) scale(1.039 1.064)" filter="url(#bl)"><path class="p13"/><path class="p1"/><path class="p2"/><path class="p3"/><path class="p4"/><g clip-path="url(#ka2)"><ellipse cx="0" cy="10.5" rx="7" ry="3" fill="url(#gr)"/><ellipse cx="-10" cy="14" rx="6.8" ry="5.8" fill="url(#go)" transform="rotate(20 -10 14)"/><ellipse cx="10" cy="14" rx="6.8" ry="5.8" fill="url(#go)" transform="rotate(-20 10 14)"/></g></g><g transform="translate(166.8 1817.3) scale(1.039 1.064)"><path class="p14"/></g>
<g transform="translate(46.2 1898.2) scale(0.930 0.935)" filter="url(#bl)"><path class="p15"/><path class="p16"/><path class="p17"/><path class="p18"/><g clip-path="url(#kl)"><ellipse cx="8" cy="20.5" rx="7.2" ry="7.8" fill="url(#gr)"/><ellipse cx="5.5" cy="21" rx="4.8" ry="5.5" fill="url(#go)"/><ellipse cx="14.5" cy="5.5" rx="1.1" ry="1.1" fill="url(#gr)"/></g></g><g transform="translate(46.2 1898.2) scale(0.930 0.935)"><path class="p19"/></g>
<g transform="translate(214.3 1817.6) scale(0.987 1.053)" filter="url(#bl)"><path class="p13"/><path class="p1"/><path class="p2"/><path class="p3"/><path class="p4"/><g clip-path="url(#ka3)"><ellipse cx="0" cy="19.3" rx="11" ry="4" fill="url(#gr)"/><ellipse cx="-4.5" cy="19.8" rx="5.5" ry="3" fill="url(#gy)"/><ellipse cx="4.5" cy="19.8" rx="5.5" ry="3" fill="url(#gy)"/></g></g><g transform="translate(214.3 1817.6) scale(0.987 1.053)"><path class="p14"/></g>
<g transform="translate(42.8 1939.8) scale(0.950 0.945)" filter="url(#bl)"><path class="p6"/><path class="p7"/><path class="p8"/><ellipse cx="18.8" cy="17.3" rx="2.2" ry="1.8" fill="#d8d8d8" opacity=".9"/><ellipse cx="35.6" cy="19.4" rx="1.6" ry="2.2" fill="#c4c4c4" opacity=".7"/><path class="p9"/><path class="p10"/><path class="p11"/><g clip-path="url(#km)"><ellipse cx="4" cy="23" rx="4.2" ry="4.2" fill="url(#go)"/><ellipse cx="3.5" cy="23.3" rx="2.4" ry="2.4" fill="url(#gy)"/><ellipse cx="24.5" cy="20" rx="2.2" ry="1.3" fill="url(#gr)"/></g></g><g transform="translate(42.8 1939.8) scale(0.950 0.945)"><path class="p12"/></g>
<g transform="translate(259.1 1819.8) scale(0.947 0.957)" filter="url(#bl)"><path class="p20"/><path class="p21"/><path class="p22"/><path class="p23"/><g clip-path="url(#ka4)"><ellipse cx="-13" cy="0.5" rx="5.6" ry="7.8" fill="url(#gr)"/><ellipse cx="13" cy="0.5" rx="5.6" ry="7.8" fill="url(#gr)"/><ellipse cx="-13.5" cy="1" rx="3" ry="4" fill="url(#go)"/><ellipse cx="13.5" cy="0" rx="3" ry="4" fill="url(#go)"/></g></g><g transform="translate(259.1 1819.8) scale(0.947 0.957)"><path class="p24"/></g>
<g transform="translate(46.2 1987.9) scale(0.930 0.935)" filter="url(#bl)"><path class="p15"/><path class="p16"/><path class="p17"/><path class="p18"/><g clip-path="url(#kl)"><ellipse cx="21" cy="18" rx="13.5" ry="4.8" fill="url(#gr)" transform="rotate(16 21 18)"/><ellipse cx="14" cy="14.5" rx="4.5" ry="3.2" fill="url(#gr)"/><ellipse cx="27" cy="20" rx="5" ry="3.5" fill="url(#gr)"/></g></g><g transform="translate(46.2 1987.9) scale(0.930 0.935)"><path class="p19"/></g>
<g transform="translate(302.7 1821.1) scale(0.921 0.904)" filter="url(#bl)"><path class="p25"/><path class="p26"/><path class="p27"/><path class="p28"/><g clip-path="url(#ka5)"><ellipse cx="-12" cy="2" rx="4.8" ry="4.4" fill="url(#go)" transform="rotate(20 -12 2)"/><ellipse cx="0" cy="-3" rx="4" ry="8" fill="url(#gr)"/><ellipse cx="0" cy="-3" rx="2.2" ry="4.5" fill="url(#go)"/><ellipse cx="12.5" cy="2" rx="4.8" ry="4.4" fill="url(#go)" transform="rotate(-20 12.5 2)"/><ellipse cx="4" cy="-15" rx="1" ry="1" fill="url(#gr)"/></g></g><g transform="translate(302.7 1821.1) scale(0.921 0.904)"><path class="p29"/></g>
<g transform="translate(46.2 2033.7) scale(0.930 0.935)" filter="url(#bl)"><path class="p30"/><path class="p16"/><path class="p17"/><path class="p18"/><g clip-path="url(#kl)"><ellipse cx="15" cy="6" rx="5.8" ry="4.4" fill="url(#go)" transform="rotate(12 15 6)"/><ellipse cx="17" cy="13.5" rx="1.8" ry="1.2" fill="url(#gr)"/></g></g><g transform="translate(46.2 2033.7) scale(0.930 0.935)"><path class="p19"/></g>
<g transform="translate(351.3 1819.8) scale(0.947 0.957)" filter="url(#bl)"><path class="p31"/><path class="p21"/><path class="p22"/><path class="p23"/><g clip-path="url(#ka6)"><ellipse cx="0" cy="12.5" rx="5.8" ry="7" fill="url(#gy)"/><ellipse cx="-13.5" cy="12" rx="3.4" ry="3.2" fill="url(#go)"/><ellipse cx="13.5" cy="12" rx="3.4" ry="3.2" fill="url(#go)"/><ellipse cx="0" cy="-16.5" rx="1.5" ry="2" fill="url(#gr)"/></g></g><g transform="translate(351.3 1819.8) scale(0.947 0.957)"><path class="p32"/></g>
<g transform="translate(42.8 2074.1) scale(0.950 0.945)" filter="url(#bl)"><path class="p6"/><path class="p7"/><path class="p8"/><ellipse cx="18.8" cy="17.3" rx="2.2" ry="1.8" fill="#d8d8d8" opacity=".9"/><ellipse cx="35.6" cy="19.4" rx="1.6" ry="2.2" fill="#c4c4c4" opacity=".7"/><path class="p9"/><path class="p10"/><path class="p11"/><g clip-path="url(#km)"><ellipse cx="14.5" cy="13.5" rx="8" ry="6.8" fill="url(#gr)"/><ellipse cx="13" cy="13" rx="5.5" ry="4.8" fill="url(#gy)"/><ellipse cx="41" cy="20" rx="4.5" ry="4.8" fill="url(#go)"/></g></g><g transform="translate(42.8 2074.1) scale(0.950 0.945)"><path class="p12"/></g>
<g transform="translate(394.5 1819.8) scale(0.966 0.957)" filter="url(#bl)"><path class="p31"/><path class="p26"/><path class="p27"/><path class="p28"/><g clip-path="url(#ka7)"><ellipse cx="0" cy="-17.5" rx="8.5" ry="3.4" fill="url(#go)"/><ellipse cx="-13.5" cy="13" rx="2.8" ry="2.6" fill="url(#gr)"/><ellipse cx="0" cy="13" rx="2.5" ry="3" fill="url(#gr)"/><ellipse cx="13.5" cy="13" rx="3.2" ry="3" fill="url(#gr)"/><ellipse cx="13.5" cy="-8" rx="1.4" ry="2" fill="url(#gr)"/></g></g><g transform="translate(394.5 1819.8) scale(0.966 0.957)"><path class="p32"/></g>
<g transform="translate(42.8 2116.5) scale(0.950 0.945)" filter="url(#bl)"><path class="p6"/><path class="p7"/><path class="p8"/><ellipse cx="18.8" cy="17.3" rx="2.2" ry="1.8" fill="#d8d8d8" opacity=".9"/><ellipse cx="35.6" cy="19.4" rx="1.6" ry="2.2" fill="#c4c4c4" opacity=".7"/><path class="p9"/><path class="p10"/><path class="p11"/><g clip-path="url(#km)"><ellipse cx="27" cy="5.5" rx="14" ry="2.8" fill="url(#gr)" transform="rotate(12 27 5.5)"/><ellipse cx="42" cy="13.5" rx="3.6" ry="7" fill="url(#go)" transform="rotate(-28 42 13.5)"/><ellipse cx="13" cy="13.5" rx="3" ry="3" fill="url(#gr)"/><ellipse cx="43" cy="20" rx="1.5" ry="1.5" fill="url(#gr)"/></g></g><g transform="translate(42.8 2116.5) scale(0.950 0.945)"><path class="p12"/></g>
<g transform="translate(440.1 1818.3) scale(0.953 1.021)" filter="url(#bl)"><path class="p33"/><path class="p21"/><path class="p22"/><path class="p23"/><g clip-path="url(#ka8)"><ellipse cx="0" cy="-14" rx="11.5" ry="6" fill="url(#go)"/><ellipse cx="-7" cy="-15.5" rx="4.5" ry="3.5" fill="url(#go)"/><ellipse cx="7" cy="-15.5" rx="4.5" ry="3.5" fill="url(#go)"/><ellipse cx="0" cy="-12" rx="4" ry="4" fill="url(#gy)"/><ellipse cx="-3" cy="-6" rx="2.2" ry="3.5" fill="url(#gr)"/><ellipse cx="0" cy="-3" rx="1.6" ry="3" fill="url(#gr)"/></g></g><g transform="translate(440.1 1818.3) scale(0.953 1.021)"><path class="p34"/></g>
<g transform="translate(46.2 2167.3) scale(0.930 0.935)" filter="url(#bl)"><path class="p30"/><path class="p16"/><path class="p17"/><path class="p18"/><g clip-path="url(#kl)"><ellipse cx="33.5" cy="12.5" rx="3.8" ry="8" fill="url(#go)" transform="rotate(-32 33.5 12.5)"/><ellipse cx="27" cy="18.5" rx="2.6" ry="2" fill="url(#gr)"/></g></g><g transform="translate(46.2 2167.3) scale(0.930 0.935)"><path class="p19"/></g>
<g transform="translate(484.3 1821.1) scale(0.968 0.904)" filter="url(#bl)"><path class="p35"/><path class="p26"/><path class="p27"/><path class="p28"/><g clip-path="url(#ka9)"><ellipse cx="8" cy="-9" rx="3.8" ry="8.5" fill="url(#go)" transform="rotate(-22 8 -9)"/><ellipse cx="11" cy="12" rx="5.6" ry="9.5" fill="url(#go)" transform="rotate(12 11 12)"/><ellipse cx="1" cy="-12" rx="1.6" ry="3.5" fill="url(#gr)"/><ellipse cx="0" cy="6" rx="1.7" ry="3.5" fill="url(#gr)"/><ellipse cx="1" cy="15" rx="1.6" ry="3" fill="url(#gr)"/></g></g><g transform="translate(484.3 1821.1) scale(0.968 0.904)"><path class="p36"/></g>
<g transform="translate(46.2 2209.7) scale(0.930 0.935)" filter="url(#bl)"><path class="p15"/><path class="p16"/><path class="p17"/><path class="p18"/><g clip-path="url(#kl)"><ellipse cx="9" cy="6.5" rx="8" ry="4.6" fill="url(#go)" transform="rotate(-28 9 6.5)"/><ellipse cx="30" cy="12" rx="5" ry="11" fill="url(#go)" transform="rotate(-34 30 12)"/><ellipse cx="7" cy="22.5" rx="4.6" ry="3.2" fill="url(#gr)" transform="rotate(-20 7 22.5)"/></g></g><g transform="translate(46.2 2209.7) scale(0.930 0.935)"><path class="p19"/></g>
<g transform="translate(530.0 1820.6) scale(0.947 0.926)" filter="url(#bl)"><path class="p35"/><path class="p26"/><path class="p27"/><path class="p28"/><g clip-path="url(#ka10)"><ellipse cx="-12.5" cy="9" rx="5" ry="9.5" fill="url(#gy)" transform="rotate(12 -12.5 9)"/><ellipse cx="-10" cy="-10" rx="4.2" ry="7" fill="url(#go)" transform="rotate(25 -10 -10)"/><ellipse cx="0" cy="-13" rx="2" ry="4.5" fill="url(#gr)"/><ellipse cx="0" cy="2" rx="1.8" ry="7" fill="url(#gr)"/><ellipse cx="0" cy="15" rx="1.6" ry="3" fill="url(#gr)"/><ellipse cx="14.5" cy="8" rx="2.8" ry="4.5" fill="url(#go)"/><ellipse cx="-3" cy="-17" rx="2.5" ry="2" fill="url(#gr)"/></g></g><g transform="translate(530.0 1820.6) scale(0.947 0.926)"><path class="p36"/></g>
<g transform="translate(46.2 2252.7) scale(0.930 0.935)" filter="url(#bl)"><path class="p15"/><path class="p16"/><path class="p17"/><path class="p18"/><g clip-path="url(#kl)"><ellipse cx="8.5" cy="6" rx="9" ry="5.8" fill="url(#gy)" transform="rotate(-28 8.5 6)"/><ellipse cx="29" cy="11.5" rx="5.2" ry="10.5" fill="url(#go)" transform="rotate(-34 29 11.5)"/><ellipse cx="4.5" cy="23" rx="2.6" ry="2.6" fill="url(#gr)"/><ellipse cx="12" cy="14" rx="3" ry="2" fill="url(#gr)"/><ellipse cx="34" cy="19" rx="2.5" ry="3.5" fill="url(#gr)"/></g></g><g transform="translate(46.2 2252.7) scale(0.930 0.935)"><path class="p19"/></g>
<g transform="translate(573.8 1819.3) scale(0.979 0.979)" filter="url(#bl)"><path class="p25"/><path class="p26"/><path class="p27"/><path class="p28"/><g clip-path="url(#ka11)"><ellipse cx="-10" cy="-15.5" rx="3" ry="3.2" fill="url(#go)"/><ellipse cx="10" cy="-15.5" rx="3" ry="3.2" fill="url(#go)"/><ellipse cx="0" cy="-9.5" rx="3.2" ry="3" fill="url(#gr)"/><ellipse cx="-16" cy="6" rx="3" ry="5.5" fill="url(#go)"/><ellipse cx="16" cy="6" rx="3" ry="5.5" fill="url(#go)"/><ellipse cx="-8" cy="19" rx="2.8" ry="2.4" fill="url(#gr)"/><ellipse cx="10" cy="19" rx="2.8" ry="2.4" fill="url(#gr)"/></g></g><g transform="translate(573.8 1819.3) scale(0.979 0.979)"><path class="p29"/></g>
<g transform="translate(46.2 2296.9) scale(0.930 0.935)" filter="url(#bl)"><path class="p30"/><path class="p16"/><path class="p17"/><path class="p18"/><g clip-path="url(#kl)"><ellipse cx="11" cy="5" rx="2.4" ry="3.2" fill="url(#gr)" transform="rotate(10 11 5)"/><ellipse cx="20" cy="4.5" rx="2" ry="2.8" fill="url(#gr)" transform="rotate(15 20 4.5)"/><ellipse cx="2.5" cy="12" rx="1.5" ry="2" fill="url(#gr)"/><ellipse cx="33" cy="10.5" rx="4.6" ry="2.6" fill="url(#go)" transform="rotate(32 33 10.5)"/><ellipse cx="25" cy="18" rx="1.8" ry="1.4" fill="url(#gr)"/></g></g><g transform="translate(46.2 2296.9) scale(0.930 0.935)"><path class="p19"/></g>
<g transform="translate(619.6 1818.8) scale(0.982 1.000)" filter="url(#bl)"><path class="p25"/><path class="p26"/><path class="p27"/><path class="p28"/><g clip-path="url(#ka12)"><ellipse cx="-12" cy="-8" rx="3.8" ry="3.4" fill="url(#gr)"/><ellipse cx="12.5" cy="-6" rx="2" ry="2" fill="url(#gr)"/><ellipse cx="-11" cy="16" rx="4.6" ry="3.4" fill="url(#go)"/><ellipse cx="11.5" cy="16" rx="4.4" ry="3.4" fill="url(#go)"/><ellipse cx="-4" cy="14.5" rx="1.5" ry="1.5" fill="url(#gr)"/><ellipse cx="-9" cy="-14" rx="1" ry="1.4" fill="url(#gr)"/></g></g><g transform="translate(619.6 1818.8) scale(0.982 1.000)"><path class="p29"/></g>
<g transform="translate(46.2 2339.0) scale(0.930 0.935)" filter="url(#bl)"><path class="p30"/><path class="p16"/><path class="p17"/><path class="p18"/><g clip-path="url(#kl)"><ellipse cx="7" cy="8" rx="6" ry="4.6" fill="url(#go)" transform="rotate(-28 7 8)"/><ellipse cx="6" cy="8.5" rx="3.2" ry="2.2" fill="url(#gy)" transform="rotate(-28 6 8.5)"/><ellipse cx="25" cy="9.5" rx="2.8" ry="2.8" fill="url(#gr)"/><ellipse cx="32" cy="13.5" rx="2.3" ry="2.3" fill="url(#gr)"/><ellipse cx="36.5" cy="17.5" rx="1.6" ry="1.6" fill="url(#gr)"/><ellipse cx="24" cy="5" rx="1.4" ry="1.2" fill="url(#gr)"/></g></g><g transform="translate(46.2 2339.0) scale(0.930 0.935)"><path class="p19"/></g>
<g transform="translate(665.0 1820.6) scale(1.000 0.926)" filter="url(#bl)"><path class="p37"/><path class="p38"/><path class="p39"/><ellipse cx="0" cy="1.5" rx="2.6" ry="3" fill="#8c8c8c" opacity=".85"/><g clip-path="url(#ka13)"><ellipse cx="0" cy="11.5" rx="11.5" ry="7" fill="url(#go)"/><ellipse cx="-5.5" cy="11" rx="5.5" ry="5" fill="url(#go)" transform="rotate(-20 -5.5 11)"/><ellipse cx="5.5" cy="11" rx="5.5" ry="5" fill="url(#go)" transform="rotate(20 5.5 11)"/><ellipse cx="0" cy="12.5" rx="6" ry="3.6" fill="url(#gy)"/></g></g><g transform="translate(665.0 1820.6) scale(1.000 0.926)"><path class="p40"/></g>
<g transform="translate(42.8 2384.2) scale(0.950 0.945)" filter="url(#bl)"><path class="p6"/><path class="p7"/><path class="p8"/><ellipse cx="18.8" cy="17.3" rx="2.2" ry="1.8" fill="#d8d8d8" opacity=".9"/><ellipse cx="35.6" cy="19.4" rx="1.6" ry="2.2" fill="#c4c4c4" opacity=".7"/><path class="p9"/><path class="p10"/><path class="p11"/><g clip-path="url(#km)"><ellipse cx="18" cy="32.5" rx="10" ry="4.4" fill="url(#gr)" transform="rotate(24 18 32.5)"/><ellipse cx="17.5" cy="32.5" rx="8" ry="3.2" fill="url(#go)" transform="rotate(24 17.5 32.5)"/><ellipse cx="17" cy="32.3" rx="5" ry="2" fill="url(#gy)" transform="rotate(24 17 32.3)"/></g></g><g transform="translate(42.8 2384.2) scale(0.950 0.945)"><path class="p12"/></g>
</g>
<g id="panelD">
<rect x="870.5" y="223.4" width="579.8" height="570.7" fill="#000"/>
<g shape-rendering="crispEdges">
<rect x="915.10" y="223.40" width="44.90" height="44.20" fill="#fe272d"/>
<rect x="959.70" y="223.40" width="44.90" height="44.20" fill="#ec0818"/>
<rect x="1004.30" y="223.40" width="44.90" height="44.20" fill="#ffb4a6"/>
<rect x="1048.90" y="223.40" width="44.90" height="44.20" fill="#fe4e4e"/>
<rect x="1093.50" y="223.40" width="44.90" height="44.20" fill="#ffb4a6"/>
<rect x="1138.10" y="223.40" width="44.90" height="44.20" fill="#9e98e8"/>
<rect x="1182.70" y="223.40" width="44.90" height="44.20" fill="#ffefde"/>
<rect x="1227.30" y="223.40" width="44.90" height="44.20" fill="#eee2e0"/>
<rect x="1271.90" y="223.40" width="44.90" height="44.20" fill="#ded4e4"/>
<rect x="1316.50" y="223.40" width="44.90" height="44.20" fill="#ff988e"/>
<rect x="1361.10" y="223.40" width="44.90" height="44.20" fill="#ff6864"/>
<rect x="1405.70" y="223.40" width="44.90" height="44.20" fill="#ffefde"/>
<rect x="870.50" y="267.30" width="44.90" height="44.20" fill="#fe272d"/>
<rect x="959.70" y="267.30" width="44.90" height="44.20" fill="#fb0e19"/>
<rect x="1004.30" y="267.30" width="44.90" height="44.20" fill="#ff5a58"/>
<rect x="1048.90" y="267.30" width="44.90" height="44.20" fill="#fe4040"/>
<rect x="1093.50" y="267.30" width="44.90" height="44.20" fill="#8e8aea"/>
<rect x="1138.10" y="267.30" width="44.90" height="44.20" fill="#6262f0"/>
<rect x="1182.70" y="267.30" width="44.90" height="44.20" fill="#aea8e6"/>
<rect x="1227.30" y="267.30" width="44.90" height="44.20" fill="#ffefde"/>
<rect x="1271.90" y="267.30" width="44.90" height="44.20" fill="#aea8e6"/>
<rect x="1316.50" y="267.30" width="44.90" height="44.20" fill="#ff5a58"/>
<rect x="1361.10" y="267.30" width="44.90" height="44.20" fill="#ffc8b9"/>
<rect x="1405.70" y="267.30" width="44.90" height="44.20" fill="#ffefde"/>
<rect x="870.50" y="311.20" width="44.90" height="44.20" fill="#ec0818"/>
<rect x="915.10" y="311.20" width="44.90" height="44.20" fill="#fb0e19"/>
<rect x="1004.30" y="311.20" width="44.90" height="44.20" fill="#ffb4a6"/>
<rect x="1048.90" y="311.20" width="44.90" height="44.20" fill="#ff7c72"/>
<rect x="1093.50" y="311.20" width="44.90" height="44.20" fill="#cec4e4"/>
<rect x="1138.10" y="311.20" width="44.90" height="44.20" fill="#beb6e4"/>
<rect x="1182.70" y="311.20" width="44.90" height="44.20" fill="#ffe2d2"/>
<rect x="1227.30" y="311.20" width="44.90" height="44.20" fill="#eee2e0"/>
<rect x="1271.90" y="311.20" width="44.90" height="44.20" fill="#beb6e4"/>
<rect x="1316.50" y="311.20" width="44.90" height="44.20" fill="#ffd6c6"/>
<rect x="1361.10" y="311.20" width="44.90" height="44.20" fill="#ffe2d2"/>
<rect x="1405.70" y="311.20" width="44.90" height="44.20" fill="#ffd6c6"/>
<rect x="870.50" y="355.10" width="44.90" height="44.20" fill="#ffb4a6"/>
<rect x="915.10" y="355.10" width="44.90" height="44.20" fill="#ff5a58"/>
<rect x="959.70" y="355.10" width="44.90" height="44.20" fill="#ffb4a6"/>
<rect x="1048.90" y="355.10" width="44.90" height="44.20" fill="#fd161f"/>
<rect x="1093.50" y="355.10" width="44.90" height="44.20" fill="#3038f8"/>
<rect x="1138.10" y="355.10" width="44.90" height="44.20" fill="#ded4e4"/>
<rect x="1182.70" y="355.10" width="44.90" height="44.20" fill="#ff988e"/>
<rect x="1227.30" y="355.10" width="44.90" height="44.20" fill="#cec4e4"/>
<rect x="1271.90" y="355.10" width="44.90" height="44.20" fill="#ffd6c6"/>
<rect x="1316.50" y="355.10" width="44.90" height="44.20" fill="#ff988e"/>
<rect x="1361.10" y="355.10" width="44.90" height="44.20" fill="#7e7cec"/>
<rect x="1405.70" y="355.10" width="44.90" height="44.20" fill="#ffc8b9"/>
<rect x="870.50" y="399.00" width="44.90" height="44.20" fill="#fe4e4e"/>
<rect x="915.10" y="399.00" width="44.90" height="44.20" fill="#fe4040"/>
<rect x="959.70" y="399.00" width="44.90" height="44.20" fill="#ff7c72"/>
<rect x="1004.30" y="399.00" width="44.90" height="44.20" fill="#fd161f"/>
<rect x="1093.50" y="399.00" width="44.90" height="44.20" fill="#7e7cec"/>
<rect x="1138.10" y="399.00" width="44.90" height="44.20" fill="#6d6cee"/>
<rect x="1182.70" y="399.00" width="44.90" height="44.20" fill="#ffe2d2"/>
<rect x="1227.30" y="399.00" width="44.90" height="44.20" fill="#ffefde"/>
<rect x="1271.90" y="399.00" width="44.90" height="44.20" fill="#beb6e4"/>
<rect x="1316.50" y="399.00" width="44.90" height="44.20" fill="#fe4040"/>
<rect x="1361.10" y="399.00" width="44.90" height="44.20" fill="#ffb4a6"/>
<rect x="1405.70" y="399.00" width="44.90" height="44.20" fill="#ffe2d2"/>
<rect x="870.50" y="442.90" width="44.90" height="44.20" fill="#ffb4a6"/>
<rect x="915.10" y="442.90" width="44.90" height="44.20" fill="#8e8aea"/>
<rect x="959.70" y="442.90" width="44.90" height="44.20" fill="#cec4e4"/>
<rect x="1004.30" y="442.90" width="44.90" height="44.20" fill="#3038f8"/>
<rect x="1048.90" y="442.90" width="44.90" height="44.20" fill="#7e7cec"/>
<rect x="1138.10" y="442.90" width="44.90" height="44.20" fill="#fe4e4e"/>
<rect x="1182.70" y="442.90" width="44.90" height="44.20" fill="#ffe2d2"/>
<rect x="1227.30" y="442.90" width="44.90" height="44.20" fill="#ffc8b9"/>
<rect x="1271.90" y="442.90" width="44.90" height="44.20" fill="#ffd6c6"/>
<rect x="1316.50" y="442.90" width="44.90" height="44.20" fill="#cec4e4"/>
<rect x="1361.10" y="442.90" width="44.90" height="44.20" fill="#ff8c82"/>
<rect x="1405.70" y="442.90" width="44.90" height="44.20" fill="#aea8e6"/>
<rect x="870.50" y="486.80" width="44.90" height="44.20" fill="#9e98e8"/>
<rect x="915.10" y="486.80" width="44.90" height="44.20" fill="#6262f0"/>
<rect x="959.70" y="486.80" width="44.90" height="44.20" fill="#beb6e4"/>
<rect x="1004.30" y="486.80" width="44.90" height="44.20" fill="#ded4e4"/>
<rect x="1048.90" y="486.80" width="44.90" height="44.20" fill="#6d6cee"/>
<rect x="1093.50" y="486.80" width="44.90" height="44.20" fill="#fe4e4e"/>
<rect x="1182.70" y="486.80" width="134.10" height="44.20" fill="#ffb4a6"/>
<rect x="1316.50" y="486.80" width="44.90" height="44.20" fill="#6262f0"/>
<rect x="1361.10" y="486.80" width="44.90" height="44.20" fill="#8e8aea"/>
<rect x="1405.70" y="486.80" width="44.90" height="44.20" fill="#9e98e8"/>
<rect x="870.50" y="530.70" width="44.90" height="44.20" fill="#ffefde"/>
<rect x="915.10" y="530.70" width="44.90" height="44.20" fill="#aea8e6"/>
<rect x="959.70" y="530.70" width="44.90" height="44.20" fill="#ffe2d2"/>
<rect x="1004.30" y="530.70" width="44.90" height="44.20" fill="#ff988e"/>
<rect x="1048.90" y="530.70" width="89.50" height="44.20" fill="#ffe2d2"/>
<rect x="1138.10" y="530.70" width="44.90" height="44.20" fill="#ffb4a6"/>
<rect x="1227.30" y="530.70" width="44.90" height="44.20" fill="#ffc8b9"/>
<rect x="1271.90" y="530.70" width="44.90" height="44.20" fill="#ff7c72"/>
<rect x="1316.50" y="530.70" width="44.90" height="44.20" fill="#ffd6c6"/>
<rect x="1361.10" y="530.70" width="44.90" height="44.20" fill="#ded4e4"/>
<rect x="1405.70" y="530.70" width="44.90" height="44.20" fill="#ffc8b9"/>
<rect x="870.50" y="574.60" width="44.90" height="44.20" fill="#eee2e0"/>
<rect x="915.10" y="574.60" width="44.90" height="44.20" fill="#ffefde"/>
<rect x="959.70" y="574.60" width="44.90" height="44.20" fill="#eee2e0"/>
<rect x="1004.30" y="574.60" width="44.90" height="44.20" fill="#cec4e4"/>
<rect x="1048.90" y="574.60" width="44.90" height="44.20" fill="#ffefde"/>
<rect x="1093.50" y="574.60" width="44.90" height="44.20" fill="#ffc8b9"/>
<rect x="1138.10" y="574.60" width="44.90" height="44.20" fill="#ffb4a6"/>
<rect x="1182.70" y="574.60" width="44.90" height="44.20" fill="#ffc8b9"/>
<rect x="1271.90" y="574.60" width="44.90" height="44.20" fill="#ff7c72"/>
<rect x="1316.50" y="574.60" width="44.90" height="44.20" fill="#ffc8b9"/>
<rect x="1361.10" y="574.60" width="44.90" height="44.20" fill="#ff5a58"/>
<rect x="1405.70" y="574.60" width="44.90" height="44.20" fill="#ffefde"/>
<rect x="870.50" y="618.50" width="44.90" height="44.20" fill="#ded4e4"/>
<rect x="915.10" y="618.50" width="44.90" height="44.20" fill="#aea8e6"/>
<rect x="959.70" y="618.50" width="44.90" height="44.20" fill="#beb6e4"/>
<rect x="1004.30" y="618.50" width="44.90" height="44.20" fill="#ffd6c6"/>
<rect x="1048.90" y="618.50" width="44.90" height="44.20" fill="#beb6e4"/>
<rect x="1093.50" y="618.50" width="44.90" height="44.20" fill="#ffd6c6"/>
<rect x="1138.10" y="618.50" width="44.90" height="44.20" fill="#ffb4a6"/>
<rect x="1182.70" y="618.50" width="89.50" height="44.20" fill="#ff7c72"/>
<rect x="1316.50" y="618.50" width="44.90" height="44.20" fill="#ffe2d2"/>
<rect x="1361.10" y="618.50" width="44.90" height="44.20" fill="#ff8c82"/>
<rect x="1405.70" y="618.50" width="44.90" height="44.20" fill="#cec4e4"/>
<rect x="870.50" y="662.40" width="44.90" height="44.20" fill="#ff988e"/>
<rect x="915.10" y="662.40" width="44.90" height="44.20" fill="#ff5a58"/>
<rect x="959.70" y="662.40" width="44.90" height="44.20" fill="#ffd6c6"/>
<rect x="1004.30" y="662.40" width="44.90" height="44.20" fill="#ff988e"/>
<rect x="1048.90" y="662.40" width="44.90" height="44.20" fill="#fe4040"/>
<rect x="1093.50" y="662.40" width="44.90" height="44.20" fill="#cec4e4"/>
<rect x="1138.10" y="662.40" width="44.90" height="44.20" fill="#6262f0"/>
<rect x="1182.70" y="662.40" width="44.90" height="44.20" fill="#ffd6c6"/>
<rect x="1227.30" y="662.40" width="44.90" height="44.20" fill="#ffc8b9"/>
<rect x="1271.90" y="662.40" width="44.90" height="44.20" fill="#ffe2d2"/>
<rect x="1361.10" y="662.40" width="44.90" height="44.20" fill="#ff5a58"/>
<rect x="1405.70" y="662.40" width="44.90" height="44.20" fill="#eee2e0"/>
<rect x="870.50" y="706.30" width="44.90" height="44.20" fill="#ff6864"/>
<rect x="915.10" y="706.30" width="44.90" height="44.20" fill="#ffc8b9"/>
<rect x="959.70" y="706.30" width="44.90" height="44.20" fill="#ffe2d2"/>
<rect x="1004.30" y="706.30" width="44.90" height="44.20" fill="#7e7cec"/>
<rect x="1048.90" y="706.30" width="44.90" height="44.20" fill="#ffb4a6"/>
<rect x="1093.50" y="706.30" width="44.90" height="44.20" fill="#ff8c82"/>
<rect x="1138.10" y="706.30" width="44.90" height="44.20" fill="#8e8aea"/>
<rect x="1182.70" y="706.30" width="44.90" height="44.20" fill="#ded4e4"/>
<rect x="1227.30" y="706.30" width="44.90" height="44.20" fill="#ff5a58"/>
<rect x="1271.90" y="706.30" width="44.90" height="44.20" fill="#ff8c82"/>
<rect x="1316.50" y="706.30" width="44.90" height="44.20" fill="#ff5a58"/>
<rect x="1405.70" y="706.30" width="44.90" height="44.20" fill="#eee2e0"/>
<rect x="870.50" y="750.20" width="89.50" height="44.20" fill="#ffefde"/>
<rect x="959.70" y="750.20" width="44.90" height="44.20" fill="#ffd6c6"/>
<rect x="1004.30" y="750.20" width="44.90" height="44.20" fill="#ffc8b9"/>
<rect x="1048.90" y="750.20" width="44.90" height="44.20" fill="#ffe2d2"/>
<rect x="1093.50" y="750.20" width="44.90" height="44.20" fill="#aea8e6"/>
<rect x="1138.10" y="750.20" width="44.90" height="44.20" fill="#9e98e8"/>
<rect x="1182.70" y="750.20" width="44.90" height="44.20" fill="#ffc8b9"/>
<rect x="1227.30" y="750.20" width="44.90" height="44.20" fill="#ffefde"/>
<rect x="1271.90" y="750.20" width="44.90" height="44.20" fill="#cec4e4"/>
<rect x="1316.50" y="750.20" width="89.50" height="44.20" fill="#eee2e0"/>
</g>
<rect x="870.7" y="223.6" width="580.1" height="571.0" fill="none" stroke="#3a3a3a" stroke-width="1"/>
<path d="M937.4,223.4v6M937.4,794.1v-6M870.5,289.2h6M1450.3,289.2h-6M1026.6,223.4v6M1026.6,794.1v-6M870.5,377.1h6M1450.3,377.1h-6M1115.8,223.4v6M1115.8,794.1v-6M870.5,464.9h6M1450.3,464.9h-6M1205.0,223.4v6M1205.0,794.1v-6M870.5,552.7h6M1450.3,552.7h-6M1294.2,223.4v6M1294.2,794.1v-6M870.5,640.5h6M1450.3,640.5h-6M1383.4,223.4v6M1383.4,794.1v-6M870.5,728.3h6M1450.3,728.3h-6" stroke="#222" stroke-width=".9" fill="none"/>
<g font-family="'Liberation Serif',serif" font-size="8" fill="#555" text-anchor="middle">
<text x="937.4" y="803.4">2</text>
<text x="1026.6" y="803.4">4</text>
<text x="1115.8" y="803.4">6</text>
<text x="1205.0" y="803.4">8</text>
<text x="1294.2" y="803.4">10</text>
<text x="1383.4" y="803.4">12</text>
</g>
<rect x="1460.8" y="224.7" width="15.5" height="571.8" fill="url(#cbar)" stroke="#555" stroke-width=".6"/>
<g font-family="'Liberation Serif',serif" font-size="8.5" fill="#444">
<text x="1477.1" y="227.5">1</text>
<text x="1477.1" y="284.7">0.8</text>
<text x="1477.1" y="341.9">0.6</text>
<text x="1477.1" y="399.0">0.4</text>
<text x="1477.1" y="456.2">0.2</text>
<text x="1477.1" y="513.4">0</text>
<text x="1477.1" y="570.6">-0.2</text>
<text x="1477.1" y="627.8">-0.4</text>
<text x="1477.1" y="684.9">-0.6</text>
<text x="1477.1" y="742.1">-0.8</text>
<text x="1477.1" y="799.3">-1</text>
</g>
<path d="M1460.8,281.9h5M1476.3,281.9h-6M1460.8,339.1h5M1476.3,339.1h-6M1460.8,396.2h5M1476.3,396.2h-6M1460.8,453.4h5M1476.3,453.4h-6M1460.8,510.6h5M1476.3,510.6h-6M1460.8,567.8h5M1476.3,567.8h-6M1460.8,625.0h5M1476.3,625.0h-6M1460.8,682.1h5M1476.3,682.1h-6M1460.8,739.3h5M1476.3,739.3h-6" stroke="#333" stroke-width="1" stroke-dasharray="2.5 1.5" fill="none"/>
<g font-family="'Liberation Sans',sans-serif" font-size="15.5" fill="#111" text-anchor="middle">
<text x="888.4" y="162.7">1</text>
<text x="799.4" y="250.2">1</text>
<text x="935.0" y="160.8">2</text>
<text x="799.4" y="292.9">2</text>
<text x="982.0" y="162.7">3</text>
<text x="799.4" y="336.9">3</text>
<text x="1026.3" y="162.7">4</text>
<text x="799.4" y="382.8">4</text>
<text x="1069.4" y="162.7">5</text>
<text x="799.4" y="428.7">5</text>
<text x="1117.5" y="162.7">6</text>
<text x="799.4" y="467.9">6</text>
<text x="1160.2" y="162.7">7</text>
<text x="799.4" y="511.7">7</text>
<text x="1205.3" y="162.2">8</text>
<text x="799.4" y="559.2">8</text>
<text x="1249.1" y="162.4">9</text>
<text x="799.4" y="602.6">9</text>
<text x="1294.3" y="162.7">10</text>
<text x="799.1" y="641.8">10</text>
<text x="1337.6" y="162.7">11</text>
<text x="799.1" y="686.5">11</text>
<text x="1382.9" y="164.3">12</text>
<text x="799.1" y="728.9">12</text>
<text x="1427.8" y="164.3">13</text>
<text x="799.1" y="776.7">13</text>
</g>
<g transform="translate(888.4 195.2) scale(1.016 1.000)" filter="url(#bl)"><path class="p0"/><path class="p1"/><path class="p2"/><path class="p3"/><path class="p4"/><g clip-path="url(#ka1)"><ellipse cx="-3" cy="13.5" rx="4.6" ry="6.8" fill="url(#gy)" transform="rotate(-28 -3 13.5)"/><ellipse cx="3" cy="13.5" rx="4.6" ry="6.8" fill="url(#gy)" transform="rotate(28 3 13.5)"/><ellipse cx="0" cy="15.5" rx="4.5" ry="4.5" fill="url(#gy)"/></g></g><g transform="translate(888.4 195.2) scale(1.016 1.000)"><path class="p5"/></g>
<g transform="translate(811.7 227.5) scale(0.950 0.945)" filter="url(#bl)"><path class="p6"/><path class="p7"/><path class="p8"/><ellipse cx="18.8" cy="17.3" rx="2.2" ry="1.8" fill="#d8d8d8" opacity=".9"/><ellipse cx="35.6" cy="19.4" rx="1.6" ry="2.2" fill="#c4c4c4" opacity=".7"/><path class="p9"/><path class="p10"/><path class="p11"/><g clip-path="url(#km)"><ellipse cx="8.3" cy="17.5" rx="6.2" ry="9.2" fill="url(#gr)" transform="rotate(12 8.3 17.5)"/><ellipse cx="7.5" cy="18.5" rx="4.6" ry="6.5" fill="url(#gy)" transform="rotate(12 7.5 18.5)"/></g></g><g transform="translate(811.7 227.5) scale(0.950 0.945)"><path class="p12"/></g>
<g transform="translate(935.0 193.7) scale(1.039 1.064)" filter="url(#bl)"><path class="p13"/><path class="p1"/><path class="p2"/><path class="p3"/><path class="p4"/><g clip-path="url(#ka2)"><ellipse cx="0" cy="10.5" rx="7" ry="3" fill="url(#gr)"/><ellipse cx="-10" cy="14" rx="6.8" ry="5.8" fill="url(#go)" transform="rotate(20 -10 14)"/><ellipse cx="10" cy="14" rx="6.8" ry="5.8" fill="url(#go)" transform="rotate(-20 10 14)"/></g></g><g transform="translate(935.0 193.7) scale(1.039 1.064)"><path class="p14"/></g>
<g transform="translate(815.1 273.7) scale(0.930 0.935)" filter="url(#bl)"><path class="p15"/><path class="p16"/><path class="p17"/><path class="p18"/><g clip-path="url(#kl)"><ellipse cx="8" cy="20.5" rx="7.2" ry="7.8" fill="url(#gr)"/><ellipse cx="5.5" cy="21" rx="4.8" ry="5.5" fill="url(#go)"/><ellipse cx="14.5" cy="5.5" rx="1.1" ry="1.1" fill="url(#gr)"/></g></g><g transform="translate(815.1 273.7) scale(0.930 0.935)"><path class="p19"/></g>
<g transform="translate(982.0 193.9) scale(0.987 1.053)" filter="url(#bl)"><path class="p13"/><path class="p1"/><path class="p2"/><path class="p3"/><path class="p4"/><g clip-path="url(#ka3)"><ellipse cx="0" cy="19.3" rx="11" ry="4" fill="url(#gr)"/><ellipse cx="-4.5" cy="19.8" rx="5.5" ry="3" fill="url(#gy)"/><ellipse cx="4.5" cy="19.8" rx="5.5" ry="3" fill="url(#gy)"/></g></g><g transform="translate(982.0 193.9) scale(0.987 1.053)"><path class="p14"/></g>
<g transform="translate(811.7 314.7) scale(0.950 0.945)" filter="url(#bl)"><path class="p6"/><path class="p7"/><path class="p8"/><ellipse cx="18.8" cy="17.3" rx="2.2" ry="1.8" fill="#d8d8d8" opacity=".9"/><ellipse cx="35.6" cy="19.4" rx="1.6" ry="2.2" fill="#c4c4c4" opacity=".7"/><path class="p9"/><path class="p10"/><path class="p11"/><g clip-path="url(#km)"><ellipse cx="4" cy="23" rx="4.2" ry="4.2" fill="url(#go)"/><ellipse cx="3.5" cy="23.3" rx="2.4" ry="2.4" fill="url(#gy)"/><ellipse cx="24.5" cy="20" rx="2.2" ry="1.3" fill="url(#gr)"/></g></g><g transform="translate(811.7 314.7) scale(0.950 0.945)"><path class="p12"/></g>
<g transform="translate(1026.3 196.2) scale(0.947 0.957)" filter="url(#bl)"><path class="p20"/><path class="p21"/><path class="p22"/><path class="p23"/><g clip-path="url(#ka4)"><ellipse cx="-13" cy="0.5" rx="5.6" ry="7.8" fill="url(#gr)"/><ellipse cx="13" cy="0.5" rx="5.6" ry="7.8" fill="url(#gr)"/><ellipse cx="-13.5" cy="1" rx="3" ry="4" fill="url(#go)"/><ellipse cx="13.5" cy="0" rx="3" ry="4" fill="url(#go)"/></g></g><g transform="translate(1026.3 196.2) scale(0.947 0.957)"><path class="p24"/></g>
<g transform="translate(815.1 362.3) scale(0.930 0.935)" filter="url(#bl)"><path class="p15"/><path class="p16"/><path class="p17"/><path class="p18"/><g clip-path="url(#kl)"><ellipse cx="21" cy="18" rx="13.5" ry="4.8" fill="url(#gr)" transform="rotate(16 21 18)"/><ellipse cx="14" cy="14.5" rx="4.5" ry="3.2" fill="url(#gr)"/><ellipse cx="27" cy="20" rx="5" ry="3.5" fill="url(#gr)"/></g></g><g transform="translate(815.1 362.3) scale(0.930 0.935)"><path class="p19"/></g>
<g transform="translate(1069.4 197.4) scale(0.921 0.904)" filter="url(#bl)"><path class="p25"/><path class="p26"/><path class="p27"/><path class="p28"/><g clip-path="url(#ka5)"><ellipse cx="-12" cy="2" rx="4.8" ry="4.4" fill="url(#go)" transform="rotate(20 -12 2)"/><ellipse cx="0" cy="-3" rx="4" ry="8" fill="url(#gr)"/><ellipse cx="0" cy="-3" rx="2.2" ry="4.5" fill="url(#go)"/><ellipse cx="12.5" cy="2" rx="4.8" ry="4.4" fill="url(#go)" transform="rotate(-20 12.5 2)"/><ellipse cx="4" cy="-15" rx="1" ry="1" fill="url(#gr)"/></g></g><g transform="translate(1069.4 197.4) scale(0.921 0.904)"><path class="p29"/></g>
<g transform="translate(815.1 407.6) scale(0.930 0.935)" filter="url(#bl)"><path class="p30"/><path class="p16"/><path class="p17"/><path class="p18"/><g clip-path="url(#kl)"><ellipse cx="15" cy="6" rx="5.8" ry="4.4" fill="url(#go)" transform="rotate(12 15 6)"/><ellipse cx="17" cy="13.5" rx="1.8" ry="1.2" fill="url(#gr)"/></g></g><g transform="translate(815.1 407.6) scale(0.930 0.935)"><path class="p19"/></g>
<g transform="translate(1117.5 196.2) scale(0.947 0.957)" filter="url(#bl)"><path class="p31"/><path class="p21"/><path class="p22"/><path class="p23"/><g clip-path="url(#ka6)"><ellipse cx="0" cy="12.5" rx="5.8" ry="7" fill="url(#gy)"/><ellipse cx="-13.5" cy="12" rx="3.4" ry="3.2" fill="url(#go)"/><ellipse cx="13.5" cy="12" rx="3.4" ry="3.2" fill="url(#go)"/><ellipse cx="0" cy="-16.5" rx="1.5" ry="2" fill="url(#gr)"/></g></g><g transform="translate(1117.5 196.2) scale(0.947 0.957)"><path class="p32"/></g>
<g transform="translate(811.7 447.5) scale(0.950 0.945)" filter="url(#bl)"><path class="p6"/><path class="p7"/><path class="p8"/><ellipse cx="18.8" cy="17.3" rx="2.2" ry="1.8" fill="#d8d8d8" opacity=".9"/><ellipse cx="35.6" cy="19.4" rx="1.6" ry="2.2" fill="#c4c4c4" opacity=".7"/><path class="p9"/><path class="p10"/><path class="p11"/><g clip-path="url(#km)"><ellipse cx="14.5" cy="13.5" rx="8" ry="6.8" fill="url(#gr)"/><ellipse cx="13" cy="13" rx="5.5" ry="4.8" fill="url(#gy)"/><ellipse cx="41" cy="20" rx="4.5" ry="4.8" fill="url(#go)"/></g></g><g transform="translate(811.7 447.5) scale(0.950 0.945)"><path class="p12"/></g>
<g transform="translate(1160.2 196.2) scale(0.966 0.957)" filter="url(#bl)"><path class="p31"/><path class="p26"/><path class="p27"/><path class="p28"/><g clip-path="url(#ka7)"><ellipse cx="0" cy="-17.5" rx="8.5" ry="3.4" fill="url(#go)"/><ellipse cx="-13.5" cy="13" rx="2.8" ry="2.6" fill="url(#gr)"/><ellipse cx="0" cy="13" rx="2.5" ry="3" fill="url(#gr)"/><ellipse cx="13.5" cy="13" rx="3.2" ry="3" fill="url(#gr)"/><ellipse cx="13.5" cy="-8" rx="1.4" ry="2" fill="url(#gr)"/></g></g><g transform="translate(1160.2 196.2) scale(0.966 0.957)"><path class="p32"/></g>
<g transform="translate(811.7 489.3) scale(0.950 0.945)" filter="url(#bl)"><path class="p6"/><path class="p7"/><path class="p8"/><ellipse cx="18.8" cy="17.3" rx="2.2" ry="1.8" fill="#d8d8d8" opacity=".9"/><ellipse cx="35.6" cy="19.4" rx="1.6" ry="2.2" fill="#c4c4c4" opacity=".7"/><path class="p9"/><path class="p10"/><path class="p11"/><g clip-path="url(#km)"><ellipse cx="27" cy="5.5" rx="14" ry="2.8" fill="url(#gr)" transform="rotate(12 27 5.5)"/><ellipse cx="42" cy="13.5" rx="3.6" ry="7" fill="url(#go)" transform="rotate(-28 42 13.5)"/><ellipse cx="13" cy="13.5" rx="3" ry="3" fill="url(#gr)"/><ellipse cx="43" cy="20" rx="1.5" ry="1.5" fill="url(#gr)"/></g></g><g transform="translate(811.7 489.3) scale(0.950 0.945)"><path class="p12"/></g>
<g transform="translate(1205.3 194.7) scale(0.953 1.021)" filter="url(#bl)"><path class="p33"/><path class="p21"/><path class="p22"/><path class="p23"/><g clip-path="url(#ka8)"><ellipse cx="0" cy="-14" rx="11.5" ry="6" fill="url(#go)"/><ellipse cx="-7" cy="-15.5" rx="4.5" ry="3.5" fill="url(#go)"/><ellipse cx="7" cy="-15.5" rx="4.5" ry="3.5" fill="url(#go)"/><ellipse cx="0" cy="-12" rx="4" ry="4" fill="url(#gy)"/><ellipse cx="-3" cy="-6" rx="2.2" ry="3.5" fill="url(#gr)"/><ellipse cx="0" cy="-3" rx="1.6" ry="3" fill="url(#gr)"/></g></g><g transform="translate(1205.3 194.7) scale(0.953 1.021)"><path class="p34"/></g>
<g transform="translate(815.1 539.6) scale(0.930 0.935)" filter="url(#bl)"><path class="p30"/><path class="p16"/><path class="p17"/><path class="p18"/><g clip-path="url(#kl)"><ellipse cx="33.5" cy="12.5" rx="3.8" ry="8" fill="url(#go)" transform="rotate(-32 33.5 12.5)"/><ellipse cx="27" cy="18.5" rx="2.6" ry="2" fill="url(#gr)"/></g></g><g transform="translate(815.1 539.6) scale(0.930 0.935)"><path class="p19"/></g>
<g transform="translate(1249.1 197.4) scale(0.968 0.904)" filter="url(#bl)"><path class="p35"/><path class="p26"/><path class="p27"/><path class="p28"/><g clip-path="url(#ka9)"><ellipse cx="8" cy="-9" rx="3.8" ry="8.5" fill="url(#go)" transform="rotate(-22 8 -9)"/><ellipse cx="11" cy="12" rx="5.6" ry="9.5" fill="url(#go)" transform="rotate(12 11 12)"/><ellipse cx="1" cy="-12" rx="1.6" ry="3.5" fill="url(#gr)"/><ellipse cx="0" cy="6" rx="1.7" ry="3.5" fill="url(#gr)"/><ellipse cx="1" cy="15" rx="1.6" ry="3" fill="url(#gr)"/></g></g><g transform="translate(1249.1 197.4) scale(0.968 0.904)"><path class="p36"/></g>
<g transform="translate(815.1 581.5) scale(0.930 0.935)" filter="url(#bl)"><path class="p15"/><path class="p16"/><path class="p17"/><path class="p18"/><g clip-path="url(#kl)"><ellipse cx="9" cy="6.5" rx="8" ry="4.6" fill="url(#go)" transform="rotate(-28 9 6.5)"/><ellipse cx="30" cy="12" rx="5" ry="11" fill="url(#go)" transform="rotate(-34 30 12)"/><ellipse cx="7" cy="22.5" rx="4.6" ry="3.2" fill="url(#gr)" transform="rotate(-20 7 22.5)"/></g></g><g transform="translate(815.1 581.5) scale(0.930 0.935)"><path class="p19"/></g>
<g transform="translate(1294.3 196.9) scale(0.947 0.926)" filter="url(#bl)"><path class="p35"/><path class="p26"/><path class="p27"/><path class="p28"/><g clip-path="url(#ka10)"><ellipse cx="-12.5" cy="9" rx="5" ry="9.5" fill="url(#gy)" transform="rotate(12 -12.5 9)"/><ellipse cx="-10" cy="-10" rx="4.2" ry="7" fill="url(#go)" transform="rotate(25 -10 -10)"/><ellipse cx="0" cy="-13" rx="2" ry="4.5" fill="url(#gr)"/><ellipse cx="0" cy="2" rx="1.8" ry="7" fill="url(#gr)"/><ellipse cx="0" cy="15" rx="1.6" ry="3" fill="url(#gr)"/><ellipse cx="14.5" cy="8" rx="2.8" ry="4.5" fill="url(#go)"/><ellipse cx="-3" cy="-17" rx="2.5" ry="2" fill="url(#gr)"/></g></g><g transform="translate(1294.3 196.9) scale(0.947 0.926)"><path class="p36"/></g>
<g transform="translate(815.1 624.0) scale(0.930 0.935)" filter="url(#bl)"><path class="p15"/><path class="p16"/><path class="p17"/><path class="p18"/><g clip-path="url(#kl)"><ellipse cx="8.5" cy="6" rx="9" ry="5.8" fill="url(#gy)" transform="rotate(-28 8.5 6)"/><ellipse cx="29" cy="11.5" rx="5.2" ry="10.5" fill="url(#go)" transform="rotate(-34 29 11.5)"/><ellipse cx="4.5" cy="23" rx="2.6" ry="2.6" fill="url(#gr)"/><ellipse cx="12" cy="14" rx="3" ry="2" fill="url(#gr)"/><ellipse cx="34" cy="19" rx="2.5" ry="3.5" fill="url(#gr)"/></g></g><g transform="translate(815.1 624.0) scale(0.930 0.935)"><path class="p19"/></g>
<g transform="translate(1337.6 195.7) scale(0.979 0.979)" filter="url(#bl)"><path class="p25"/><path class="p26"/><path class="p27"/><path class="p28"/><g clip-path="url(#ka11)"><ellipse cx="-10" cy="-15.5" rx="3" ry="3.2" fill="url(#go)"/><ellipse cx="10" cy="-15.5" rx="3" ry="3.2" fill="url(#go)"/><ellipse cx="0" cy="-9.5" rx="3.2" ry="3" fill="url(#gr)"/><ellipse cx="-16" cy="6" rx="3" ry="5.5" fill="url(#go)"/><ellipse cx="16" cy="6" rx="3" ry="5.5" fill="url(#go)"/><ellipse cx="-8" cy="19" rx="2.8" ry="2.4" fill="url(#gr)"/><ellipse cx="10" cy="19" rx="2.8" ry="2.4" fill="url(#gr)"/></g></g><g transform="translate(1337.6 195.7) scale(0.979 0.979)"><path class="p29"/></g>
<g transform="translate(815.1 667.6) scale(0.930 0.935)" filter="url(#bl)"><path class="p30"/><path class="p16"/><path class="p17"/><path class="p18"/><g clip-path="url(#kl)"><ellipse cx="11" cy="5" rx="2.4" ry="3.2" fill="url(#gr)" transform="rotate(10 11 5)"/><ellipse cx="20" cy="4.5" rx="2" ry="2.8" fill="url(#gr)" transform="rotate(15 20 4.5)"/><ellipse cx="2.5" cy="12" rx="1.5" ry="2" fill="url(#gr)"/><ellipse cx="33" cy="10.5" rx="4.6" ry="2.6" fill="url(#go)" transform="rotate(32 33 10.5)"/><ellipse cx="25" cy="18" rx="1.8" ry="1.4" fill="url(#gr)"/></g></g><g transform="translate(815.1 667.6) scale(0.930 0.935)"><path class="p19"/></g>
<g transform="translate(1382.9 195.2) scale(0.982 1.000)" filter="url(#bl)"><path class="p25"/><path class="p26"/><path class="p27"/><path class="p28"/><g clip-path="url(#ka12)"><ellipse cx="-12" cy="-8" rx="3.8" ry="3.4" fill="url(#gr)"/><ellipse cx="12.5" cy="-6" rx="2" ry="2" fill="url(#gr)"/><ellipse cx="-11" cy="16" rx="4.6" ry="3.4" fill="url(#go)"/><ellipse cx="11.5" cy="16" rx="4.4" ry="3.4" fill="url(#go)"/><ellipse cx="-4" cy="14.5" rx="1.5" ry="1.5" fill="url(#gr)"/><ellipse cx="-9" cy="-14" rx="1" ry="1.4" fill="url(#gr)"/></g></g><g transform="translate(1382.9 195.2) scale(0.982 1.000)"><path class="p29"/></g>
<g transform="translate(815.1 709.2) scale(0.930 0.935)" filter="url(#bl)"><path class="p30"/><path class="p16"/><path class="p17"/><path class="p18"/><g clip-path="url(#kl)"><ellipse cx="7" cy="8" rx="6" ry="4.6" fill="url(#go)" transform="rotate(-28 7 8)"/><ellipse cx="6" cy="8.5" rx="3.2" ry="2.2" fill="url(#gy)" transform="rotate(-28 6 8.5)"/><ellipse cx="25" cy="9.5" rx="2.8" ry="2.8" fill="url(#gr)"/><ellipse cx="32" cy="13.5" rx="2.3" ry="2.3" fill="url(#gr)"/><ellipse cx="36.5" cy="17.5" rx="1.6" ry="1.6" fill="url(#gr)"/><ellipse cx="24" cy="5" rx="1.4" ry="1.2" fill="url(#gr)"/></g></g><g transform="translate(815.1 709.2) scale(0.930 0.935)"><path class="p19"/></g>
<g transform="translate(1427.8 196.9) scale(1.000 0.926)" filter="url(#bl)"><path class="p37"/><path class="p38"/><path class="p39"/><ellipse cx="0" cy="1.5" rx="2.6" ry="3" fill="#8c8c8c" opacity=".85"/><g clip-path="url(#ka13)"><ellipse cx="0" cy="11.5" rx="11.5" ry="7" fill="url(#go)"/><ellipse cx="-5.5" cy="11" rx="5.5" ry="5" fill="url(#go)" transform="rotate(-20 -5.5 11)"/><ellipse cx="5.5" cy="11" rx="5.5" ry="5" fill="url(#go)" transform="rotate(20 5.5 11)"/><ellipse cx="0" cy="12.5" rx="6" ry="3.6" fill="url(#gy)"/></g></g><g transform="translate(1427.8 196.9) scale(1.000 0.926)"><path class="p40"/></g>
<g transform="translate(811.7 753.8) scale(0.950 0.945)" filter="url(#bl)"><path class="p6"/><path class="p7"/><path class="p8"/><ellipse cx="18.8" cy="17.3" rx="2.2" ry="1.8" fill="#d8d8d8" opacity=".9"/><ellipse cx="35.6" cy="19.4" rx="1.6" ry="2.2" fill="#c4c4c4" opacity=".7"/><path class="p9"/><path class="p10"/><path class="p11"/><g clip-path="url(#km)"><ellipse cx="18" cy="32.5" rx="10" ry="4.4" fill="url(#gr)" transform="rotate(24 18 32.5)"/><ellipse cx="17.5" cy="32.5" rx="8" ry="3.2" fill="url(#go)" transform="rotate(24 17.5 32.5)"/><ellipse cx="17" cy="32.3" rx="5" ry="2" fill="url(#gy)" transform="rotate(24 17 32.3)"/></g></g><g transform="translate(811.7 753.8) scale(0.950 0.945)"><path class="p12"/></g>
</g>
<g id="panelE">
<rect x="873.7" y="1031.9" width="580.0" height="569.9" fill="#000"/>
<g shape-rendering="crispEdges">
<rect x="918.30" y="1031.86" width="44.92" height="44.14" fill="#fb0e19"/>
<rect x="962.92" y="1031.86" width="44.92" height="44.14" fill="#ec0818"/>
<rect x="1007.54" y="1031.86" width="44.92" height="44.14" fill="#ff988e"/>
<rect x="1052.15" y="1031.86" width="44.92" height="44.14" fill="#ff7c72"/>
<rect x="1096.77" y="1031.86" width="44.92" height="44.14" fill="#ffa69a"/>
<rect x="1141.39" y="1031.86" width="44.92" height="44.14" fill="#beb6e4"/>
<rect x="1186.01" y="1031.86" width="44.92" height="44.14" fill="#ffc8b9"/>
<rect x="1230.63" y="1031.86" width="44.92" height="44.14" fill="#ffd6c6"/>
<rect x="1275.25" y="1031.86" width="44.92" height="44.14" fill="#ffefde"/>
<rect x="1319.86" y="1031.86" width="44.92" height="44.14" fill="#ff6864"/>
<rect x="1364.48" y="1031.86" width="44.92" height="44.14" fill="#ff5a58"/>
<rect x="1409.10" y="1031.86" width="44.92" height="44.14" fill="#ffe2d2"/>
<rect x="873.68" y="1075.70" width="44.92" height="44.14" fill="#fb0e19"/>
<rect x="962.92" y="1075.70" width="44.92" height="44.14" fill="#fe1a22"/>
<rect x="1007.54" y="1075.70" width="89.54" height="44.14" fill="#ff7c72"/>
<rect x="1096.77" y="1075.70" width="44.92" height="44.14" fill="#9e98e8"/>
<rect x="1141.39" y="1075.70" width="44.92" height="44.14" fill="#6262f0"/>
<rect x="1186.01" y="1075.70" width="44.92" height="44.14" fill="#beb6e4"/>
<rect x="1230.63" y="1075.70" width="44.92" height="44.14" fill="#cec4e4"/>
<rect x="1275.25" y="1075.70" width="44.92" height="44.14" fill="#ded4e4"/>
<rect x="1319.86" y="1075.70" width="44.92" height="44.14" fill="#ff6864"/>
<rect x="1364.48" y="1075.70" width="89.54" height="44.14" fill="#ffefde"/>
<rect x="873.68" y="1119.54" width="44.92" height="44.14" fill="#ec0818"/>
<rect x="918.30" y="1119.54" width="44.92" height="44.14" fill="#fe1a22"/>
<rect x="1007.54" y="1119.54" width="44.92" height="44.14" fill="#ffc8b9"/>
<rect x="1052.15" y="1119.54" width="44.92" height="44.14" fill="#ffa69a"/>
<rect x="1096.77" y="1119.54" width="44.92" height="44.14" fill="#ded4e4"/>
<rect x="1141.39" y="1119.54" width="44.92" height="44.14" fill="#eee2e0"/>
<rect x="1186.01" y="1119.54" width="44.92" height="44.14" fill="#ffc8b9"/>
<rect x="1230.63" y="1119.54" width="44.92" height="44.14" fill="#eee2e0"/>
<rect x="1275.25" y="1119.54" width="44.92" height="44.14" fill="#aea8e6"/>
<rect x="1319.86" y="1119.54" width="44.92" height="44.14" fill="#ffa69a"/>
<rect x="1364.48" y="1119.54" width="89.54" height="44.14" fill="#ffd6c6"/>
<rect x="873.68" y="1163.38" width="44.92" height="44.14" fill="#ff988e"/>
<rect x="918.30" y="1163.38" width="44.92" height="44.14" fill="#ff7c72"/>
<rect x="962.92" y="1163.38" width="44.92" height="44.14" fill="#ffc8b9"/>
<rect x="1052.15" y="1163.38" width="44.92" height="44.14" fill="#fe1a22"/>
<rect x="1096.77" y="1163.38" width="44.92" height="44.14" fill="#3038f8"/>
<rect x="1141.39" y="1163.38" width="44.92" height="44.14" fill="#beb6e4"/>
<rect x="1186.01" y="1163.38" width="44.92" height="44.14" fill="#ff6864"/>
<rect x="1230.63" y="1163.38" width="44.92" height="44.14" fill="#eee2e0"/>
<rect x="1275.25" y="1163.38" width="44.92" height="44.14" fill="#ffb4a6"/>
<rect x="1319.86" y="1163.38" width="44.92" height="44.14" fill="#ffa69a"/>
<rect x="1364.48" y="1163.38" width="44.92" height="44.14" fill="#7e7cec"/>
<rect x="1409.10" y="1163.38" width="44.92" height="44.14" fill="#ffb4a6"/>
<rect x="873.68" y="1207.21" width="89.54" height="44.14" fill="#ff7c72"/>
<rect x="962.92" y="1207.21" width="44.92" height="44.14" fill="#ffa69a"/>
<rect x="1007.54" y="1207.21" width="44.92" height="44.14" fill="#fe1a22"/>
<rect x="1096.77" y="1207.21" width="44.92" height="44.14" fill="#8e8aea"/>
<rect x="1141.39" y="1207.21" width="44.92" height="44.14" fill="#9e98e8"/>
<rect x="1186.01" y="1207.21" width="44.92" height="44.14" fill="#ffd6c6"/>
<rect x="1230.63" y="1207.21" width="89.54" height="44.14" fill="#eee2e0"/>
<rect x="1319.86" y="1207.21" width="44.92" height="44.14" fill="#fe4e4e"/>
<rect x="1364.48" y="1207.21" width="44.92" height="44.14" fill="#ffc8b9"/>
<rect x="1409.10" y="1207.21" width="44.92" height="44.14" fill="#ffe2d2"/>
<rect x="873.68" y="1251.05" width="44.92" height="44.14" fill="#ffa69a"/>
<rect x="918.30" y="1251.05" width="44.92" height="44.14" fill="#9e98e8"/>
<rect x="962.92" y="1251.05" width="44.92" height="44.14" fill="#ded4e4"/>
<rect x="1007.54" y="1251.05" width="44.92" height="44.14" fill="#3038f8"/>
<rect x="1052.15" y="1251.05" width="44.92" height="44.14" fill="#8e8aea"/>
<rect x="1141.39" y="1251.05" width="44.92" height="44.14" fill="#ff7c72"/>
<rect x="1186.01" y="1251.05" width="44.92" height="44.14" fill="#ffefde"/>
<rect x="1230.63" y="1251.05" width="44.92" height="44.14" fill="#ffc8b9"/>
<rect x="1275.25" y="1251.05" width="44.92" height="44.14" fill="#ffe2d2"/>
<rect x="1319.86" y="1251.05" width="44.92" height="44.14" fill="#eee2e0"/>
<rect x="1364.48" y="1251.05" width="44.92" height="44.14" fill="#ff6864"/>
<rect x="1409.10" y="1251.05" width="44.92" height="44.14" fill="#beb6e4"/>
<rect x="873.68" y="1294.89" width="44.92" height="44.14" fill="#beb6e4"/>
<rect x="918.30" y="1294.89" width="44.92" height="44.14" fill="#6262f0"/>
<rect x="962.92" y="1294.89" width="44.92" height="44.14" fill="#eee2e0"/>
<rect x="1007.54" y="1294.89" width="44.92" height="44.14" fill="#beb6e4"/>
<rect x="1052.15" y="1294.89" width="44.92" height="44.14" fill="#9e98e8"/>
<rect x="1096.77" y="1294.89" width="44.92" height="44.14" fill="#ff7c72"/>
<rect x="1186.01" y="1294.89" width="89.54" height="44.14" fill="#ff7c72"/>
<rect x="1275.25" y="1294.89" width="44.92" height="44.14" fill="#ffc8b9"/>
<rect x="1319.86" y="1294.89" width="44.92" height="44.14" fill="#6262f0"/>
<rect x="1364.48" y="1294.89" width="89.54" height="44.14" fill="#cec4e4"/>
<rect x="873.68" y="1338.73" width="44.92" height="44.14" fill="#ffc8b9"/>
<rect x="918.30" y="1338.73" width="44.92" height="44.14" fill="#beb6e4"/>
<rect x="962.92" y="1338.73" width="44.92" height="44.14" fill="#ffc8b9"/>
<rect x="1007.54" y="1338.73" width="44.92" height="44.14" fill="#ff6864"/>
<rect x="1052.15" y="1338.73" width="44.92" height="44.14" fill="#ffd6c6"/>
<rect x="1096.77" y="1338.73" width="44.92" height="44.14" fill="#ffefde"/>
<rect x="1141.39" y="1338.73" width="44.92" height="44.14" fill="#ff7c72"/>
<rect x="1230.63" y="1338.73" width="44.92" height="44.14" fill="#ffa69a"/>
<rect x="1275.25" y="1338.73" width="44.92" height="44.14" fill="#ff7c72"/>
<rect x="1319.86" y="1338.73" width="44.92" height="44.14" fill="#ffe2d2"/>
<rect x="1364.48" y="1338.73" width="44.92" height="44.14" fill="#ffefde"/>
<rect x="1409.10" y="1338.73" width="44.92" height="44.14" fill="#ded4e4"/>
<rect x="873.68" y="1382.57" width="44.92" height="44.14" fill="#ffd6c6"/>
<rect x="918.30" y="1382.57" width="44.92" height="44.14" fill="#cec4e4"/>
<rect x="962.92" y="1382.57" width="134.16" height="44.14" fill="#eee2e0"/>
<rect x="1096.77" y="1382.57" width="44.92" height="44.14" fill="#ffc8b9"/>
<rect x="1141.39" y="1382.57" width="44.92" height="44.14" fill="#ff7c72"/>
<rect x="1186.01" y="1382.57" width="44.92" height="44.14" fill="#ffa69a"/>
<rect x="1275.25" y="1382.57" width="44.92" height="44.14" fill="#ff988e"/>
<rect x="1319.86" y="1382.57" width="44.92" height="44.14" fill="#ffe2d2"/>
<rect x="1364.48" y="1382.57" width="44.92" height="44.14" fill="#ff6864"/>
<rect x="1409.10" y="1382.57" width="44.92" height="44.14" fill="#beb6e4"/>
<rect x="873.68" y="1426.41" width="44.92" height="44.14" fill="#ffefde"/>
<rect x="918.30" y="1426.41" width="44.92" height="44.14" fill="#ded4e4"/>
<rect x="962.92" y="1426.41" width="44.92" height="44.14" fill="#aea8e6"/>
<rect x="1007.54" y="1426.41" width="44.92" height="44.14" fill="#ffb4a6"/>
<rect x="1052.15" y="1426.41" width="44.92" height="44.14" fill="#eee2e0"/>
<rect x="1096.77" y="1426.41" width="44.92" height="44.14" fill="#ffe2d2"/>
<rect x="1141.39" y="1426.41" width="44.92" height="44.14" fill="#ffc8b9"/>
<rect x="1186.01" y="1426.41" width="44.92" height="44.14" fill="#ff7c72"/>
<rect x="1230.63" y="1426.41" width="44.92" height="44.14" fill="#ff988e"/>
<rect x="1319.86" y="1426.41" width="44.92" height="44.14" fill="#ffe2d2"/>
<rect x="1364.48" y="1426.41" width="44.92" height="44.14" fill="#ff8c82"/>
<rect x="1409.10" y="1426.41" width="44.92" height="44.14" fill="#9e98e8"/>
<rect x="873.68" y="1470.24" width="89.54" height="44.14" fill="#ff6864"/>
<rect x="962.92" y="1470.24" width="89.54" height="44.14" fill="#ffa69a"/>
<rect x="1052.15" y="1470.24" width="44.92" height="44.14" fill="#fe4e4e"/>
<rect x="1096.77" y="1470.24" width="44.92" height="44.14" fill="#eee2e0"/>
<rect x="1141.39" y="1470.24" width="44.92" height="44.14" fill="#6262f0"/>
<rect x="1186.01" y="1470.24" width="134.16" height="44.14" fill="#ffe2d2"/>
<rect x="1364.48" y="1470.24" width="44.92" height="44.14" fill="#ff5a58"/>
<rect x="1409.10" y="1470.24" width="44.92" height="44.14" fill="#ded4e4"/>
<rect x="873.68" y="1514.08" width="44.92" height="44.14" fill="#ff5a58"/>
<rect x="918.30" y="1514.08" width="44.92" height="44.14" fill="#ffefde"/>
<rect x="962.92" y="1514.08" width="44.92" height="44.14" fill="#ffd6c6"/>
<rect x="1007.54" y="1514.08" width="44.92" height="44.14" fill="#7e7cec"/>
<rect x="1052.15" y="1514.08" width="44.92" height="44.14" fill="#ffc8b9"/>
<rect x="1096.77" y="1514.08" width="44.92" height="44.14" fill="#ff6864"/>
<rect x="1141.39" y="1514.08" width="44.92" height="44.14" fill="#cec4e4"/>
<rect x="1186.01" y="1514.08" width="44.92" height="44.14" fill="#ffefde"/>
<rect x="1230.63" y="1514.08" width="44.92" height="44.14" fill="#ff6864"/>
<rect x="1275.25" y="1514.08" width="44.92" height="44.14" fill="#ff8c82"/>
<rect x="1319.86" y="1514.08" width="44.92" height="44.14" fill="#ff5a58"/>
<rect x="1409.10" y="1514.08" width="44.92" height="44.14" fill="#ded4e4"/>
<rect x="873.68" y="1557.92" width="44.92" height="44.14" fill="#ffe2d2"/>
<rect x="918.30" y="1557.92" width="44.92" height="44.14" fill="#ffefde"/>
<rect x="962.92" y="1557.92" width="44.92" height="44.14" fill="#ffd6c6"/>
<rect x="1007.54" y="1557.92" width="44.92" height="44.14" fill="#ffb4a6"/>
<rect x="1052.15" y="1557.92" width="44.92" height="44.14" fill="#ffe2d2"/>
<rect x="1096.77" y="1557.92" width="44.92" height="44.14" fill="#beb6e4"/>
<rect x="1141.39" y="1557.92" width="44.92" height="44.14" fill="#cec4e4"/>
<rect x="1186.01" y="1557.92" width="44.92" height="44.14" fill="#ded4e4"/>
<rect x="1230.63" y="1557.92" width="44.92" height="44.14" fill="#beb6e4"/>
<rect x="1275.25" y="1557.92" width="44.92" height="44.14" fill="#9e98e8"/>
<rect x="1319.86" y="1557.92" width="89.54" height="44.14" fill="#ded4e4"/>
</g>
<rect x="873.9" y="1032.1" width="580.3" height="570.2" fill="none" stroke="#3a3a3a" stroke-width="1"/>
<path d="M940.6,1031.9v6M940.6,1601.8v-6M873.7,1097.6h6M1453.7,1097.6h-6M1029.8,1031.9v6M1029.8,1601.8v-6M873.7,1185.3h6M1453.7,1185.3h-6M1119.1,1031.9v6M1119.1,1601.8v-6M873.7,1273.0h6M1453.7,1273.0h-6M1208.3,1031.9v6M1208.3,1601.8v-6M873.7,1360.6h6M1453.7,1360.6h-6M1297.6,1031.9v6M1297.6,1601.8v-6M873.7,1448.3h6M1453.7,1448.3h-6M1386.8,1031.9v6M1386.8,1601.8v-6M873.7,1536.0h6M1453.7,1536.0h-6" stroke="#222" stroke-width=".9" fill="none"/>
<g font-family="'Liberation Serif',serif" font-size="8" fill="#555" text-anchor="middle">
<text x="940.6" y="1611.1">2</text>
<text x="1029.8" y="1611.1">4</text>
<text x="1119.1" y="1611.1">6</text>
<text x="1208.3" y="1611.1">8</text>
<text x="1297.6" y="1611.1">10</text>
<text x="1386.8" y="1611.1">12</text>
</g>
<rect x="1464.4" y="1033.2" width="15.8" height="570.5" fill="url(#cbar)" stroke="#555" stroke-width=".6"/>
<g font-family="'Liberation Serif',serif" font-size="8.5" fill="#444">
<text x="1481.0" y="1036.0">1</text>
<text x="1481.0" y="1093.0">0.8</text>
<text x="1481.0" y="1150.1">0.6</text>
<text x="1481.0" y="1207.2">0.4</text>
<text x="1481.0" y="1264.2">0.2</text>
<text x="1481.0" y="1321.2">0</text>
<text x="1481.0" y="1378.3">-0.2</text>
<text x="1481.0" y="1435.4">-0.4</text>
<text x="1481.0" y="1492.4">-0.6</text>
<text x="1481.0" y="1549.5">-0.8</text>
<text x="1481.0" y="1606.5">-1</text>
</g>
<path d="M1464.4,1090.2h5M1480.2,1090.2h-6M1464.4,1147.3h5M1480.2,1147.3h-6M1464.4,1204.4h5M1480.2,1204.4h-6M1464.4,1261.4h5M1480.2,1261.4h-6M1464.4,1318.5h5M1480.2,1318.5h-6M1464.4,1375.5h5M1480.2,1375.5h-6M1464.4,1432.6h5M1480.2,1432.6h-6M1464.4,1489.6h5M1480.2,1489.6h-6M1464.4,1546.7h5M1480.2,1546.7h-6" stroke="#333" stroke-width="1" stroke-dasharray="2.5 1.5" fill="none"/>
<g font-family="'Liberation Sans',sans-serif" font-size="15.5" fill="#111" text-anchor="middle">
<text x="892.6" y="969.8">1</text>
<text x="803.1" y="1057.4">1</text>
<text x="939.2" y="967.9">2</text>
<text x="803.1" y="1100.1">2</text>
<text x="986.2" y="969.8">3</text>
<text x="803.1" y="1144.1">3</text>
<text x="1030.5" y="969.8">4</text>
<text x="803.1" y="1190.0">4</text>
<text x="1073.5" y="969.8">5</text>
<text x="803.1" y="1235.9">5</text>
<text x="1121.6" y="969.8">6</text>
<text x="803.1" y="1275.1">6</text>
<text x="1164.4" y="969.8">7</text>
<text x="803.1" y="1318.9">7</text>
<text x="1209.5" y="969.3">8</text>
<text x="803.1" y="1366.4">8</text>
<text x="1253.2" y="969.5">9</text>
<text x="803.1" y="1409.8">9</text>
<text x="1298.4" y="969.8">10</text>
<text x="802.8" y="1449.0">10</text>
<text x="1341.7" y="969.8">11</text>
<text x="802.8" y="1493.7">11</text>
<text x="1387.0" y="971.4">12</text>
<text x="802.8" y="1536.1">12</text>
<text x="1431.9" y="971.4">13</text>
<text x="802.8" y="1583.9">13</text>
</g>
<g transform="translate(892.6 1002.3) scale(1.016 1.000)" filter="url(#bl)"><path class="p0"/><path class="p1"/><path class="p2"/><path class="p3"/><path class="p4"/><g clip-path="url(#ka1)"><ellipse cx="-3" cy="13.5" rx="4.6" ry="6.8" fill="url(#gy)" transform="rotate(-28 -3 13.5)"/><ellipse cx="3" cy="13.5" rx="4.6" ry="6.8" fill="url(#gy)" transform="rotate(28 3 13.5)"/><ellipse cx="0" cy="15.5" rx="4.5" ry="4.5" fill="url(#gy)"/></g></g><g transform="translate(892.6 1002.3) scale(1.016 1.000)"><path class="p5"/></g>
<g transform="translate(816.2 1034.7) scale(0.950 0.945)" filter="url(#bl)"><path class="p6"/><path class="p7"/><path class="p8"/><ellipse cx="18.8" cy="17.3" rx="2.2" ry="1.8" fill="#d8d8d8" opacity=".9"/><ellipse cx="35.6" cy="19.4" rx="1.6" ry="2.2" fill="#c4c4c4" opacity=".7"/><path class="p9"/><path class="p10"/><path class="p11"/><g clip-path="url(#km)"><ellipse cx="8.3" cy="17.5" rx="6.2" ry="9.2" fill="url(#gr)" transform="rotate(12 8.3 17.5)"/><ellipse cx="7.5" cy="18.5" rx="4.6" ry="6.5" fill="url(#gy)" transform="rotate(12 7.5 18.5)"/></g></g><g transform="translate(816.2 1034.7) scale(0.950 0.945)"><path class="p12"/></g>
<g transform="translate(939.2 1000.8) scale(1.039 1.064)" filter="url(#bl)"><path class="p13"/><path class="p1"/><path class="p2"/><path class="p3"/><path class="p4"/><g clip-path="url(#ka2)"><ellipse cx="0" cy="10.5" rx="7" ry="3" fill="url(#gr)"/><ellipse cx="-10" cy="14" rx="6.8" ry="5.8" fill="url(#go)" transform="rotate(20 -10 14)"/><ellipse cx="10" cy="14" rx="6.8" ry="5.8" fill="url(#go)" transform="rotate(-20 10 14)"/></g></g><g transform="translate(939.2 1000.8) scale(1.039 1.064)"><path class="p14"/></g>
<g transform="translate(819.6 1080.9) scale(0.930 0.935)" filter="url(#bl)"><path class="p15"/><path class="p16"/><path class="p17"/><path class="p18"/><g clip-path="url(#kl)"><ellipse cx="8" cy="20.5" rx="7.2" ry="7.8" fill="url(#gr)"/><ellipse cx="5.5" cy="21" rx="4.8" ry="5.5" fill="url(#go)"/><ellipse cx="14.5" cy="5.5" rx="1.1" ry="1.1" fill="url(#gr)"/></g></g><g transform="translate(819.6 1080.9) scale(0.930 0.935)"><path class="p19"/></g>
<g transform="translate(986.2 1001.0) scale(0.987 1.053)" filter="url(#bl)"><path class="p13"/><path class="p1"/><path class="p2"/><path class="p3"/><path class="p4"/><g clip-path="url(#ka3)"><ellipse cx="0" cy="19.3" rx="11" ry="4" fill="url(#gr)"/><ellipse cx="-4.5" cy="19.8" rx="5.5" ry="3" fill="url(#gy)"/><ellipse cx="4.5" cy="19.8" rx="5.5" ry="3" fill="url(#gy)"/></g></g><g transform="translate(986.2 1001.0) scale(0.987 1.053)"><path class="p14"/></g>
<g transform="translate(816.2 1121.9) scale(0.950 0.945)" filter="url(#bl)"><path class="p6"/><path class="p7"/><path class="p8"/><ellipse cx="18.8" cy="17.3" rx="2.2" ry="1.8" fill="#d8d8d8" opacity=".9"/><ellipse cx="35.6" cy="19.4" rx="1.6" ry="2.2" fill="#c4c4c4" opacity=".7"/><path class="p9"/><path class="p10"/><path class="p11"/><g clip-path="url(#km)"><ellipse cx="4" cy="23" rx="4.2" ry="4.2" fill="url(#go)"/><ellipse cx="3.5" cy="23.3" rx="2.4" ry="2.4" fill="url(#gy)"/><ellipse cx="24.5" cy="20" rx="2.2" ry="1.3" fill="url(#gr)"/></g></g><g transform="translate(816.2 1121.9) scale(0.950 0.945)"><path class="p12"/></g>
<g transform="translate(1030.5 1003.3) scale(0.947 0.957)" filter="url(#bl)"><path class="p20"/><path class="p21"/><path class="p22"/><path class="p23"/><g clip-path="url(#ka4)"><ellipse cx="-13" cy="0.5" rx="5.6" ry="7.8" fill="url(#gr)"/><ellipse cx="13" cy="0.5" rx="5.6" ry="7.8" fill="url(#gr)"/><ellipse cx="-13.5" cy="1" rx="3" ry="4" fill="url(#go)"/><ellipse cx="13.5" cy="0" rx="3" ry="4" fill="url(#go)"/></g></g><g transform="translate(1030.5 1003.3) scale(0.947 0.957)"><path class="p24"/></g>
<g transform="translate(819.6 1169.5) scale(0.930 0.935)" filter="url(#bl)"><path class="p15"/><path class="p16"/><path class="p17"/><path class="p18"/><g clip-path="url(#kl)"><ellipse cx="21" cy="18" rx="13.5" ry="4.8" fill="url(#gr)" transform="rotate(16 21 18)"/><ellipse cx="14" cy="14.5" rx="4.5" ry="3.2" fill="url(#gr)"/><ellipse cx="27" cy="20" rx="5" ry="3.5" fill="url(#gr)"/></g></g><g transform="translate(819.6 1169.5) scale(0.930 0.935)"><path class="p19"/></g>
<g transform="translate(1073.5 1004.5) scale(0.921 0.904)" filter="url(#bl)"><path class="p25"/><path class="p26"/><path class="p27"/><path class="p28"/><g clip-path="url(#ka5)"><ellipse cx="-12" cy="2" rx="4.8" ry="4.4" fill="url(#go)" transform="rotate(20 -12 2)"/><ellipse cx="0" cy="-3" rx="4" ry="8" fill="url(#gr)"/><ellipse cx="0" cy="-3" rx="2.2" ry="4.5" fill="url(#go)"/><ellipse cx="12.5" cy="2" rx="4.8" ry="4.4" fill="url(#go)" transform="rotate(-20 12.5 2)"/><ellipse cx="4" cy="-15" rx="1" ry="1" fill="url(#gr)"/></g></g><g transform="translate(1073.5 1004.5) scale(0.921 0.904)"><path class="p29"/></g>
<g transform="translate(819.6 1214.8) scale(0.930 0.935)" filter="url(#bl)"><path class="p30"/><path class="p16"/><path class="p17"/><path class="p18"/><g clip-path="url(#kl)"><ellipse cx="15" cy="6" rx="5.8" ry="4.4" fill="url(#go)" transform="rotate(12 15 6)"/><ellipse cx="17" cy="13.5" rx="1.8" ry="1.2" fill="url(#gr)"/></g></g><g transform="translate(819.6 1214.8) scale(0.930 0.935)"><path class="p19"/></g>
<g transform="translate(1121.6 1003.3) scale(0.947 0.957)" filter="url(#bl)"><path class="p31"/><path class="p21"/><path class="p22"/><path class="p23"/><g clip-path="url(#ka6)"><ellipse cx="0" cy="12.5" rx="5.8" ry="7" fill="url(#gy)"/><ellipse cx="-13.5" cy="12" rx="3.4" ry="3.2" fill="url(#go)"/><ellipse cx="13.5" cy="12" rx="3.4" ry="3.2" fill="url(#go)"/><ellipse cx="0" cy="-16.5" rx="1.5" ry="2" fill="url(#gr)"/></g></g><g transform="translate(1121.6 1003.3) scale(0.947 0.957)"><path class="p32"/></g>
<g transform="translate(816.2 1254.7) scale(0.950 0.945)" filter="url(#bl)"><path class="p6"/><path class="p7"/><path class="p8"/><ellipse cx="18.8" cy="17.3" rx="2.2" ry="1.8" fill="#d8d8d8" opacity=".9"/><ellipse cx="35.6" cy="19.4" rx="1.6" ry="2.2" fill="#c4c4c4" opacity=".7"/><path class="p9"/><path class="p10"/><path class="p11"/><g clip-path="url(#km)"><ellipse cx="14.5" cy="13.5" rx="8" ry="6.8" fill="url(#gr)"/><ellipse cx="13" cy="13" rx="5.5" ry="4.8" fill="url(#gy)"/><ellipse cx="41" cy="20" rx="4.5" ry="4.8" fill="url(#go)"/></g></g><g transform="translate(816.2 1254.7) scale(0.950 0.945)"><path class="p12"/></g>
<g transform="translate(1164.4 1003.3) scale(0.966 0.957)" filter="url(#bl)"><path class="p31"/><path class="p26"/><path class="p27"/><path class="p28"/><g clip-path="url(#ka7)"><ellipse cx="0" cy="-17.5" rx="8.5" ry="3.4" fill="url(#go)"/><ellipse cx="-13.5" cy="13" rx="2.8" ry="2.6" fill="url(#gr)"/><ellipse cx="0" cy="13" rx="2.5" ry="3" fill="url(#gr)"/><ellipse cx="13.5" cy="13" rx="3.2" ry="3" fill="url(#gr)"/><ellipse cx="13.5" cy="-8" rx="1.4" ry="2" fill="url(#gr)"/></g></g><g transform="translate(1164.4 1003.3) scale(0.966 0.957)"><path class="p32"/></g>
<g transform="translate(816.2 1296.5) scale(0.950 0.945)" filter="url(#bl)"><path class="p6"/><path class="p7"/><path class="p8"/><ellipse cx="18.8" cy="17.3" rx="2.2" ry="1.8" fill="#d8d8d8" opacity=".9"/><ellipse cx="35.6" cy="19.4" rx="1.6" ry="2.2" fill="#c4c4c4" opacity=".7"/><path class="p9"/><path class="p10"/><path class="p11"/><g clip-path="url(#km)"><ellipse cx="27" cy="5.5" rx="14" ry="2.8" fill="url(#gr)" transform="rotate(12 27 5.5)"/><ellipse cx="42" cy="13.5" rx="3.6" ry="7" fill="url(#go)" transform="rotate(-28 42 13.5)"/><ellipse cx="13" cy="13.5" rx="3" ry="3" fill="url(#gr)"/><ellipse cx="43" cy="20" rx="1.5" ry="1.5" fill="url(#gr)"/></g></g><g transform="translate(816.2 1296.5) scale(0.950 0.945)"><path class="p12"/></g>
<g transform="translate(1209.5 1001.8) scale(0.953 1.021)" filter="url(#bl)"><path class="p33"/><path class="p21"/><path class="p22"/><path class="p23"/><g clip-path="url(#ka8)"><ellipse cx="0" cy="-14" rx="11.5" ry="6" fill="url(#go)"/><ellipse cx="-7" cy="-15.5" rx="4.5" ry="3.5" fill="url(#go)"/><ellipse cx="7" cy="-15.5" rx="4.5" ry="3.5" fill="url(#go)"/><ellipse cx="0" cy="-12" rx="4" ry="4" fill="url(#gy)"/><ellipse cx="-3" cy="-6" rx="2.2" ry="3.5" fill="url(#gr)"/><ellipse cx="0" cy="-3" rx="1.6" ry="3" fill="url(#gr)"/></g></g><g transform="translate(1209.5 1001.8) scale(0.953 1.021)"><path class="p34"/></g>
<g transform="translate(819.6 1346.8) scale(0.930 0.935)" filter="url(#bl)"><path class="p30"/><path class="p16"/><path class="p17"/><path class="p18"/><g clip-path="url(#kl)"><ellipse cx="33.5" cy="12.5" rx="3.8" ry="8" fill="url(#go)" transform="rotate(-32 33.5 12.5)"/><ellipse cx="27" cy="18.5" rx="2.6" ry="2" fill="url(#gr)"/></g></g><g transform="translate(819.6 1346.8) scale(0.930 0.935)"><path class="p19"/></g>
<g transform="translate(1253.2 1004.5) scale(0.968 0.904)" filter="url(#bl)"><path class="p35"/><path class="p26"/><path class="p27"/><path class="p28"/><g clip-path="url(#ka9)"><ellipse cx="8" cy="-9" rx="3.8" ry="8.5" fill="url(#go)" transform="rotate(-22 8 -9)"/><ellipse cx="11" cy="12" rx="5.6" ry="9.5" fill="url(#go)" transform="rotate(12 11 12)"/><ellipse cx="1" cy="-12" rx="1.6" ry="3.5" fill="url(#gr)"/><ellipse cx="0" cy="6" rx="1.7" ry="3.5" fill="url(#gr)"/><ellipse cx="1" cy="15" rx="1.6" ry="3" fill="url(#gr)"/></g></g><g transform="translate(1253.2 1004.5) scale(0.968 0.904)"><path class="p36"/></g>
<g transform="translate(819.6 1388.7) scale(0.930 0.935)" filter="url(#bl)"><path class="p15"/><path class="p16"/><path class="p17"/><path class="p18"/><g clip-path="url(#kl)"><ellipse cx="9" cy="6.5" rx="8" ry="4.6" fill="url(#go)" transform="rotate(-28 9 6.5)"/><ellipse cx="30" cy="12" rx="5" ry="11" fill="url(#go)" transform="rotate(-34 30 12)"/><ellipse cx="7" cy="22.5" rx="4.6" ry="3.2" fill="url(#gr)" transform="rotate(-20 7 22.5)"/></g></g><g transform="translate(819.6 1388.7) scale(0.930 0.935)"><path class="p19"/></g>
<g transform="translate(1298.4 1004.0) scale(0.947 0.926)" filter="url(#bl)"><path class="p35"/><path class="p26"/><path class="p27"/><path class="p28"/><g clip-path="url(#ka10)"><ellipse cx="-12.5" cy="9" rx="5" ry="9.5" fill="url(#gy)" transform="rotate(12 -12.5 9)"/><ellipse cx="-10" cy="-10" rx="4.2" ry="7" fill="url(#go)" transform="rotate(25 -10 -10)"/><ellipse cx="0" cy="-13" rx="2" ry="4.5" fill="url(#gr)"/><ellipse cx="0" cy="2" rx="1.8" ry="7" fill="url(#gr)"/><ellipse cx="0" cy="15" rx="1.6" ry="3" fill="url(#gr)"/><ellipse cx="14.5" cy="8" rx="2.8" ry="4.5" fill="url(#go)"/><ellipse cx="-3" cy="-17" rx="2.5" ry="2" fill="url(#gr)"/></g></g><g transform="translate(1298.4 1004.0) scale(0.947 0.926)"><path class="p36"/></g>
<g transform="translate(819.6 1431.2) scale(0.930 0.935)" filter="url(#bl)"><path class="p15"/><path class="p16"/><path class="p17"/><path class="p18"/><g clip-path="url(#kl)"><ellipse cx="8.5" cy="6" rx="9" ry="5.8" fill="url(#gy)" transform="rotate(-28 8.5 6)"/><ellipse cx="29" cy="11.5" rx="5.2" ry="10.5" fill="url(#go)" transform="rotate(-34 29 11.5)"/><ellipse cx="4.5" cy="23" rx="2.6" ry="2.6" fill="url(#gr)"/><ellipse cx="12" cy="14" rx="3" ry="2" fill="url(#gr)"/><ellipse cx="34" cy="19" rx="2.5" ry="3.5" fill="url(#gr)"/></g></g><g transform="translate(819.6 1431.2) scale(0.930 0.935)"><path class="p19"/></g>
<g transform="translate(1341.7 1002.8) scale(0.979 0.979)" filter="url(#bl)"><path class="p25"/><path class="p26"/><path class="p27"/><path class="p28"/><g clip-path="url(#ka11)"><ellipse cx="-10" cy="-15.5" rx="3" ry="3.2" fill="url(#go)"/><ellipse cx="10" cy="-15.5" rx="3" ry="3.2" fill="url(#go)"/><ellipse cx="0" cy="-9.5" rx="3.2" ry="3" fill="url(#gr)"/><ellipse cx="-16" cy="6" rx="3" ry="5.5" fill="url(#go)"/><ellipse cx="16" cy="6" rx="3" ry="5.5" fill="url(#go)"/><ellipse cx="-8" cy="19" rx="2.8" ry="2.4" fill="url(#gr)"/><ellipse cx="10" cy="19" rx="2.8" ry="2.4" fill="url(#gr)"/></g></g><g transform="translate(1341.7 1002.8) scale(0.979 0.979)"><path class="p29"/></g>
<g transform="translate(819.6 1474.8) scale(0.930 0.935)" filter="url(#bl)"><path class="p30"/><path class="p16"/><path class="p17"/><path class="p18"/><g clip-path="url(#kl)"><ellipse cx="11" cy="5" rx="2.4" ry="3.2" fill="url(#gr)" transform="rotate(10 11 5)"/><ellipse cx="20" cy="4.5" rx="2" ry="2.8" fill="url(#gr)" transform="rotate(15 20 4.5)"/><ellipse cx="2.5" cy="12" rx="1.5" ry="2" fill="url(#gr)"/><ellipse cx="33" cy="10.5" rx="4.6" ry="2.6" fill="url(#go)" transform="rotate(32 33 10.5)"/><ellipse cx="25" cy="18" rx="1.8" ry="1.4" fill="url(#gr)"/></g></g><g transform="translate(819.6 1474.8) scale(0.930 0.935)"><path class="p19"/></g>
<g transform="translate(1387.0 1002.3) scale(0.982 1.000)" filter="url(#bl)"><path class="p25"/><path class="p26"/><path class="p27"/><path class="p28"/><g clip-path="url(#ka12)"><ellipse cx="-12" cy="-8" rx="3.8" ry="3.4" fill="url(#gr)"/><ellipse cx="12.5" cy="-6" rx="2" ry="2" fill="url(#gr)"/><ellipse cx="-11" cy="16" rx="4.6" ry="3.4" fill="url(#go)"/><ellipse cx="11.5" cy="16" rx="4.4" ry="3.4" fill="url(#go)"/><ellipse cx="-4" cy="14.5" rx="1.5" ry="1.5" fill="url(#gr)"/><ellipse cx="-9" cy="-14" rx="1" ry="1.4" fill="url(#gr)"/></g></g><g transform="translate(1387.0 1002.3) scale(0.982 1.000)"><path class="p29"/></g>
<g transform="translate(819.6 1516.4) scale(0.930 0.935)" filter="url(#bl)"><path class="p30"/><path class="p16"/><path class="p17"/><path class="p18"/><g clip-path="url(#kl)"><ellipse cx="7" cy="8" rx="6" ry="4.6" fill="url(#go)" transform="rotate(-28 7 8)"/><ellipse cx="6" cy="8.5" rx="3.2" ry="2.2" fill="url(#gy)" transform="rotate(-28 6 8.5)"/><ellipse cx="25" cy="9.5" rx="2.8" ry="2.8" fill="url(#gr)"/><ellipse cx="32" cy="13.5" rx="2.3" ry="2.3" fill="url(#gr)"/><ellipse cx="36.5" cy="17.5" rx="1.6" ry="1.6" fill="url(#gr)"/><ellipse cx="24" cy="5" rx="1.4" ry="1.2" fill="url(#gr)"/></g></g><g transform="translate(819.6 1516.4) scale(0.930 0.935)"><path class="p19"/></g>
<g transform="translate(1431.9 1004.0) scale(1.000 0.926)" filter="url(#bl)"><path class="p37"/><path class="p38"/><path class="p39"/><ellipse cx="0" cy="1.5" rx="2.6" ry="3" fill="#8c8c8c" opacity=".85"/><g clip-path="url(#ka13)"><ellipse cx="0" cy="11.5" rx="11.5" ry="7" fill="url(#go)"/><ellipse cx="-5.5" cy="11" rx="5.5" ry="5" fill="url(#go)" transform="rotate(-20 -5.5 11)"/><ellipse cx="5.5" cy="11" rx="5.5" ry="5" fill="url(#go)" transform="rotate(20 5.5 11)"/><ellipse cx="0" cy="12.5" rx="6" ry="3.6" fill="url(#gy)"/></g></g><g transform="translate(1431.9 1004.0) scale(1.000 0.926)"><path class="p40"/></g>
<g transform="translate(816.2 1561.0) scale(0.950 0.945)" filter="url(#bl)"><path class="p6"/><path class="p7"/><path class="p8"/><ellipse cx="18.8" cy="17.3" rx="2.2" ry="1.8" fill="#d8d8d8" opacity=".9"/><ellipse cx="35.6" cy="19.4" rx="1.6" ry="2.2" fill="#c4c4c4" opacity=".7"/><path class="p9"/><path class="p10"/><path class="p11"/><g clip-path="url(#km)"><ellipse cx="18" cy="32.5" rx="10" ry="4.4" fill="url(#gr)" transform="rotate(24 18 32.5)"/><ellipse cx="17.5" cy="32.5" rx="8" ry="3.2" fill="url(#go)" transform="rotate(24 17.5 32.5)"/><ellipse cx="17" cy="32.3" rx="5" ry="2" fill="url(#gy)" transform="rotate(24 17 32.3)"/></g></g><g transform="translate(816.2 1561.0) scale(0.950 0.945)"><path class="p12"/></g>
</g>
<g id="panelF">
<rect x="875.8" y="1852.9" width="579.1" height="572.8" fill="#000"/>
<g shape-rendering="crispEdges">
<rect x="920.30" y="1852.94" width="44.85" height="44.36" fill="#ffab9e"/>
<rect x="964.84" y="1852.94" width="44.85" height="44.36" fill="#ffdece"/>
<rect x="1009.39" y="1852.94" width="44.85" height="44.36" fill="#ffb4a6"/>
<rect x="1053.93" y="1852.94" width="44.85" height="44.36" fill="#5656f1"/>
<rect x="1098.48" y="1852.94" width="44.85" height="44.36" fill="#ffc8b9"/>
<rect x="1143.03" y="1852.94" width="44.85" height="44.36" fill="#ff9288"/>
<rect x="1187.57" y="1852.94" width="44.85" height="44.36" fill="#ffafa2"/>
<rect x="1232.12" y="1852.94" width="44.85" height="44.36" fill="#ff7c72"/>
<rect x="1276.67" y="1852.94" width="44.85" height="44.36" fill="#ffab9e"/>
<rect x="1321.21" y="1852.94" width="44.85" height="44.36" fill="#ff6d68"/>
<rect x="1365.76" y="1852.94" width="44.85" height="44.36" fill="#ffab9e"/>
<rect x="1410.30" y="1852.94" width="44.85" height="44.36" fill="#ffe5d5"/>
<rect x="875.75" y="1897.00" width="44.85" height="44.36" fill="#ffab9e"/>
<rect x="964.84" y="1897.00" width="44.85" height="44.36" fill="#e9dde1"/>
<rect x="1009.39" y="1897.00" width="44.85" height="44.36" fill="#a39de7"/>
<rect x="1053.93" y="1897.00" width="44.85" height="44.36" fill="#4044f5"/>
<rect x="1098.48" y="1897.00" width="44.85" height="44.36" fill="#ffc8b9"/>
<rect x="1143.03" y="1897.00" width="44.85" height="44.36" fill="#eee2e0"/>
<rect x="1187.57" y="1897.00" width="44.85" height="44.36" fill="#ffe5d5"/>
<rect x="1232.12" y="1897.00" width="44.85" height="44.36" fill="#8985eb"/>
<rect x="1276.67" y="1897.00" width="44.85" height="44.36" fill="#ffab9e"/>
<rect x="1321.21" y="1897.00" width="44.85" height="44.36" fill="#beb6e4"/>
<rect x="1365.76" y="1897.00" width="44.85" height="44.36" fill="#9e98e8"/>
<rect x="1410.30" y="1897.00" width="44.85" height="44.36" fill="#ffdece"/>
<rect x="875.75" y="1941.06" width="44.85" height="44.36" fill="#ffdece"/>
<rect x="920.30" y="1941.06" width="44.85" height="44.36" fill="#e9dde1"/>
<rect x="1009.39" y="1941.06" width="44.85" height="44.36" fill="#d3c9e4"/>
<rect x="1053.93" y="1941.06" width="44.85" height="44.36" fill="#6d6cee"/>
<rect x="1098.48" y="1941.06" width="44.85" height="44.36" fill="#ffd6c6"/>
<rect x="1143.03" y="1941.06" width="44.85" height="44.36" fill="#ff9288"/>
<rect x="1187.57" y="1941.06" width="44.85" height="44.36" fill="#ffafa2"/>
<rect x="1232.12" y="1941.06" width="44.85" height="44.36" fill="#ffefde"/>
<rect x="1276.67" y="1941.06" width="44.85" height="44.36" fill="#e9dde1"/>
<rect x="1321.21" y="1941.06" width="44.85" height="44.36" fill="#ff776e"/>
<rect x="1365.76" y="1941.06" width="44.85" height="44.36" fill="#ffd6c6"/>
<rect x="1410.30" y="1941.06" width="44.85" height="44.36" fill="#eee2e0"/>
<rect x="875.75" y="1985.12" width="44.85" height="44.36" fill="#ffb4a6"/>
<rect x="920.30" y="1985.12" width="44.85" height="44.36" fill="#a39de7"/>
<rect x="964.84" y="1985.12" width="44.85" height="44.36" fill="#d3c9e4"/>
<rect x="1053.93" y="1985.12" width="44.85" height="44.36" fill="#e9dde1"/>
<rect x="1098.48" y="1985.12" width="44.85" height="44.36" fill="#eee2e0"/>
<rect x="1143.03" y="1985.12" width="44.85" height="44.36" fill="#c3bbe4"/>
<rect x="1187.57" y="1985.12" width="44.85" height="44.36" fill="#ffafa2"/>
<rect x="1232.12" y="1985.12" width="44.85" height="44.36" fill="#ff988e"/>
<rect x="1276.67" y="1985.12" width="44.85" height="44.36" fill="#ff7c72"/>
<rect x="1321.21" y="1985.12" width="44.85" height="44.36" fill="#c9bfe4"/>
<rect x="1365.76" y="1985.12" width="44.85" height="44.36" fill="#ffe5d5"/>
<rect x="1410.30" y="1985.12" width="44.85" height="44.36" fill="#ffdece"/>
<rect x="875.75" y="2029.17" width="44.85" height="44.36" fill="#5656f1"/>
<rect x="920.30" y="2029.17" width="44.85" height="44.36" fill="#4044f5"/>
<rect x="964.84" y="2029.17" width="44.85" height="44.36" fill="#6d6cee"/>
<rect x="1009.39" y="2029.17" width="44.85" height="44.36" fill="#e9dde1"/>
<rect x="1098.48" y="2029.17" width="44.85" height="44.36" fill="#ffc1b3"/>
<rect x="1143.03" y="2029.17" width="44.85" height="44.36" fill="#ff9f94"/>
<rect x="1187.57" y="2029.17" width="44.85" height="44.36" fill="#ffb4a6"/>
<rect x="1232.12" y="2029.17" width="44.85" height="44.36" fill="#ded4e4"/>
<rect x="1276.67" y="2029.17" width="44.85" height="44.36" fill="#fe3c3d"/>
<rect x="1321.21" y="2029.17" width="44.85" height="44.36" fill="#beb6e4"/>
<rect x="1365.76" y="2029.17" width="44.85" height="44.36" fill="#cec4e4"/>
<rect x="1410.30" y="2029.17" width="44.85" height="44.36" fill="#eee2e0"/>
<rect x="875.75" y="2073.23" width="89.39" height="44.36" fill="#ffc8b9"/>
<rect x="964.84" y="2073.23" width="44.85" height="44.36" fill="#ffd6c6"/>
<rect x="1009.39" y="2073.23" width="44.85" height="44.36" fill="#eee2e0"/>
<rect x="1053.93" y="2073.23" width="44.85" height="44.36" fill="#ffc1b3"/>
<rect x="1143.03" y="2073.23" width="44.85" height="44.36" fill="#353cf7"/>
<rect x="1187.57" y="2073.23" width="44.85" height="44.36" fill="#ded4e4"/>
<rect x="1232.12" y="2073.23" width="44.85" height="44.36" fill="#ffdece"/>
<rect x="1276.67" y="2073.23" width="44.85" height="44.36" fill="#beb6e4"/>
<rect x="1321.21" y="2073.23" width="44.85" height="44.36" fill="#ff9288"/>
<rect x="1365.76" y="2073.23" width="44.85" height="44.36" fill="#ffbbac"/>
<rect x="1410.30" y="2073.23" width="44.85" height="44.36" fill="#ffdece"/>
<rect x="875.75" y="2117.29" width="44.85" height="44.36" fill="#ff9288"/>
<rect x="920.30" y="2117.29" width="44.85" height="44.36" fill="#eee2e0"/>
<rect x="964.84" y="2117.29" width="44.85" height="44.36" fill="#ff9288"/>
<rect x="1009.39" y="2117.29" width="44.85" height="44.36" fill="#c3bbe4"/>
<rect x="1053.93" y="2117.29" width="44.85" height="44.36" fill="#ff9f94"/>
<rect x="1098.48" y="2117.29" width="44.85" height="44.36" fill="#353cf7"/>
<rect x="1187.57" y="2117.29" width="44.85" height="44.36" fill="#770005"/>
<rect x="1232.12" y="2117.29" width="44.85" height="44.36" fill="#fe3c3d"/>
<rect x="1276.67" y="2117.29" width="44.85" height="44.36" fill="#9e98e8"/>
<rect x="1321.21" y="2117.29" width="44.85" height="44.36" fill="#ffefde"/>
<rect x="1365.76" y="2117.29" width="44.85" height="44.36" fill="#ff776e"/>
<rect x="1410.30" y="2117.29" width="44.85" height="44.36" fill="#fe4e4e"/>
<rect x="875.75" y="2161.35" width="44.85" height="44.36" fill="#ffafa2"/>
<rect x="920.30" y="2161.35" width="44.85" height="44.36" fill="#ffe5d5"/>
<rect x="964.84" y="2161.35" width="89.39" height="44.36" fill="#ffafa2"/>
<rect x="1053.93" y="2161.35" width="44.85" height="44.36" fill="#ffb4a6"/>
<rect x="1098.48" y="2161.35" width="44.85" height="44.36" fill="#ded4e4"/>
<rect x="1143.03" y="2161.35" width="44.85" height="44.36" fill="#770005"/>
<rect x="1232.12" y="2161.35" width="44.85" height="44.36" fill="#ff5a58"/>
<rect x="1276.67" y="2161.35" width="44.85" height="44.36" fill="#ffdece"/>
<rect x="1321.21" y="2161.35" width="44.85" height="44.36" fill="#9e98e8"/>
<rect x="1365.76" y="2161.35" width="44.85" height="44.36" fill="#ff988e"/>
<rect x="1410.30" y="2161.35" width="44.85" height="44.36" fill="#1a34f6"/>
<rect x="875.75" y="2205.41" width="44.85" height="44.36" fill="#ff7c72"/>
<rect x="920.30" y="2205.41" width="44.85" height="44.36" fill="#8985eb"/>
<rect x="964.84" y="2205.41" width="44.85" height="44.36" fill="#ffefde"/>
<rect x="1009.39" y="2205.41" width="44.85" height="44.36" fill="#ff988e"/>
<rect x="1053.93" y="2205.41" width="44.85" height="44.36" fill="#ded4e4"/>
<rect x="1098.48" y="2205.41" width="44.85" height="44.36" fill="#ffdece"/>
<rect x="1143.03" y="2205.41" width="44.85" height="44.36" fill="#fe3c3d"/>
<rect x="1187.57" y="2205.41" width="44.85" height="44.36" fill="#ff5a58"/>
<rect x="1276.67" y="2205.41" width="44.85" height="44.36" fill="#beb6e4"/>
<rect x="1321.21" y="2205.41" width="44.85" height="44.36" fill="#9e98e8"/>
<rect x="1365.76" y="2205.41" width="44.85" height="44.36" fill="#8985eb"/>
<rect x="1410.30" y="2205.41" width="44.85" height="44.36" fill="#3b40f6"/>
<rect x="875.75" y="2249.47" width="89.39" height="44.36" fill="#ffab9e"/>
<rect x="964.84" y="2249.47" width="44.85" height="44.36" fill="#e9dde1"/>
<rect x="1009.39" y="2249.47" width="44.85" height="44.36" fill="#ff7c72"/>
<rect x="1053.93" y="2249.47" width="44.85" height="44.36" fill="#fe3c3d"/>
<rect x="1098.48" y="2249.47" width="44.85" height="44.36" fill="#beb6e4"/>
<rect x="1143.03" y="2249.47" width="44.85" height="44.36" fill="#9e98e8"/>
<rect x="1187.57" y="2249.47" width="44.85" height="44.36" fill="#ffdece"/>
<rect x="1232.12" y="2249.47" width="44.85" height="44.36" fill="#beb6e4"/>
<rect x="1321.21" y="2249.47" width="44.85" height="44.36" fill="#ffab9e"/>
<rect x="1365.76" y="2249.47" width="44.85" height="44.36" fill="#ded4e4"/>
<rect x="1410.30" y="2249.47" width="44.85" height="44.36" fill="#2c37f8"/>
<rect x="875.75" y="2293.52" width="44.85" height="44.36" fill="#ff6d68"/>
<rect x="920.30" y="2293.52" width="44.85" height="44.36" fill="#beb6e4"/>
<rect x="964.84" y="2293.52" width="44.85" height="44.36" fill="#ff776e"/>
<rect x="1009.39" y="2293.52" width="44.85" height="44.36" fill="#c9bfe4"/>
<rect x="1053.93" y="2293.52" width="44.85" height="44.36" fill="#beb6e4"/>
<rect x="1098.48" y="2293.52" width="44.85" height="44.36" fill="#ff9288"/>
<rect x="1143.03" y="2293.52" width="44.85" height="44.36" fill="#ffefde"/>
<rect x="1187.57" y="2293.52" width="89.39" height="44.36" fill="#9e98e8"/>
<rect x="1276.67" y="2293.52" width="44.85" height="44.36" fill="#ffab9e"/>
<rect x="1365.76" y="2293.52" width="44.85" height="44.36" fill="#ffc1b3"/>
<rect x="1410.30" y="2293.52" width="44.85" height="44.36" fill="#c9bfe4"/>
<rect x="875.75" y="2337.58" width="44.85" height="44.36" fill="#ffab9e"/>
<rect x="920.30" y="2337.58" width="44.85" height="44.36" fill="#9e98e8"/>
<rect x="964.84" y="2337.58" width="44.85" height="44.36" fill="#ffd6c6"/>
<rect x="1009.39" y="2337.58" width="44.85" height="44.36" fill="#ffe5d5"/>
<rect x="1053.93" y="2337.58" width="44.85" height="44.36" fill="#cec4e4"/>
<rect x="1098.48" y="2337.58" width="44.85" height="44.36" fill="#ffbbac"/>
<rect x="1143.03" y="2337.58" width="44.85" height="44.36" fill="#ff776e"/>
<rect x="1187.57" y="2337.58" width="44.85" height="44.36" fill="#ff988e"/>
<rect x="1232.12" y="2337.58" width="44.85" height="44.36" fill="#8985eb"/>
<rect x="1276.67" y="2337.58" width="44.85" height="44.36" fill="#ded4e4"/>
<rect x="1321.21" y="2337.58" width="44.85" height="44.36" fill="#ffc1b3"/>
<rect x="1410.30" y="2337.58" width="44.85" height="44.36" fill="#c9bfe4"/>
<rect x="875.75" y="2381.64" width="44.85" height="44.36" fill="#ffe5d5"/>
<rect x="920.30" y="2381.64" width="44.85" height="44.36" fill="#ffdece"/>
<rect x="964.84" y="2381.64" width="44.85" height="44.36" fill="#eee2e0"/>
<rect x="1009.39" y="2381.64" width="44.85" height="44.36" fill="#ffdece"/>
<rect x="1053.93" y="2381.64" width="44.85" height="44.36" fill="#eee2e0"/>
<rect x="1098.48" y="2381.64" width="44.85" height="44.36" fill="#ffdece"/>
<rect x="1143.03" y="2381.64" width="44.85" height="44.36" fill="#fe4e4e"/>
<rect x="1187.57" y="2381.64" width="44.85" height="44.36" fill="#1a34f6"/>
<rect x="1232.12" y="2381.64" width="44.85" height="44.36" fill="#3b40f6"/>
<rect x="1276.67" y="2381.64" width="44.85" height="44.36" fill="#2c37f8"/>
<rect x="1321.21" y="2381.64" width="89.39" height="44.36" fill="#c9bfe4"/>
</g>
<rect x="876.0" y="1853.1" width="579.4" height="573.1" fill="none" stroke="#3a3a3a" stroke-width="1"/>
<path d="M942.6,1852.9v6M942.6,2425.7v-6M875.8,1919.0h6M1454.8,1919.0h-6M1031.7,1852.9v6M1031.7,2425.7v-6M875.8,2007.1h6M1454.8,2007.1h-6M1120.8,1852.9v6M1120.8,2425.7v-6M875.8,2095.3h6M1454.8,2095.3h-6M1209.8,1852.9v6M1209.8,2425.7v-6M875.8,2183.4h6M1454.8,2183.4h-6M1298.9,1852.9v6M1298.9,2425.7v-6M875.8,2271.5h6M1454.8,2271.5h-6M1388.0,1852.9v6M1388.0,2425.7v-6M875.8,2359.6h6M1454.8,2359.6h-6" stroke="#222" stroke-width=".9" fill="none"/>
<g font-family="'Liberation Serif',serif" font-size="8" fill="#555" text-anchor="middle">
<text x="942.6" y="2435.0">2</text>
<text x="1031.7" y="2435.0">4</text>
<text x="1120.8" y="2435.0">6</text>
<text x="1209.8" y="2435.0">8</text>
<text x="1298.9" y="2435.0">10</text>
<text x="1388.0" y="2435.0">12</text>
</g>
<g font-family="'DejaVu Sans',sans-serif" font-size="22.5" fill="#0a0a0a" stroke="#0a0a0a" stroke-width=".35" text-anchor="middle">
<text x="1210.5" y="2150.4" letter-spacing="2.6">**</text>
<text x="1166.0" y="2194.5" letter-spacing="2.6">**</text>
</g>
<rect x="1467.7" y="1853.3" width="15.4" height="573.2" fill="url(#cbar5)" stroke="#555" stroke-width=".6"/>
<g font-family="'Liberation Serif',serif" font-size="8.5" fill="#444">
<text x="1483.9" y="1856.1">5</text>
<text x="1483.9" y="1913.4">4</text>
<text x="1483.9" y="1970.7">3</text>
<text x="1483.9" y="2028.1">2</text>
<text x="1483.9" y="2085.4">1</text>
<text x="1483.9" y="2142.7">0</text>
<text x="1483.9" y="2200.0">-1</text>
<text x="1483.9" y="2257.3">-2</text>
<text x="1483.9" y="2314.7">-3</text>
<text x="1483.9" y="2372.0">-4</text>
<text x="1483.9" y="2429.3">-5</text>
</g>
<path d="M1467.7,1910.6h5M1483.1,1910.6h-6M1467.7,1967.9h5M1483.1,1967.9h-6M1467.7,2025.3h5M1483.1,2025.3h-6M1467.7,2082.6h5M1483.1,2082.6h-6M1467.7,2139.9h5M1483.1,2139.9h-6M1467.7,2197.2h5M1483.1,2197.2h-6M1467.7,2254.5h5M1483.1,2254.5h-6M1467.7,2311.9h5M1483.1,2311.9h-6M1467.7,2369.2h5M1483.1,2369.2h-6" stroke="#333" stroke-width="1" stroke-dasharray="2.5 1.5" fill="none"/>
<g font-family="'Liberation Sans',sans-serif" font-size="15.5" fill="#111" text-anchor="middle">
<text x="894.6" y="1791.4">1</text>
<text x="804.8" y="1879.2">1</text>
<text x="941.3" y="1789.5">2</text>
<text x="804.8" y="1922.0">2</text>
<text x="988.4" y="1791.4">3</text>
<text x="804.8" y="1966.1">3</text>
<text x="1032.8" y="1791.4">4</text>
<text x="804.8" y="2012.1">4</text>
<text x="1075.9" y="1791.4">5</text>
<text x="804.8" y="2058.1">5</text>
<text x="1124.1" y="1791.4">6</text>
<text x="804.8" y="2097.3">6</text>
<text x="1166.9" y="1791.4">7</text>
<text x="804.8" y="2141.2">7</text>
<text x="1212.1" y="1790.9">8</text>
<text x="804.8" y="2188.8">8</text>
<text x="1256.0" y="1791.1">9</text>
<text x="804.8" y="2232.3">9</text>
<text x="1301.3" y="1791.4">10</text>
<text x="804.5" y="2271.5">10</text>
<text x="1344.6" y="1791.4">11</text>
<text x="804.5" y="2316.3">11</text>
<text x="1390.0" y="1793.0">12</text>
<text x="804.5" y="2358.9">12</text>
<text x="1435.0" y="1793.0">13</text>
<text x="804.5" y="2406.7">13</text>
</g>
<g transform="translate(894.6 1823.9) scale(1.016 1.000)" filter="url(#bl)"><path class="p0"/><path class="p1"/><path class="p2"/><path class="p3"/><path class="p4"/><g clip-path="url(#ka1)"><ellipse cx="-3" cy="13.5" rx="4.6" ry="6.8" fill="url(#gy)" transform="rotate(-28 -3 13.5)"/><ellipse cx="3" cy="13.5" rx="4.6" ry="6.8" fill="url(#gy)" transform="rotate(28 3 13.5)"/><ellipse cx="0" cy="15.5" rx="4.5" ry="4.5" fill="url(#gy)"/></g></g><g transform="translate(894.6 1823.9) scale(1.016 1.000)"><path class="p5"/></g>
<g transform="translate(817.9 1856.5) scale(0.950 0.945)" filter="url(#bl)"><path class="p6"/><path class="p7"/><path class="p8"/><ellipse cx="18.8" cy="17.3" rx="2.2" ry="1.8" fill="#d8d8d8" opacity=".9"/><ellipse cx="35.6" cy="19.4" rx="1.6" ry="2.2" fill="#c4c4c4" opacity=".7"/><path class="p9"/><path class="p10"/><path class="p11"/><g clip-path="url(#km)"><ellipse cx="8.3" cy="17.5" rx="6.2" ry="9.2" fill="url(#gr)" transform="rotate(12 8.3 17.5)"/><ellipse cx="7.5" cy="18.5" rx="4.6" ry="6.5" fill="url(#gy)" transform="rotate(12 7.5 18.5)"/></g></g><g transform="translate(817.9 1856.5) scale(0.950 0.945)"><path class="p12"/></g>
<g transform="translate(941.3 1822.4) scale(1.039 1.064)" filter="url(#bl)"><path class="p13"/><path class="p1"/><path class="p2"/><path class="p3"/><path class="p4"/><g clip-path="url(#ka2)"><ellipse cx="0" cy="10.5" rx="7" ry="3" fill="url(#gr)"/><ellipse cx="-10" cy="14" rx="6.8" ry="5.8" fill="url(#go)" transform="rotate(20 -10 14)"/><ellipse cx="10" cy="14" rx="6.8" ry="5.8" fill="url(#go)" transform="rotate(-20 10 14)"/></g></g><g transform="translate(941.3 1822.4) scale(1.039 1.064)"><path class="p14"/></g>
<g transform="translate(821.3 1902.8) scale(0.930 0.935)" filter="url(#bl)"><path class="p15"/><path class="p16"/><path class="p17"/><path class="p18"/><g clip-path="url(#kl)"><ellipse cx="8" cy="20.5" rx="7.2" ry="7.8" fill="url(#gr)"/><ellipse cx="5.5" cy="21" rx="4.8" ry="5.5" fill="url(#go)"/><ellipse cx="14.5" cy="5.5" rx="1.1" ry="1.1" fill="url(#gr)"/></g></g><g transform="translate(821.3 1902.8) scale(0.930 0.935)"><path class="p19"/></g>
<g transform="translate(988.4 1822.7) scale(0.987 1.053)" filter="url(#bl)"><path class="p13"/><path class="p1"/><path class="p2"/><path class="p3"/><path class="p4"/><g clip-path="url(#ka3)"><ellipse cx="0" cy="19.3" rx="11" ry="4" fill="url(#gr)"/><ellipse cx="-4.5" cy="19.8" rx="5.5" ry="3" fill="url(#gy)"/><ellipse cx="4.5" cy="19.8" rx="5.5" ry="3" fill="url(#gy)"/></g></g><g transform="translate(988.4 1822.7) scale(0.987 1.053)"><path class="p14"/></g>
<g transform="translate(817.9 1943.9) scale(0.950 0.945)" filter="url(#bl)"><path class="p6"/><path class="p7"/><path class="p8"/><ellipse cx="18.8" cy="17.3" rx="2.2" ry="1.8" fill="#d8d8d8" opacity=".9"/><ellipse cx="35.6" cy="19.4" rx="1.6" ry="2.2" fill="#c4c4c4" opacity=".7"/><path class="p9"/><path class="p10"/><path class="p11"/><g clip-path="url(#km)"><ellipse cx="4" cy="23" rx="4.2" ry="4.2" fill="url(#go)"/><ellipse cx="3.5" cy="23.3" rx="2.4" ry="2.4" fill="url(#gy)"/><ellipse cx="24.5" cy="20" rx="2.2" ry="1.3" fill="url(#gr)"/></g></g><g transform="translate(817.9 1943.9) scale(0.950 0.945)"><path class="p12"/></g>
<g transform="translate(1032.8 1824.9) scale(0.947 0.957)" filter="url(#bl)"><path class="p20"/><path class="p21"/><path class="p22"/><path class="p23"/><g clip-path="url(#ka4)"><ellipse cx="-13" cy="0.5" rx="5.6" ry="7.8" fill="url(#gr)"/><ellipse cx="13" cy="0.5" rx="5.6" ry="7.8" fill="url(#gr)"/><ellipse cx="-13.5" cy="1" rx="3" ry="4" fill="url(#go)"/><ellipse cx="13.5" cy="0" rx="3" ry="4" fill="url(#go)"/></g></g><g transform="translate(1032.8 1824.9) scale(0.947 0.957)"><path class="p24"/></g>
<g transform="translate(821.3 1991.6) scale(0.930 0.935)" filter="url(#bl)"><path class="p15"/><path class="p16"/><path class="p17"/><path class="p18"/><g clip-path="url(#kl)"><ellipse cx="21" cy="18" rx="13.5" ry="4.8" fill="url(#gr)" transform="rotate(16 21 18)"/><ellipse cx="14" cy="14.5" rx="4.5" ry="3.2" fill="url(#gr)"/><ellipse cx="27" cy="20" rx="5" ry="3.5" fill="url(#gr)"/></g></g><g transform="translate(821.3 1991.6) scale(0.930 0.935)"><path class="p19"/></g>
<g transform="translate(1075.9 1826.2) scale(0.921 0.904)" filter="url(#bl)"><path class="p25"/><path class="p26"/><path class="p27"/><path class="p28"/><g clip-path="url(#ka5)"><ellipse cx="-12" cy="2" rx="4.8" ry="4.4" fill="url(#go)" transform="rotate(20 -12 2)"/><ellipse cx="0" cy="-3" rx="4" ry="8" fill="url(#gr)"/><ellipse cx="0" cy="-3" rx="2.2" ry="4.5" fill="url(#go)"/><ellipse cx="12.5" cy="2" rx="4.8" ry="4.4" fill="url(#go)" transform="rotate(-20 12.5 2)"/><ellipse cx="4" cy="-15" rx="1" ry="1" fill="url(#gr)"/></g></g><g transform="translate(1075.9 1826.2) scale(0.921 0.904)"><path class="p29"/></g>
<g transform="translate(821.3 2037.0) scale(0.930 0.935)" filter="url(#bl)"><path class="p30"/><path class="p16"/><path class="p17"/><path class="p18"/><g clip-path="url(#kl)"><ellipse cx="15" cy="6" rx="5.8" ry="4.4" fill="url(#go)" transform="rotate(12 15 6)"/><ellipse cx="17" cy="13.5" rx="1.8" ry="1.2" fill="url(#gr)"/></g></g><g transform="translate(821.3 2037.0) scale(0.930 0.935)"><path class="p19"/></g>
<g transform="translate(1124.1 1824.9) scale(0.947 0.957)" filter="url(#bl)"><path class="p31"/><path class="p21"/><path class="p22"/><path class="p23"/><g clip-path="url(#ka6)"><ellipse cx="0" cy="12.5" rx="5.8" ry="7" fill="url(#gy)"/><ellipse cx="-13.5" cy="12" rx="3.4" ry="3.2" fill="url(#go)"/><ellipse cx="13.5" cy="12" rx="3.4" ry="3.2" fill="url(#go)"/><ellipse cx="0" cy="-16.5" rx="1.5" ry="2" fill="url(#gr)"/></g></g><g transform="translate(1124.1 1824.9) scale(0.947 0.957)"><path class="p32"/></g>
<g transform="translate(817.9 2076.9) scale(0.950 0.945)" filter="url(#bl)"><path class="p6"/><path class="p7"/><path class="p8"/><ellipse cx="18.8" cy="17.3" rx="2.2" ry="1.8" fill="#d8d8d8" opacity=".9"/><ellipse cx="35.6" cy="19.4" rx="1.6" ry="2.2" fill="#c4c4c4" opacity=".7"/><path class="p9"/><path class="p10"/><path class="p11"/><g clip-path="url(#km)"><ellipse cx="14.5" cy="13.5" rx="8" ry="6.8" fill="url(#gr)"/><ellipse cx="13" cy="13" rx="5.5" ry="4.8" fill="url(#gy)"/><ellipse cx="41" cy="20" rx="4.5" ry="4.8" fill="url(#go)"/></g></g><g transform="translate(817.9 2076.9) scale(0.950 0.945)"><path class="p12"/></g>
<g transform="translate(1166.9 1824.9) scale(0.966 0.957)" filter="url(#bl)"><path class="p31"/><path class="p26"/><path class="p27"/><path class="p28"/><g clip-path="url(#ka7)"><ellipse cx="0" cy="-17.5" rx="8.5" ry="3.4" fill="url(#go)"/><ellipse cx="-13.5" cy="13" rx="2.8" ry="2.6" fill="url(#gr)"/><ellipse cx="0" cy="13" rx="2.5" ry="3" fill="url(#gr)"/><ellipse cx="13.5" cy="13" rx="3.2" ry="3" fill="url(#gr)"/><ellipse cx="13.5" cy="-8" rx="1.4" ry="2" fill="url(#gr)"/></g></g><g transform="translate(1166.9 1824.9) scale(0.966 0.957)"><path class="p32"/></g>
<g transform="translate(817.9 2118.8) scale(0.950 0.945)" filter="url(#bl)"><path class="p6"/><path class="p7"/><path class="p8"/><ellipse cx="18.8" cy="17.3" rx="2.2" ry="1.8" fill="#d8d8d8" opacity=".9"/><ellipse cx="35.6" cy="19.4" rx="1.6" ry="2.2" fill="#c4c4c4" opacity=".7"/><path class="p9"/><path class="p10"/><path class="p11"/><g clip-path="url(#km)"><ellipse cx="27" cy="5.5" rx="14" ry="2.8" fill="url(#gr)" transform="rotate(12 27 5.5)"/><ellipse cx="42" cy="13.5" rx="3.6" ry="7" fill="url(#go)" transform="rotate(-28 42 13.5)"/><ellipse cx="13" cy="13.5" rx="3" ry="3" fill="url(#gr)"/><ellipse cx="43" cy="20" rx="1.5" ry="1.5" fill="url(#gr)"/></g></g><g transform="translate(817.9 2118.8) scale(0.950 0.945)"><path class="p12"/></g>
<g transform="translate(1212.1 1823.4) scale(0.953 1.021)" filter="url(#bl)"><path class="p33"/><path class="p21"/><path class="p22"/><path class="p23"/><g clip-path="url(#ka8)"><ellipse cx="0" cy="-14" rx="11.5" ry="6" fill="url(#go)"/><ellipse cx="-7" cy="-15.5" rx="4.5" ry="3.5" fill="url(#go)"/><ellipse cx="7" cy="-15.5" rx="4.5" ry="3.5" fill="url(#go)"/><ellipse cx="0" cy="-12" rx="4" ry="4" fill="url(#gy)"/><ellipse cx="-3" cy="-6" rx="2.2" ry="3.5" fill="url(#gr)"/><ellipse cx="0" cy="-3" rx="1.6" ry="3" fill="url(#gr)"/></g></g><g transform="translate(1212.1 1823.4) scale(0.953 1.021)"><path class="p34"/></g>
<g transform="translate(821.3 2169.2) scale(0.930 0.935)" filter="url(#bl)"><path class="p30"/><path class="p16"/><path class="p17"/><path class="p18"/><g clip-path="url(#kl)"><ellipse cx="33.5" cy="12.5" rx="3.8" ry="8" fill="url(#go)" transform="rotate(-32 33.5 12.5)"/><ellipse cx="27" cy="18.5" rx="2.6" ry="2" fill="url(#gr)"/></g></g><g transform="translate(821.3 2169.2) scale(0.930 0.935)"><path class="p19"/></g>
<g transform="translate(1256.0 1826.2) scale(0.968 0.904)" filter="url(#bl)"><path class="p35"/><path class="p26"/><path class="p27"/><path class="p28"/><g clip-path="url(#ka9)"><ellipse cx="8" cy="-9" rx="3.8" ry="8.5" fill="url(#go)" transform="rotate(-22 8 -9)"/><ellipse cx="11" cy="12" rx="5.6" ry="9.5" fill="url(#go)" transform="rotate(12 11 12)"/><ellipse cx="1" cy="-12" rx="1.6" ry="3.5" fill="url(#gr)"/><ellipse cx="0" cy="6" rx="1.7" ry="3.5" fill="url(#gr)"/><ellipse cx="1" cy="15" rx="1.6" ry="3" fill="url(#gr)"/></g></g><g transform="translate(1256.0 1826.2) scale(0.968 0.904)"><path class="p36"/></g>
<g transform="translate(821.3 2211.2) scale(0.930 0.935)" filter="url(#bl)"><path class="p15"/><path class="p16"/><path class="p17"/><path class="p18"/><g clip-path="url(#kl)"><ellipse cx="9" cy="6.5" rx="8" ry="4.6" fill="url(#go)" transform="rotate(-28 9 6.5)"/><ellipse cx="30" cy="12" rx="5" ry="11" fill="url(#go)" transform="rotate(-34 30 12)"/><ellipse cx="7" cy="22.5" rx="4.6" ry="3.2" fill="url(#gr)" transform="rotate(-20 7 22.5)"/></g></g><g transform="translate(821.3 2211.2) scale(0.930 0.935)"><path class="p19"/></g>
<g transform="translate(1301.3 1825.7) scale(0.947 0.926)" filter="url(#bl)"><path class="p35"/><path class="p26"/><path class="p27"/><path class="p28"/><g clip-path="url(#ka10)"><ellipse cx="-12.5" cy="9" rx="5" ry="9.5" fill="url(#gy)" transform="rotate(12 -12.5 9)"/><ellipse cx="-10" cy="-10" rx="4.2" ry="7" fill="url(#go)" transform="rotate(25 -10 -10)"/><ellipse cx="0" cy="-13" rx="2" ry="4.5" fill="url(#gr)"/><ellipse cx="0" cy="2" rx="1.8" ry="7" fill="url(#gr)"/><ellipse cx="0" cy="15" rx="1.6" ry="3" fill="url(#gr)"/><ellipse cx="14.5" cy="8" rx="2.8" ry="4.5" fill="url(#go)"/><ellipse cx="-3" cy="-17" rx="2.5" ry="2" fill="url(#gr)"/></g></g><g transform="translate(1301.3 1825.7) scale(0.947 0.926)"><path class="p36"/></g>
<g transform="translate(821.3 2253.7) scale(0.930 0.935)" filter="url(#bl)"><path class="p15"/><path class="p16"/><path class="p17"/><path class="p18"/><g clip-path="url(#kl)"><ellipse cx="8.5" cy="6" rx="9" ry="5.8" fill="url(#gy)" transform="rotate(-28 8.5 6)"/><ellipse cx="29" cy="11.5" rx="5.2" ry="10.5" fill="url(#go)" transform="rotate(-34 29 11.5)"/><ellipse cx="4.5" cy="23" rx="2.6" ry="2.6" fill="url(#gr)"/><ellipse cx="12" cy="14" rx="3" ry="2" fill="url(#gr)"/><ellipse cx="34" cy="19" rx="2.5" ry="3.5" fill="url(#gr)"/></g></g><g transform="translate(821.3 2253.7) scale(0.930 0.935)"><path class="p19"/></g>
<g transform="translate(1344.6 1824.4) scale(0.979 0.979)" filter="url(#bl)"><path class="p25"/><path class="p26"/><path class="p27"/><path class="p28"/><g clip-path="url(#ka11)"><ellipse cx="-10" cy="-15.5" rx="3" ry="3.2" fill="url(#go)"/><ellipse cx="10" cy="-15.5" rx="3" ry="3.2" fill="url(#go)"/><ellipse cx="0" cy="-9.5" rx="3.2" ry="3" fill="url(#gr)"/><ellipse cx="-16" cy="6" rx="3" ry="5.5" fill="url(#go)"/><ellipse cx="16" cy="6" rx="3" ry="5.5" fill="url(#go)"/><ellipse cx="-8" cy="19" rx="2.8" ry="2.4" fill="url(#gr)"/><ellipse cx="10" cy="19" rx="2.8" ry="2.4" fill="url(#gr)"/></g></g><g transform="translate(1344.6 1824.4) scale(0.979 0.979)"><path class="p29"/></g>
<g transform="translate(821.3 2297.4) scale(0.930 0.935)" filter="url(#bl)"><path class="p30"/><path class="p16"/><path class="p17"/><path class="p18"/><g clip-path="url(#kl)"><ellipse cx="11" cy="5" rx="2.4" ry="3.2" fill="url(#gr)" transform="rotate(10 11 5)"/><ellipse cx="20" cy="4.5" rx="2" ry="2.8" fill="url(#gr)" transform="rotate(15 20 4.5)"/><ellipse cx="2.5" cy="12" rx="1.5" ry="2" fill="url(#gr)"/><ellipse cx="33" cy="10.5" rx="4.6" ry="2.6" fill="url(#go)" transform="rotate(32 33 10.5)"/><ellipse cx="25" cy="18" rx="1.8" ry="1.4" fill="url(#gr)"/></g></g><g transform="translate(821.3 2297.4) scale(0.930 0.935)"><path class="p19"/></g>
<g transform="translate(1390.0 1823.9) scale(0.982 1.000)" filter="url(#bl)"><path class="p25"/><path class="p26"/><path class="p27"/><path class="p28"/><g clip-path="url(#ka12)"><ellipse cx="-12" cy="-8" rx="3.8" ry="3.4" fill="url(#gr)"/><ellipse cx="12.5" cy="-6" rx="2" ry="2" fill="url(#gr)"/><ellipse cx="-11" cy="16" rx="4.6" ry="3.4" fill="url(#go)"/><ellipse cx="11.5" cy="16" rx="4.4" ry="3.4" fill="url(#go)"/><ellipse cx="-4" cy="14.5" rx="1.5" ry="1.5" fill="url(#gr)"/><ellipse cx="-9" cy="-14" rx="1" ry="1.4" fill="url(#gr)"/></g></g><g transform="translate(1390.0 1823.9) scale(0.982 1.000)"><path class="p29"/></g>
<g transform="translate(821.3 2339.2) scale(0.930 0.935)" filter="url(#bl)"><path class="p30"/><path class="p16"/><path class="p17"/><path class="p18"/><g clip-path="url(#kl)"><ellipse cx="7" cy="8" rx="6" ry="4.6" fill="url(#go)" transform="rotate(-28 7 8)"/><ellipse cx="6" cy="8.5" rx="3.2" ry="2.2" fill="url(#gy)" transform="rotate(-28 6 8.5)"/><ellipse cx="25" cy="9.5" rx="2.8" ry="2.8" fill="url(#gr)"/><ellipse cx="32" cy="13.5" rx="2.3" ry="2.3" fill="url(#gr)"/><ellipse cx="36.5" cy="17.5" rx="1.6" ry="1.6" fill="url(#gr)"/><ellipse cx="24" cy="5" rx="1.4" ry="1.2" fill="url(#gr)"/></g></g><g transform="translate(821.3 2339.2) scale(0.930 0.935)"><path class="p19"/></g>
<g transform="translate(1435.0 1825.7) scale(1.000 0.926)" filter="url(#bl)"><path class="p37"/><path class="p38"/><path class="p39"/><ellipse cx="0" cy="1.5" rx="2.6" ry="3" fill="#8c8c8c" opacity=".85"/><g clip-path="url(#ka13)"><ellipse cx="0" cy="11.5" rx="11.5" ry="7" fill="url(#go)"/><ellipse cx="-5.5" cy="11" rx="5.5" ry="5" fill="url(#go)" transform="rotate(-20 -5.5 11)"/><ellipse cx="5.5" cy="11" rx="5.5" ry="5" fill="url(#go)" transform="rotate(20 5.5 11)"/><ellipse cx="0" cy="12.5" rx="6" ry="3.6" fill="url(#gy)"/></g></g><g transform="translate(1435.0 1825.7) scale(1.000 0.926)"><path class="p40"/></g>
<g transform="translate(817.9 2383.8) scale(0.950 0.945)" filter="url(#bl)"><path class="p6"/><path class="p7"/><path class="p8"/><ellipse cx="18.8" cy="17.3" rx="2.2" ry="1.8" fill="#d8d8d8" opacity=".9"/><ellipse cx="35.6" cy="19.4" rx="1.6" ry="2.2" fill="#c4c4c4" opacity=".7"/><path class="p9"/><path class="p10"/><path class="p11"/><g clip-path="url(#km)"><ellipse cx="18" cy="32.5" rx="10" ry="4.4" fill="url(#gr)" transform="rotate(24 18 32.5)"/><ellipse cx="17.5" cy="32.5" rx="8" ry="3.2" fill="url(#go)" transform="rotate(24 17.5 32.5)"/><ellipse cx="17" cy="32.3" rx="5" ry="2" fill="url(#gy)" transform="rotate(24 17 32.3)"/></g></g><g transform="translate(817.9 2383.8) scale(0.950 0.945)"><path class="p12"/></g>
</g>
<g font-family="'Liberation Sans',sans-serif" font-size="41.5" fill="#000" stroke="#000" stroke-width=".35">
<text x="132.3" y="65.3" textLength="476.5" lengthAdjust="spacingAndGlyphs" xml:space="preserve">Mean β values  under the</text>
<text x="84.8" y="115.2" textLength="566.4" lengthAdjust="spacingAndGlyphs" xml:space="preserve">placebo  (Psilocybin) condition</text>
<text x="132.3" y="881.3" textLength="476.5" lengthAdjust="spacingAndGlyphs" xml:space="preserve">Mean β values  under the</text>
<text x="82.9" y="931.2" textLength="369.7" lengthAdjust="spacingAndGlyphs" xml:space="preserve">Psilocybin condition</text>
<text x="140.4" y="1689.3" textLength="506.7" lengthAdjust="spacingAndGlyphs" xml:space="preserve">The difference between the</text>
<text x="91.9" y="1739.2" textLength="627.8" lengthAdjust="spacingAndGlyphs" xml:space="preserve">mean β of Psilocybin and placebo</text>
<text x="896.3" y="67.8" textLength="475.5" lengthAdjust="spacingAndGlyphs" xml:space="preserve">Mean β values  under the</text>
<text x="848.3" y="116.7" textLength="507.3" lengthAdjust="spacingAndGlyphs" xml:space="preserve">placebo  (MDMA) condition</text>
<text x="904.3" y="878.8" textLength="476.0" lengthAdjust="spacingAndGlyphs" xml:space="preserve">Mean β values  under the</text>
<text x="855.4" y="929.2" textLength="307.6" lengthAdjust="spacingAndGlyphs" xml:space="preserve">MDMA condition</text>
<text x="901.4" y="1689.3" textLength="506.7" lengthAdjust="spacingAndGlyphs" xml:space="preserve">The difference between the</text>
<text x="861.9" y="1739.2" textLength="566.8" lengthAdjust="spacingAndGlyphs" xml:space="preserve">mean β of MDMA and placebo</text>
</g>
<g font-family="'Liberation Sans',sans-serif" font-size="33.5" font-weight="bold" fill="#000">
<text x="28.0" y="66.4">A</text>
<text x="27.8" y="881.4">B</text>
<text x="28.3" y="1691.4">C</text>
<text x="801.6" y="67.4">D</text>
<text x="801.6" y="880.9">E</text>
<text x="801.6" y="1692.4">F</text>
</g>
<g fill="#000">
<rect x="11.6" y="3.8" width="1541.6" height="6.8"/>
<rect x="11.6" y="3.8" width="7.3" height="2460.6"/>
<rect x="1554" y="6.5" width="6.8" height="2458"/>
<rect x="11.6" y="2457.6" width="1549.2" height="6.8"/>
<rect x="779.6" y="6" width="6.8" height="2455"/>
<rect x="8" y="827.7" width="1553" height="6.6"/>
<rect x="14" y="1635.5" width="1547" height="6.5"/>
</g>
</svg></body></html>
